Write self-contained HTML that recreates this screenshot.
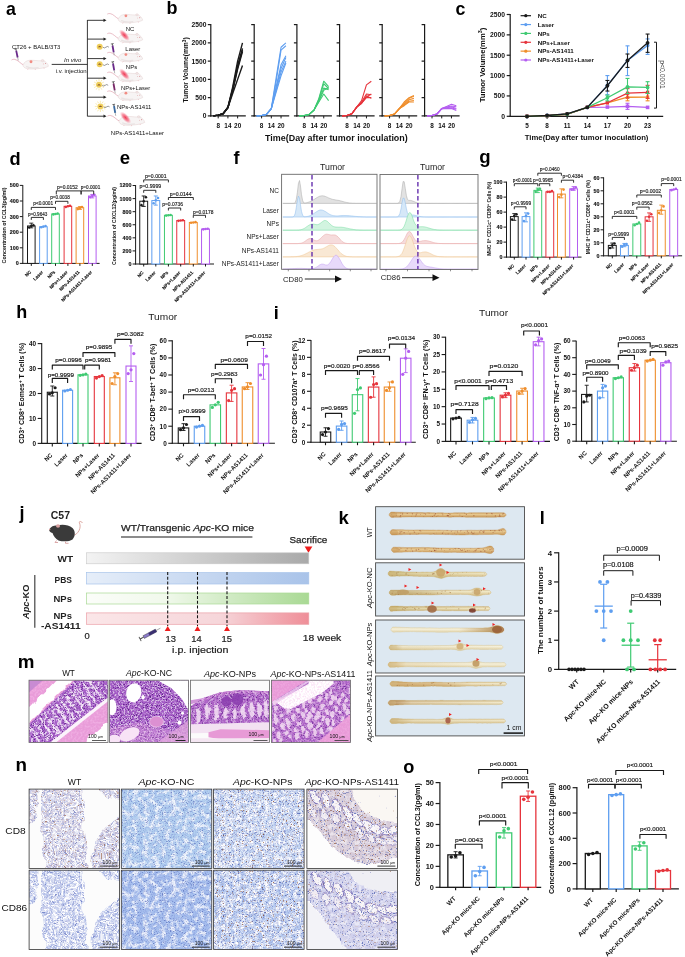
<!DOCTYPE html>
<html><head><meta charset="utf-8"><title>figure</title>
<style>html,body{margin:0;padding:0;background:#fff;}svg{display:block;filter:blur(0.3px);}
text{font-family:"Liberation Sans", sans-serif;}</style></head>
<body><svg width="685" height="957" viewBox="0 0 685 957">
<defs><filter id="mW" x="0" y="0" width="1" height="1" filterUnits="objectBoundingBox" color-interpolation-filters="sRGB"><feTurbulence type="fractalNoise" baseFrequency="0.42" numOctaves="2" seed="3"/><feColorMatrix type="matrix" values="0 0 0 0 1.000  0 0 0 0 1.000  0 0 0 0 1.000  4.2 0 0 0 -1.85"/></filter><filter id="mW2" x="0" y="0" width="1" height="1" filterUnits="objectBoundingBox" color-interpolation-filters="sRGB"><feTurbulence type="fractalNoise" baseFrequency="0.55" numOctaves="2" seed="7"/><feColorMatrix type="matrix" values="0 0 0 0 1.000  0 0 0 0 1.000  0 0 0 0 1.000  4.5 0 0 0 -2.0"/></filter><filter id="mD" x="0" y="0" width="1" height="1" filterUnits="objectBoundingBox" color-interpolation-filters="sRGB"><feTurbulence type="fractalNoise" baseFrequency="1.1" numOctaves="2" seed="5"/><feColorMatrix type="matrix" values="0 0 0 0 0.353  0 0 0 0 0.102  0 0 0 0 0.525  5.0 0 0 0 -2.75"/></filter><filter id="mP" x="0" y="0" width="1" height="1" filterUnits="objectBoundingBox" color-interpolation-filters="sRGB"><feTurbulence type="fractalNoise" baseFrequency="0.5" numOctaves="2" seed="9"/><feColorMatrix type="matrix" values="0 0 0 0 0.957  0 0 0 0 0.722  0 0 0 0 0.910  3.0 0 0 0 -1.2"/></filter><filter id="wob" x="-0.1" y="-0.1" width="1.2" height="1.2"><feTurbulence type="fractalNoise" baseFrequency="0.09" numOctaves="2" seed="4" result="t"/><feDisplacementMap in="SourceGraphic" in2="t" scale="9" xChannelSelector="R" yChannelSelector="G"/></filter><filter id="wob2" x="-0.1" y="-0.1" width="1.2" height="1.2"><feTurbulence type="fractalNoise" baseFrequency="0.15" numOctaves="2" seed="8" result="t"/><feDisplacementMap in="SourceGraphic" in2="t" scale="5" xChannelSelector="R" yChannelSelector="G"/></filter><filter id="nB" x="0" y="0" width="1" height="1" filterUnits="objectBoundingBox" color-interpolation-filters="sRGB"><feTurbulence type="fractalNoise" baseFrequency="0.9" numOctaves="2" seed="11"/><feColorMatrix type="matrix" values="0 0 0 0 0.165  0 0 0 0 0.251  0 0 0 0 0.627  5.5 0 0 0 -3.3"/></filter><filter id="nBr" x="0" y="0" width="1" height="1" filterUnits="objectBoundingBox" color-interpolation-filters="sRGB"><feTurbulence type="fractalNoise" baseFrequency="0.8" numOctaves="2" seed="13"/><feColorMatrix type="matrix" values="0 0 0 0 0.541  0 0 0 0 0.290  0 0 0 0 0.157  6.0 0 0 0 -3.9"/></filter><filter id="nW" x="0" y="0" width="1" height="1" filterUnits="objectBoundingBox" color-interpolation-filters="sRGB"><feTurbulence type="fractalNoise" baseFrequency="0.25" numOctaves="3" seed="17"/><feColorMatrix type="matrix" values="0 0 0 0 1.000  0 0 0 0 1.000  0 0 0 0 1.000  4.0 0 0 0 -1.7"/></filter><filter id="nW2" x="0" y="0" width="1" height="1" filterUnits="objectBoundingBox" color-interpolation-filters="sRGB"><feTurbulence type="fractalNoise" baseFrequency="0.18" numOctaves="3" seed="19"/><feColorMatrix type="matrix" values="0 0 0 0 1.000  0 0 0 0 1.000  0 0 0 0 1.000  4.5 0 0 0 -2.0"/></filter><filter id="nL" x="0" y="0" width="1" height="1" filterUnits="objectBoundingBox" color-interpolation-filters="sRGB"><feTurbulence type="fractalNoise" baseFrequency="0.7" numOctaves="2" seed="23"/><feColorMatrix type="matrix" values="0 0 0 0 0.478  0 0 0 0 0.525  0 0 0 0 0.816  4.0 0 0 0 -1.8"/></filter><filter id="nW3" x="0" y="0" width="1" height="1" filterUnits="objectBoundingBox" color-interpolation-filters="sRGB"><feTurbulence type="fractalNoise" baseFrequency="0.6" numOctaves="2" seed="29"/><feColorMatrix type="matrix" values="0 0 0 0 1.000  0 0 0 0 1.000  0 0 0 0 1.000  4.5 0 0 0 -1.9"/></filter><radialGradient id="glow"><stop offset="0" stop-color="#f0304a" stop-opacity="0.95"/><stop offset="0.55" stop-color="#f25570" stop-opacity="0.6"/><stop offset="1" stop-color="#f8a0b0" stop-opacity="0"/></radialGradient></defs>
<rect width="685" height="957" fill="#fff"/>
<line x1="22.80" y1="185.00" x2="22.80" y2="263.90" stroke="#1a1a1a" stroke-width="1.0" />
<line x1="22.30" y1="263.40" x2="99.60" y2="263.40" stroke="#1a1a1a" stroke-width="1.0" />
<line x1="19.80" y1="263.40" x2="22.80" y2="263.40" stroke="#1a1a1a" stroke-width="1.0" />
<text x="18.70" y="265.34" font-size="5.40" text-anchor="end" fill="#111" font-weight="bold" stroke="#111" stroke-width="0.12">0</text>
<line x1="19.80" y1="247.80" x2="22.80" y2="247.80" stroke="#1a1a1a" stroke-width="1.0" />
<text x="18.70" y="249.74" font-size="5.40" text-anchor="end" fill="#111" font-weight="bold" stroke="#111" stroke-width="0.12">100</text>
<line x1="19.80" y1="232.20" x2="22.80" y2="232.20" stroke="#1a1a1a" stroke-width="1.0" />
<text x="18.70" y="234.14" font-size="5.40" text-anchor="end" fill="#111" font-weight="bold" stroke="#111" stroke-width="0.12">200</text>
<line x1="19.80" y1="216.60" x2="22.80" y2="216.60" stroke="#1a1a1a" stroke-width="1.0" />
<text x="18.70" y="218.54" font-size="5.40" text-anchor="end" fill="#111" font-weight="bold" stroke="#111" stroke-width="0.12">300</text>
<line x1="19.80" y1="201.00" x2="22.80" y2="201.00" stroke="#1a1a1a" stroke-width="1.0" />
<text x="18.70" y="202.94" font-size="5.40" text-anchor="end" fill="#111" font-weight="bold" stroke="#111" stroke-width="0.12">400</text>
<line x1="19.80" y1="185.40" x2="22.80" y2="185.40" stroke="#1a1a1a" stroke-width="1.0" />
<text x="18.70" y="187.34" font-size="5.40" text-anchor="end" fill="#111" font-weight="bold" stroke="#111" stroke-width="0.12">500</text>
<rect x="27.50" y="225.96" width="7.60" height="37.44" fill="#fff" stroke="#1a1a1a" stroke-width="1.0" />
<line x1="31.30" y1="263.40" x2="31.30" y2="265.90" stroke="#1a1a1a" stroke-width="1.0" />
<line x1="31.30" y1="223.15" x2="31.30" y2="227.83" stroke="#1a1a1a" stroke-width="0.9" />
<line x1="29.30" y1="223.15" x2="33.30" y2="223.15" stroke="#1a1a1a" stroke-width="0.9" />
<line x1="29.30" y1="227.83" x2="33.30" y2="227.83" stroke="#1a1a1a" stroke-width="0.9" />
<circle cx="29.17" cy="227.52" r="1.30" fill="#1a1a1a" />
<circle cx="31.30" cy="225.96" r="1.30" fill="#1a1a1a" />
<circle cx="33.43" cy="225.18" r="1.30" fill="#1a1a1a" />
<rect x="39.60" y="226.74" width="7.60" height="36.66" fill="#fff" stroke="#5e9ef0" stroke-width="1.0" />
<line x1="43.40" y1="263.40" x2="43.40" y2="265.90" stroke="#1a1a1a" stroke-width="1.0" />
<circle cx="41.27" cy="227.21" r="1.30" fill="#5e9ef0" />
<circle cx="43.40" cy="226.58" r="1.30" fill="#5e9ef0" />
<circle cx="45.53" cy="225.96" r="1.30" fill="#5e9ef0" />
<rect x="51.70" y="213.95" width="7.60" height="49.45" fill="#fff" stroke="#3fca72" stroke-width="1.0" />
<line x1="55.50" y1="263.40" x2="55.50" y2="265.90" stroke="#1a1a1a" stroke-width="1.0" />
<circle cx="53.37" cy="214.42" r="1.30" fill="#3fca72" />
<circle cx="55.50" cy="213.95" r="1.30" fill="#3fca72" />
<circle cx="57.63" cy="213.48" r="1.30" fill="#3fca72" />
<rect x="64.10" y="206.30" width="7.60" height="57.10" fill="#fff" stroke="#e6343c" stroke-width="1.0" />
<line x1="67.90" y1="263.40" x2="67.90" y2="265.90" stroke="#1a1a1a" stroke-width="1.0" />
<circle cx="65.77" cy="206.93" r="1.30" fill="#e6343c" />
<circle cx="67.90" cy="206.30" r="1.30" fill="#e6343c" />
<circle cx="70.03" cy="205.68" r="1.30" fill="#e6343c" />
<rect x="76.10" y="207.71" width="7.60" height="55.69" fill="#fff" stroke="#ef8e2c" stroke-width="1.0" />
<line x1="79.90" y1="263.40" x2="79.90" y2="265.90" stroke="#1a1a1a" stroke-width="1.0" />
<line x1="79.90" y1="206.62" x2="79.90" y2="209.42" stroke="#ef8e2c" stroke-width="0.9" />
<line x1="77.90" y1="206.62" x2="81.90" y2="206.62" stroke="#ef8e2c" stroke-width="0.9" />
<line x1="77.90" y1="209.42" x2="81.90" y2="209.42" stroke="#ef8e2c" stroke-width="0.9" />
<circle cx="77.77" cy="209.11" r="1.30" fill="#ef8e2c" />
<circle cx="79.90" cy="207.86" r="1.30" fill="#ef8e2c" />
<circle cx="82.03" cy="206.93" r="1.30" fill="#ef8e2c" />
<rect x="88.50" y="196.01" width="7.60" height="67.39" fill="#fff" stroke="#b45ef0" stroke-width="1.0" />
<line x1="92.30" y1="263.40" x2="92.30" y2="265.90" stroke="#1a1a1a" stroke-width="1.0" />
<line x1="92.30" y1="194.45" x2="92.30" y2="197.88" stroke="#b45ef0" stroke-width="0.9" />
<line x1="90.30" y1="194.45" x2="94.30" y2="194.45" stroke="#b45ef0" stroke-width="0.9" />
<line x1="90.30" y1="197.88" x2="94.30" y2="197.88" stroke="#b45ef0" stroke-width="0.9" />
<circle cx="90.17" cy="197.26" r="1.30" fill="#b45ef0" />
<circle cx="92.30" cy="195.85" r="1.30" fill="#b45ef0" />
<circle cx="94.43" cy="194.76" r="1.30" fill="#b45ef0" />
<polyline points="31.30,219.90 31.30,217.40 43.40,217.40 43.40,219.90" stroke="#1a1a1a" stroke-width="0.9" fill="none" stroke-linejoin="round" />
<text x="37.70" y="215.80" font-size="5.00" text-anchor="middle" fill="#222" textLength="19.4" lengthAdjust="spacingAndGlyphs" stroke="#222" stroke-width="0.15">p=0.9643</text>
<polyline points="31.30,209.90 31.30,207.40 55.50,207.40 55.50,209.90" stroke="#1a1a1a" stroke-width="0.9" fill="none" stroke-linejoin="round" />
<text x="43.20" y="205.00" font-size="5.00" text-anchor="middle" fill="#222" textLength="19.9" lengthAdjust="spacingAndGlyphs" stroke="#222" stroke-width="0.15">p&lt;0.0001</text>
<polyline points="55.50,203.80 55.50,201.30 67.90,201.30 67.90,203.80" stroke="#1a1a1a" stroke-width="0.9" fill="none" stroke-linejoin="round" />
<text x="60.00" y="199.10" font-size="5.00" text-anchor="middle" fill="#222" textLength="19.5" lengthAdjust="spacingAndGlyphs" stroke="#222" stroke-width="0.15">p=0.0038</text>
<polyline points="56.30,194.40 56.30,190.90 81.10,190.90 81.10,194.40" stroke="#1a1a1a" stroke-width="0.9" fill="none" stroke-linejoin="round" />
<text x="67.40" y="188.80" font-size="5.00" text-anchor="middle" fill="#222" textLength="20.8" lengthAdjust="spacingAndGlyphs" stroke="#222" stroke-width="0.15">p=0.0152</text>
<polyline points="81.10,194.40 81.10,190.90 93.70,190.90 93.70,194.40" stroke="#1a1a1a" stroke-width="0.9" fill="none" stroke-linejoin="round" />
<text x="90.50" y="188.80" font-size="5.00" text-anchor="middle" fill="#222" textLength="19.5" lengthAdjust="spacingAndGlyphs" stroke="#222" stroke-width="0.15">p=0.0001</text>
<text transform="translate(4.60,225.40) rotate(-90)" x="0" y="1.73" font-size="4.80" text-anchor="middle" fill="#111" font-weight="bold" textLength="76.0" lengthAdjust="spacingAndGlyphs">Concentration of CCL3(pg/ml)</text>
<text transform="translate(30.30,271.20) rotate(-45)" x="0" y="1.66" font-size="4.60" text-anchor="end" fill="#111" font-weight="bold" stroke="#111" stroke-width="0.12">NC</text>
<text transform="translate(42.40,271.20) rotate(-45)" x="0" y="1.66" font-size="4.60" text-anchor="end" fill="#111" font-weight="bold" stroke="#111" stroke-width="0.12">Laser</text>
<text transform="translate(54.50,271.20) rotate(-45)" x="0" y="1.66" font-size="4.60" text-anchor="end" fill="#111" font-weight="bold" stroke="#111" stroke-width="0.12">NPs</text>
<text transform="translate(66.90,271.20) rotate(-45)" x="0" y="1.66" font-size="4.60" text-anchor="end" fill="#111" font-weight="bold" stroke="#111" stroke-width="0.12">NPs+Laser</text>
<text transform="translate(78.90,271.20) rotate(-45)" x="0" y="1.66" font-size="4.60" text-anchor="end" fill="#111" font-weight="bold" stroke="#111" stroke-width="0.12">NPs-AS1411</text>
<text transform="translate(91.30,271.20) rotate(-45)" x="0" y="1.66" font-size="4.60" text-anchor="end" fill="#111" font-weight="bold" stroke="#111" stroke-width="0.12">NPs-AS1411+Laser</text>
<line x1="135.60" y1="185.00" x2="135.60" y2="264.50" stroke="#1a1a1a" stroke-width="1.0" />
<line x1="135.10" y1="264.00" x2="214.00" y2="264.00" stroke="#1a1a1a" stroke-width="1.0" />
<line x1="132.60" y1="264.00" x2="135.60" y2="264.00" stroke="#1a1a1a" stroke-width="1.0" />
<text x="131.50" y="265.94" font-size="5.40" text-anchor="end" fill="#111" font-weight="bold" stroke="#111" stroke-width="0.12">0</text>
<line x1="132.60" y1="250.92" x2="135.60" y2="250.92" stroke="#1a1a1a" stroke-width="1.0" />
<text x="131.50" y="252.86" font-size="5.40" text-anchor="end" fill="#111" font-weight="bold" stroke="#111" stroke-width="0.12">200</text>
<line x1="132.60" y1="237.84" x2="135.60" y2="237.84" stroke="#1a1a1a" stroke-width="1.0" />
<text x="131.50" y="239.78" font-size="5.40" text-anchor="end" fill="#111" font-weight="bold" stroke="#111" stroke-width="0.12">400</text>
<line x1="132.60" y1="224.76" x2="135.60" y2="224.76" stroke="#1a1a1a" stroke-width="1.0" />
<text x="131.50" y="226.70" font-size="5.40" text-anchor="end" fill="#111" font-weight="bold" stroke="#111" stroke-width="0.12">600</text>
<line x1="132.60" y1="211.68" x2="135.60" y2="211.68" stroke="#1a1a1a" stroke-width="1.0" />
<text x="131.50" y="213.62" font-size="5.40" text-anchor="end" fill="#111" font-weight="bold" stroke="#111" stroke-width="0.12">800</text>
<line x1="132.60" y1="198.60" x2="135.60" y2="198.60" stroke="#1a1a1a" stroke-width="1.0" />
<text x="131.50" y="200.54" font-size="5.40" text-anchor="end" fill="#111" font-weight="bold" stroke="#111" stroke-width="0.12">1000</text>
<line x1="132.60" y1="185.52" x2="135.60" y2="185.52" stroke="#1a1a1a" stroke-width="1.0" />
<text x="131.50" y="187.46" font-size="5.40" text-anchor="end" fill="#111" font-weight="bold" stroke="#111" stroke-width="0.12">1200</text>
<rect x="139.75" y="201.22" width="7.90" height="62.78" fill="#fff" stroke="#1a1a1a" stroke-width="1.0" />
<line x1="143.70" y1="264.00" x2="143.70" y2="266.50" stroke="#1a1a1a" stroke-width="1.0" />
<line x1="143.70" y1="195.98" x2="143.70" y2="206.45" stroke="#1a1a1a" stroke-width="0.9" />
<line x1="141.70" y1="195.98" x2="145.70" y2="195.98" stroke="#1a1a1a" stroke-width="0.9" />
<line x1="141.70" y1="206.45" x2="145.70" y2="206.45" stroke="#1a1a1a" stroke-width="0.9" />
<circle cx="141.49" cy="205.14" r="1.30" fill="#1a1a1a" />
<circle cx="143.70" cy="201.22" r="1.30" fill="#1a1a1a" />
<circle cx="145.91" cy="197.29" r="1.30" fill="#1a1a1a" />
<rect x="151.85" y="200.56" width="7.90" height="63.44" fill="#fff" stroke="#5e9ef0" stroke-width="1.0" />
<line x1="155.80" y1="264.00" x2="155.80" y2="266.50" stroke="#1a1a1a" stroke-width="1.0" />
<line x1="155.80" y1="195.98" x2="155.80" y2="205.14" stroke="#5e9ef0" stroke-width="0.9" />
<line x1="153.80" y1="195.98" x2="157.80" y2="195.98" stroke="#5e9ef0" stroke-width="0.9" />
<line x1="153.80" y1="205.14" x2="157.80" y2="205.14" stroke="#5e9ef0" stroke-width="0.9" />
<circle cx="153.59" cy="203.18" r="1.30" fill="#5e9ef0" />
<circle cx="155.80" cy="200.24" r="1.30" fill="#5e9ef0" />
<circle cx="158.01" cy="197.95" r="1.30" fill="#5e9ef0" />
<rect x="164.45" y="215.28" width="7.90" height="48.72" fill="#fff" stroke="#3fca72" stroke-width="1.0" />
<line x1="168.40" y1="264.00" x2="168.40" y2="266.50" stroke="#1a1a1a" stroke-width="1.0" />
<circle cx="166.19" cy="215.60" r="1.30" fill="#3fca72" />
<circle cx="168.40" cy="215.28" r="1.30" fill="#3fca72" />
<circle cx="170.61" cy="214.95" r="1.30" fill="#3fca72" />
<rect x="176.75" y="220.51" width="7.90" height="43.49" fill="#fff" stroke="#e6343c" stroke-width="1.0" />
<line x1="180.70" y1="264.00" x2="180.70" y2="266.50" stroke="#1a1a1a" stroke-width="1.0" />
<circle cx="178.49" cy="220.84" r="1.30" fill="#e6343c" />
<circle cx="180.70" cy="220.51" r="1.30" fill="#e6343c" />
<circle cx="182.91" cy="220.18" r="1.30" fill="#e6343c" />
<rect x="189.35" y="222.47" width="7.90" height="41.53" fill="#fff" stroke="#ef8e2c" stroke-width="1.0" />
<line x1="193.30" y1="264.00" x2="193.30" y2="266.50" stroke="#1a1a1a" stroke-width="1.0" />
<circle cx="191.09" cy="222.80" r="1.30" fill="#ef8e2c" />
<circle cx="193.30" cy="222.47" r="1.30" fill="#ef8e2c" />
<circle cx="195.51" cy="222.14" r="1.30" fill="#ef8e2c" />
<rect x="201.55" y="229.01" width="7.90" height="34.99" fill="#fff" stroke="#b45ef0" stroke-width="1.0" />
<line x1="205.50" y1="264.00" x2="205.50" y2="266.50" stroke="#1a1a1a" stroke-width="1.0" />
<circle cx="203.29" cy="229.34" r="1.30" fill="#b45ef0" />
<circle cx="205.50" cy="229.01" r="1.30" fill="#b45ef0" />
<circle cx="207.71" cy="228.68" r="1.30" fill="#b45ef0" />
<polyline points="143.70,182.40 143.70,179.90 168.40,179.90 168.40,182.40" stroke="#1a1a1a" stroke-width="0.9" fill="none" stroke-linejoin="round" />
<text x="155.80" y="177.80" font-size="5.00" text-anchor="middle" fill="#222" textLength="21.6" lengthAdjust="spacingAndGlyphs" stroke="#222" stroke-width="0.15">p=0.0001</text>
<polyline points="143.70,192.80 143.70,190.30 155.80,190.30 155.80,192.80" stroke="#1a1a1a" stroke-width="0.9" fill="none" stroke-linejoin="round" />
<text x="150.30" y="188.30" font-size="5.00" text-anchor="middle" fill="#222" textLength="21.8" lengthAdjust="spacingAndGlyphs" stroke="#222" stroke-width="0.15">p=0.9999</text>
<polyline points="168.40,200.00 168.40,197.50 193.30,197.50 193.30,200.00" stroke="#1a1a1a" stroke-width="0.9" fill="none" stroke-linejoin="round" />
<text x="180.70" y="195.80" font-size="5.00" text-anchor="middle" fill="#222" textLength="21.8" lengthAdjust="spacingAndGlyphs" stroke="#222" stroke-width="0.15">p=0.0144</text>
<polyline points="168.40,210.50 168.40,208.00 180.70,208.00 180.70,210.50" stroke="#1a1a1a" stroke-width="0.9" fill="none" stroke-linejoin="round" />
<text x="172.60" y="206.30" font-size="5.00" text-anchor="middle" fill="#222" textLength="20.8" lengthAdjust="spacingAndGlyphs" stroke="#222" stroke-width="0.15">p=0.0736</text>
<polyline points="193.30,217.80 193.30,215.30 205.50,215.30 205.50,217.80" stroke="#1a1a1a" stroke-width="0.9" fill="none" stroke-linejoin="round" />
<text x="203.20" y="213.50" font-size="5.00" text-anchor="middle" fill="#222" textLength="20.4" lengthAdjust="spacingAndGlyphs" stroke="#222" stroke-width="0.15">p=0.0178</text>
<text transform="translate(114.00,226.00) rotate(-90)" x="0" y="1.73" font-size="4.80" text-anchor="middle" fill="#111" font-weight="bold" textLength="78.0" lengthAdjust="spacingAndGlyphs">Concentration of CXCL12(pg/ml)</text>
<text transform="translate(142.70,271.80) rotate(-45)" x="0" y="1.66" font-size="4.60" text-anchor="end" fill="#111" font-weight="bold" stroke="#111" stroke-width="0.12">NC</text>
<text transform="translate(154.80,271.80) rotate(-45)" x="0" y="1.66" font-size="4.60" text-anchor="end" fill="#111" font-weight="bold" stroke="#111" stroke-width="0.12">Laser</text>
<text transform="translate(167.40,271.80) rotate(-45)" x="0" y="1.66" font-size="4.60" text-anchor="end" fill="#111" font-weight="bold" stroke="#111" stroke-width="0.12">NPs</text>
<text transform="translate(179.70,271.80) rotate(-45)" x="0" y="1.66" font-size="4.60" text-anchor="end" fill="#111" font-weight="bold" stroke="#111" stroke-width="0.12">NPs+Laser</text>
<text transform="translate(192.30,271.80) rotate(-45)" x="0" y="1.66" font-size="4.60" text-anchor="end" fill="#111" font-weight="bold" stroke="#111" stroke-width="0.12">NPs-AS1411</text>
<text transform="translate(204.50,271.80) rotate(-45)" x="0" y="1.66" font-size="4.60" text-anchor="end" fill="#111" font-weight="bold" stroke="#111" stroke-width="0.12">NPs-AS1411+Laser</text>
<line x1="506.50" y1="181.60" x2="506.50" y2="257.60" stroke="#1a1a1a" stroke-width="1.0" />
<line x1="506.00" y1="257.10" x2="581.50" y2="257.10" stroke="#1a1a1a" stroke-width="1.0" />
<line x1="503.50" y1="257.10" x2="506.50" y2="257.10" stroke="#1a1a1a" stroke-width="1.0" />
<text x="502.40" y="259.04" font-size="5.40" text-anchor="end" fill="#111" font-weight="bold" stroke="#111" stroke-width="0.12">0</text>
<line x1="503.50" y1="242.10" x2="506.50" y2="242.10" stroke="#1a1a1a" stroke-width="1.0" />
<text x="502.40" y="244.04" font-size="5.40" text-anchor="end" fill="#111" font-weight="bold" stroke="#111" stroke-width="0.12">20</text>
<line x1="503.50" y1="227.10" x2="506.50" y2="227.10" stroke="#1a1a1a" stroke-width="1.0" />
<text x="502.40" y="229.04" font-size="5.40" text-anchor="end" fill="#111" font-weight="bold" stroke="#111" stroke-width="0.12">40</text>
<line x1="503.50" y1="212.10" x2="506.50" y2="212.10" stroke="#1a1a1a" stroke-width="1.0" />
<text x="502.40" y="214.04" font-size="5.40" text-anchor="end" fill="#111" font-weight="bold" stroke="#111" stroke-width="0.12">60</text>
<line x1="503.50" y1="197.10" x2="506.50" y2="197.10" stroke="#1a1a1a" stroke-width="1.0" />
<text x="502.40" y="199.04" font-size="5.40" text-anchor="end" fill="#111" font-weight="bold" stroke="#111" stroke-width="0.12">80</text>
<line x1="503.50" y1="182.10" x2="506.50" y2="182.10" stroke="#1a1a1a" stroke-width="1.0" />
<text x="502.40" y="184.04" font-size="5.40" text-anchor="end" fill="#111" font-weight="bold" stroke="#111" stroke-width="0.12">100</text>
<rect x="510.40" y="216.60" width="7.80" height="40.50" fill="#fff" stroke="#1a1a1a" stroke-width="1.0" />
<line x1="514.30" y1="257.10" x2="514.30" y2="259.60" stroke="#1a1a1a" stroke-width="1.0" />
<line x1="514.30" y1="213.60" x2="514.30" y2="220.35" stroke="#1a1a1a" stroke-width="0.9" />
<line x1="512.30" y1="213.60" x2="516.30" y2="213.60" stroke="#1a1a1a" stroke-width="0.9" />
<line x1="512.30" y1="220.35" x2="516.30" y2="220.35" stroke="#1a1a1a" stroke-width="0.9" />
<circle cx="512.12" cy="219.60" r="1.30" fill="#1a1a1a" />
<circle cx="514.30" cy="215.85" r="1.30" fill="#1a1a1a" />
<circle cx="516.48" cy="214.35" r="1.30" fill="#1a1a1a" />
<rect x="522.10" y="216.60" width="7.80" height="40.50" fill="#fff" stroke="#5e9ef0" stroke-width="1.0" />
<line x1="526.00" y1="257.10" x2="526.00" y2="259.60" stroke="#1a1a1a" stroke-width="1.0" />
<line x1="526.00" y1="212.85" x2="526.00" y2="221.85" stroke="#5e9ef0" stroke-width="0.9" />
<line x1="524.00" y1="212.85" x2="528.00" y2="212.85" stroke="#5e9ef0" stroke-width="0.9" />
<line x1="524.00" y1="221.85" x2="528.00" y2="221.85" stroke="#5e9ef0" stroke-width="0.9" />
<circle cx="523.82" cy="221.10" r="1.30" fill="#5e9ef0" />
<circle cx="526.00" cy="215.85" r="1.30" fill="#5e9ef0" />
<circle cx="528.18" cy="213.60" r="1.30" fill="#5e9ef0" />
<rect x="533.90" y="190.35" width="7.80" height="66.75" fill="#fff" stroke="#3fca72" stroke-width="1.0" />
<line x1="537.80" y1="257.10" x2="537.80" y2="259.60" stroke="#1a1a1a" stroke-width="1.0" />
<line x1="537.80" y1="188.10" x2="537.80" y2="192.60" stroke="#3fca72" stroke-width="0.9" />
<line x1="535.80" y1="188.10" x2="539.80" y2="188.10" stroke="#3fca72" stroke-width="0.9" />
<line x1="535.80" y1="192.60" x2="539.80" y2="192.60" stroke="#3fca72" stroke-width="0.9" />
<circle cx="535.62" cy="191.85" r="1.30" fill="#3fca72" />
<circle cx="537.80" cy="189.60" r="1.30" fill="#3fca72" />
<circle cx="539.98" cy="188.85" r="1.30" fill="#3fca72" />
<rect x="545.90" y="191.85" width="7.80" height="65.25" fill="#fff" stroke="#e6343c" stroke-width="1.0" />
<line x1="549.80" y1="257.10" x2="549.80" y2="259.60" stroke="#1a1a1a" stroke-width="1.0" />
<circle cx="547.62" cy="191.85" r="1.30" fill="#e6343c" />
<circle cx="549.80" cy="191.85" r="1.30" fill="#e6343c" />
<circle cx="551.98" cy="191.10" r="1.30" fill="#e6343c" />
<rect x="557.50" y="194.10" width="7.80" height="63.00" fill="#fff" stroke="#ef8e2c" stroke-width="1.0" />
<line x1="561.40" y1="257.10" x2="561.40" y2="259.60" stroke="#1a1a1a" stroke-width="1.0" />
<line x1="561.40" y1="188.85" x2="561.40" y2="197.85" stroke="#ef8e2c" stroke-width="0.9" />
<line x1="559.40" y1="188.85" x2="563.40" y2="188.85" stroke="#ef8e2c" stroke-width="0.9" />
<line x1="559.40" y1="197.85" x2="563.40" y2="197.85" stroke="#ef8e2c" stroke-width="0.9" />
<circle cx="559.22" cy="197.10" r="1.30" fill="#ef8e2c" />
<circle cx="561.40" cy="194.85" r="1.30" fill="#ef8e2c" />
<circle cx="563.58" cy="189.60" r="1.30" fill="#ef8e2c" />
<rect x="569.70" y="188.85" width="7.80" height="68.25" fill="#fff" stroke="#b45ef0" stroke-width="1.0" />
<line x1="573.60" y1="257.10" x2="573.60" y2="259.60" stroke="#1a1a1a" stroke-width="1.0" />
<line x1="573.60" y1="186.60" x2="573.60" y2="190.35" stroke="#b45ef0" stroke-width="0.9" />
<line x1="571.60" y1="186.60" x2="575.60" y2="186.60" stroke="#b45ef0" stroke-width="0.9" />
<line x1="571.60" y1="190.35" x2="575.60" y2="190.35" stroke="#b45ef0" stroke-width="0.9" />
<circle cx="571.42" cy="189.60" r="1.30" fill="#b45ef0" />
<circle cx="573.60" cy="188.85" r="1.30" fill="#b45ef0" />
<circle cx="575.78" cy="187.35" r="1.30" fill="#b45ef0" />
<polyline points="514.30,209.30 514.30,206.80 526.00,206.80 526.00,209.30" stroke="#1a1a1a" stroke-width="0.9" fill="none" stroke-linejoin="round" />
<text x="521.00" y="205.00" font-size="5.00" text-anchor="middle" fill="#222" textLength="20.3" lengthAdjust="spacingAndGlyphs" stroke="#222" stroke-width="0.15">p=0.9999</text>
<polyline points="514.30,186.20 514.30,183.70 537.80,183.70 537.80,186.20" stroke="#1a1a1a" stroke-width="0.9" fill="none" stroke-linejoin="round" />
<text x="522.50" y="182.00" font-size="5.00" text-anchor="middle" fill="#222" textLength="19.3" lengthAdjust="spacingAndGlyphs" stroke="#222" stroke-width="0.15">p&lt;0.0001</text>
<polyline points="539.30,186.20 539.30,183.70 549.80,183.70 549.80,186.20" stroke="#1a1a1a" stroke-width="0.9" fill="none" stroke-linejoin="round" />
<text x="543.00" y="182.00" font-size="5.00" text-anchor="middle" fill="#222" textLength="20.0" lengthAdjust="spacingAndGlyphs" stroke="#222" stroke-width="0.15">p=0.9965</text>
<polyline points="537.80,175.70 537.80,173.20 561.40,173.20 561.40,175.70" stroke="#1a1a1a" stroke-width="0.9" fill="none" stroke-linejoin="round" />
<text x="549.60" y="171.20" font-size="5.00" text-anchor="middle" fill="#222" textLength="19.9" lengthAdjust="spacingAndGlyphs" stroke="#222" stroke-width="0.15">p=0.0460</text>
<polyline points="561.40,182.70 561.40,180.20 573.60,180.20 573.60,182.70" stroke="#1a1a1a" stroke-width="0.9" fill="none" stroke-linejoin="round" />
<text x="572.70" y="177.80" font-size="5.00" text-anchor="middle" fill="#222" textLength="20.5" lengthAdjust="spacingAndGlyphs" stroke="#222" stroke-width="0.15">p=0.4384</text>
<text transform="translate(489.60,218.80) rotate(-90)" x="0" y="1.66" font-size="4.60" text-anchor="middle" fill="#111" font-weight="bold" textLength="74.0" lengthAdjust="spacingAndGlyphs">MHC II<tspan baseline-shift="super" font-size="70%">+</tspan> CD11c<tspan baseline-shift="super" font-size="70%">+</tspan> CD80<tspan baseline-shift="super" font-size="70%">+</tspan> Cells (%)</text>
<text transform="translate(513.30,264.90) rotate(-45)" x="0" y="1.66" font-size="4.60" text-anchor="end" fill="#111" font-weight="bold" stroke="#111" stroke-width="0.12">NC</text>
<text transform="translate(525.00,264.90) rotate(-45)" x="0" y="1.66" font-size="4.60" text-anchor="end" fill="#111" font-weight="bold" stroke="#111" stroke-width="0.12">Laser</text>
<text transform="translate(536.80,264.90) rotate(-45)" x="0" y="1.66" font-size="4.60" text-anchor="end" fill="#111" font-weight="bold" stroke="#111" stroke-width="0.12">NPs</text>
<text transform="translate(548.80,264.90) rotate(-45)" x="0" y="1.66" font-size="4.60" text-anchor="end" fill="#111" font-weight="bold" stroke="#111" stroke-width="0.12">NPs+Laser</text>
<text transform="translate(560.40,264.90) rotate(-45)" x="0" y="1.66" font-size="4.60" text-anchor="end" fill="#111" font-weight="bold" stroke="#111" stroke-width="0.12">NPs-AS1411</text>
<text transform="translate(572.60,264.90) rotate(-45)" x="0" y="1.66" font-size="4.60" text-anchor="end" fill="#111" font-weight="bold" stroke="#111" stroke-width="0.12">NPs-AS1411+Laser</text>
<line x1="603.60" y1="177.30" x2="603.60" y2="256.30" stroke="#1a1a1a" stroke-width="1.0" />
<line x1="603.10" y1="255.80" x2="682.10" y2="255.80" stroke="#1a1a1a" stroke-width="1.0" />
<line x1="600.60" y1="255.80" x2="603.60" y2="255.80" stroke="#1a1a1a" stroke-width="1.0" />
<text x="599.50" y="257.74" font-size="5.40" text-anchor="end" fill="#111" font-weight="bold" stroke="#111" stroke-width="0.12">0</text>
<line x1="600.60" y1="242.80" x2="603.60" y2="242.80" stroke="#1a1a1a" stroke-width="1.0" />
<text x="599.50" y="244.74" font-size="5.40" text-anchor="end" fill="#111" font-weight="bold" stroke="#111" stroke-width="0.12">10</text>
<line x1="600.60" y1="229.80" x2="603.60" y2="229.80" stroke="#1a1a1a" stroke-width="1.0" />
<text x="599.50" y="231.74" font-size="5.40" text-anchor="end" fill="#111" font-weight="bold" stroke="#111" stroke-width="0.12">20</text>
<line x1="600.60" y1="216.80" x2="603.60" y2="216.80" stroke="#1a1a1a" stroke-width="1.0" />
<text x="599.50" y="218.74" font-size="5.40" text-anchor="end" fill="#111" font-weight="bold" stroke="#111" stroke-width="0.12">30</text>
<line x1="600.60" y1="203.80" x2="603.60" y2="203.80" stroke="#1a1a1a" stroke-width="1.0" />
<text x="599.50" y="205.74" font-size="5.40" text-anchor="end" fill="#111" font-weight="bold" stroke="#111" stroke-width="0.12">40</text>
<line x1="600.60" y1="190.80" x2="603.60" y2="190.80" stroke="#1a1a1a" stroke-width="1.0" />
<text x="599.50" y="192.74" font-size="5.40" text-anchor="end" fill="#111" font-weight="bold" stroke="#111" stroke-width="0.12">50</text>
<line x1="600.60" y1="177.80" x2="603.60" y2="177.80" stroke="#1a1a1a" stroke-width="1.0" />
<text x="599.50" y="179.74" font-size="5.40" text-anchor="end" fill="#111" font-weight="bold" stroke="#111" stroke-width="0.12">60</text>
<rect x="608.35" y="245.40" width="7.90" height="10.40" fill="#fff" stroke="#1a1a1a" stroke-width="1.0" />
<line x1="612.30" y1="255.80" x2="612.30" y2="258.30" stroke="#1a1a1a" stroke-width="1.0" />
<line x1="612.30" y1="243.06" x2="612.30" y2="248.00" stroke="#1a1a1a" stroke-width="0.9" />
<line x1="610.30" y1="243.06" x2="614.30" y2="243.06" stroke="#1a1a1a" stroke-width="0.9" />
<line x1="610.30" y1="248.00" x2="614.30" y2="248.00" stroke="#1a1a1a" stroke-width="0.9" />
<circle cx="610.09" cy="248.00" r="1.30" fill="#1a1a1a" />
<circle cx="612.30" cy="245.40" r="1.30" fill="#1a1a1a" />
<circle cx="614.51" cy="243.45" r="1.30" fill="#1a1a1a" />
<rect x="620.45" y="245.40" width="7.90" height="10.40" fill="#fff" stroke="#5e9ef0" stroke-width="1.0" />
<line x1="624.40" y1="255.80" x2="624.40" y2="258.30" stroke="#1a1a1a" stroke-width="1.0" />
<line x1="624.40" y1="243.45" x2="624.40" y2="246.70" stroke="#5e9ef0" stroke-width="0.9" />
<line x1="622.40" y1="243.45" x2="626.40" y2="243.45" stroke="#5e9ef0" stroke-width="0.9" />
<line x1="622.40" y1="246.70" x2="626.40" y2="246.70" stroke="#5e9ef0" stroke-width="0.9" />
<circle cx="622.19" cy="246.70" r="1.30" fill="#5e9ef0" />
<circle cx="624.40" cy="244.75" r="1.30" fill="#5e9ef0" />
<circle cx="626.61" cy="244.10" r="1.30" fill="#5e9ef0" />
<rect x="632.85" y="223.95" width="7.90" height="31.85" fill="#fff" stroke="#3fca72" stroke-width="1.0" />
<line x1="636.80" y1="255.80" x2="636.80" y2="258.30" stroke="#1a1a1a" stroke-width="1.0" />
<circle cx="634.59" cy="225.25" r="1.30" fill="#3fca72" />
<circle cx="636.80" cy="223.95" r="1.30" fill="#3fca72" />
<circle cx="639.01" cy="222.65" r="1.30" fill="#3fca72" />
<rect x="645.15" y="216.80" width="7.90" height="39.00" fill="#fff" stroke="#e6343c" stroke-width="1.0" />
<line x1="649.10" y1="255.80" x2="649.10" y2="258.30" stroke="#1a1a1a" stroke-width="1.0" />
<line x1="649.10" y1="212.90" x2="649.10" y2="221.35" stroke="#e6343c" stroke-width="0.9" />
<line x1="647.10" y1="212.90" x2="651.10" y2="212.90" stroke="#e6343c" stroke-width="0.9" />
<line x1="647.10" y1="221.35" x2="651.10" y2="221.35" stroke="#e6343c" stroke-width="0.9" />
<circle cx="646.89" cy="220.70" r="1.30" fill="#e6343c" />
<circle cx="649.10" cy="216.80" r="1.30" fill="#e6343c" />
<circle cx="651.31" cy="214.20" r="1.30" fill="#e6343c" />
<rect x="657.35" y="210.30" width="7.90" height="45.50" fill="#fff" stroke="#ef8e2c" stroke-width="1.0" />
<line x1="661.30" y1="255.80" x2="661.30" y2="258.30" stroke="#1a1a1a" stroke-width="1.0" />
<line x1="661.30" y1="205.10" x2="661.30" y2="214.20" stroke="#ef8e2c" stroke-width="0.9" />
<line x1="659.30" y1="205.10" x2="663.30" y2="205.10" stroke="#ef8e2c" stroke-width="0.9" />
<line x1="659.30" y1="214.20" x2="663.30" y2="214.20" stroke="#ef8e2c" stroke-width="0.9" />
<circle cx="659.09" cy="212.90" r="1.30" fill="#ef8e2c" />
<circle cx="661.30" cy="210.30" r="1.30" fill="#ef8e2c" />
<circle cx="663.51" cy="206.40" r="1.30" fill="#ef8e2c" />
<rect x="669.75" y="189.50" width="7.90" height="66.30" fill="#fff" stroke="#b45ef0" stroke-width="1.0" />
<line x1="673.70" y1="255.80" x2="673.70" y2="258.30" stroke="#1a1a1a" stroke-width="1.0" />
<circle cx="671.49" cy="190.15" r="1.30" fill="#b45ef0" />
<circle cx="673.70" cy="189.50" r="1.30" fill="#b45ef0" />
<circle cx="675.91" cy="188.85" r="1.30" fill="#b45ef0" />
<polyline points="612.30,239.90 612.30,237.40 624.40,237.40 624.40,239.90" stroke="#1a1a1a" stroke-width="0.9" fill="none" stroke-linejoin="round" />
<text x="618.70" y="235.80" font-size="5.00" text-anchor="middle" fill="#222" textLength="20.8" lengthAdjust="spacingAndGlyphs" stroke="#222" stroke-width="0.15">p=0.9999</text>
<polyline points="612.30,218.90 612.30,216.40 636.80,216.40 636.80,218.90" stroke="#1a1a1a" stroke-width="0.9" fill="none" stroke-linejoin="round" />
<text x="624.30" y="214.00" font-size="5.00" text-anchor="middle" fill="#222" textLength="20.6" lengthAdjust="spacingAndGlyphs" stroke="#222" stroke-width="0.15">p&lt;0.0001</text>
<polyline points="636.80,209.60 636.80,207.10 649.10,207.10 649.10,209.60" stroke="#1a1a1a" stroke-width="0.9" fill="none" stroke-linejoin="round" />
<text x="642.20" y="205.30" font-size="5.00" text-anchor="middle" fill="#222" textLength="20.8" lengthAdjust="spacingAndGlyphs" stroke="#222" stroke-width="0.15">p=0.0562</text>
<polyline points="636.80,197.50 636.80,195.00 661.30,195.00 661.30,197.50" stroke="#1a1a1a" stroke-width="0.9" fill="none" stroke-linejoin="round" />
<text x="650.40" y="193.00" font-size="5.00" text-anchor="middle" fill="#222" textLength="21.5" lengthAdjust="spacingAndGlyphs" stroke="#222" stroke-width="0.15">p=0.0002</text>
<polyline points="661.30,186.10 661.30,183.60 673.70,183.60 673.70,186.10" stroke="#1a1a1a" stroke-width="0.9" fill="none" stroke-linejoin="round" />
<text x="671.40" y="181.20" font-size="5.00" text-anchor="middle" fill="#222" textLength="20.4" lengthAdjust="spacingAndGlyphs" stroke="#222" stroke-width="0.15">p=0.0001</text>
<text transform="translate(588.60,217.20) rotate(-90)" x="0" y="1.66" font-size="4.60" text-anchor="middle" fill="#111" font-weight="bold" textLength="74.0" lengthAdjust="spacingAndGlyphs">MHC II<tspan baseline-shift="super" font-size="70%">+</tspan> CD11c<tspan baseline-shift="super" font-size="70%">+</tspan> CD86<tspan baseline-shift="super" font-size="70%">+</tspan> Cells (%)</text>
<text transform="translate(611.30,263.60) rotate(-45)" x="0" y="1.66" font-size="4.60" text-anchor="end" fill="#111" font-weight="bold" stroke="#111" stroke-width="0.12">NC</text>
<text transform="translate(623.40,263.60) rotate(-45)" x="0" y="1.66" font-size="4.60" text-anchor="end" fill="#111" font-weight="bold" stroke="#111" stroke-width="0.12">Laser</text>
<text transform="translate(635.80,263.60) rotate(-45)" x="0" y="1.66" font-size="4.60" text-anchor="end" fill="#111" font-weight="bold" stroke="#111" stroke-width="0.12">NPs</text>
<text transform="translate(648.10,263.60) rotate(-45)" x="0" y="1.66" font-size="4.60" text-anchor="end" fill="#111" font-weight="bold" stroke="#111" stroke-width="0.12">NPs+Laser</text>
<text transform="translate(660.30,263.60) rotate(-45)" x="0" y="1.66" font-size="4.60" text-anchor="end" fill="#111" font-weight="bold" stroke="#111" stroke-width="0.12">NPs-AS1411</text>
<text transform="translate(672.70,263.60) rotate(-45)" x="0" y="1.66" font-size="4.60" text-anchor="end" fill="#111" font-weight="bold" stroke="#111" stroke-width="0.12">NPs-AS1411+Laser</text>
<line x1="41.70" y1="343.10" x2="41.70" y2="443.95" stroke="#1a1a1a" stroke-width="1.1" />
<line x1="41.15" y1="443.40" x2="141.60" y2="443.40" stroke="#1a1a1a" stroke-width="1.1" />
<line x1="37.70" y1="443.40" x2="41.70" y2="443.40" stroke="#1a1a1a" stroke-width="1.1" />
<text x="36.10" y="445.70" font-size="6.40" text-anchor="end" fill="#111" font-weight="bold">0</text>
<line x1="37.70" y1="418.45" x2="41.70" y2="418.45" stroke="#1a1a1a" stroke-width="1.1" />
<text x="36.10" y="420.75" font-size="6.40" text-anchor="end" fill="#111" font-weight="bold">10</text>
<line x1="37.70" y1="393.50" x2="41.70" y2="393.50" stroke="#1a1a1a" stroke-width="1.1" />
<text x="36.10" y="395.80" font-size="6.40" text-anchor="end" fill="#111" font-weight="bold">20</text>
<line x1="37.70" y1="368.55" x2="41.70" y2="368.55" stroke="#1a1a1a" stroke-width="1.1" />
<text x="36.10" y="370.85" font-size="6.40" text-anchor="end" fill="#111" font-weight="bold">30</text>
<line x1="37.70" y1="343.60" x2="41.70" y2="343.60" stroke="#1a1a1a" stroke-width="1.1" />
<text x="36.10" y="345.90" font-size="6.40" text-anchor="end" fill="#111" font-weight="bold">40</text>
<rect x="47.30" y="392.25" width="10.00" height="51.15" fill="#fff" stroke="#1a1a1a" stroke-width="1.1" />
<line x1="52.30" y1="443.40" x2="52.30" y2="446.40" stroke="#1a1a1a" stroke-width="1.1" />
<line x1="52.30" y1="386.01" x2="52.30" y2="396.00" stroke="#1a1a1a" stroke-width="0.9" />
<line x1="50.30" y1="386.01" x2="54.30" y2="386.01" stroke="#1a1a1a" stroke-width="0.9" />
<line x1="50.30" y1="396.00" x2="54.30" y2="396.00" stroke="#1a1a1a" stroke-width="0.9" />
<circle cx="49.50" cy="394.00" r="1.60" fill="#1a1a1a" />
<circle cx="52.30" cy="392.75" r="1.60" fill="#1a1a1a" />
<circle cx="55.10" cy="387.76" r="1.60" fill="#1a1a1a" />
<rect x="62.60" y="390.26" width="10.00" height="53.14" fill="#fff" stroke="#5e9ef0" stroke-width="1.1" />
<line x1="67.60" y1="443.40" x2="67.60" y2="446.40" stroke="#1a1a1a" stroke-width="1.1" />
<circle cx="64.80" cy="391.00" r="1.60" fill="#5e9ef0" />
<circle cx="67.60" cy="390.26" r="1.60" fill="#5e9ef0" />
<circle cx="70.40" cy="389.51" r="1.60" fill="#5e9ef0" />
<rect x="78.00" y="374.79" width="10.00" height="68.61" fill="#fff" stroke="#3fca72" stroke-width="1.1" />
<line x1="83.00" y1="443.40" x2="83.00" y2="446.40" stroke="#1a1a1a" stroke-width="1.1" />
<circle cx="80.20" cy="375.29" r="1.60" fill="#3fca72" />
<circle cx="83.00" cy="374.79" r="1.60" fill="#3fca72" />
<circle cx="85.80" cy="374.04" r="1.60" fill="#3fca72" />
<rect x="94.30" y="376.53" width="10.00" height="66.87" fill="#fff" stroke="#e6343c" stroke-width="1.1" />
<line x1="99.30" y1="443.40" x2="99.30" y2="446.40" stroke="#1a1a1a" stroke-width="1.1" />
<circle cx="96.50" cy="378.03" r="1.60" fill="#e6343c" />
<circle cx="99.30" cy="376.53" r="1.60" fill="#e6343c" />
<circle cx="102.10" cy="375.54" r="1.60" fill="#e6343c" />
<rect x="109.90" y="377.78" width="10.00" height="65.62" fill="#fff" stroke="#ef8e2c" stroke-width="1.1" />
<line x1="114.90" y1="443.40" x2="114.90" y2="446.40" stroke="#1a1a1a" stroke-width="1.1" />
<line x1="114.90" y1="372.79" x2="114.90" y2="384.77" stroke="#ef8e2c" stroke-width="0.9" />
<line x1="112.90" y1="372.79" x2="116.90" y2="372.79" stroke="#ef8e2c" stroke-width="0.9" />
<line x1="112.90" y1="384.77" x2="116.90" y2="384.77" stroke="#ef8e2c" stroke-width="0.9" />
<circle cx="112.10" cy="383.52" r="1.60" fill="#ef8e2c" />
<circle cx="114.90" cy="376.53" r="1.60" fill="#ef8e2c" />
<circle cx="117.70" cy="373.54" r="1.60" fill="#ef8e2c" />
<rect x="126.00" y="366.05" width="10.00" height="77.35" fill="#fff" stroke="#b45ef0" stroke-width="1.1" />
<line x1="131.00" y1="443.40" x2="131.00" y2="446.40" stroke="#1a1a1a" stroke-width="1.1" />
<line x1="131.00" y1="345.85" x2="131.00" y2="381.52" stroke="#b45ef0" stroke-width="0.9" />
<line x1="129.00" y1="345.85" x2="133.00" y2="345.85" stroke="#b45ef0" stroke-width="0.9" />
<line x1="129.00" y1="381.52" x2="133.00" y2="381.52" stroke="#b45ef0" stroke-width="0.9" />
<circle cx="128.20" cy="373.54" r="1.60" fill="#b45ef0" />
<circle cx="131.00" cy="369.80" r="1.60" fill="#b45ef0" />
<circle cx="133.80" cy="353.58" r="1.60" fill="#b45ef0" />
<polyline points="52.30,382.90 52.30,378.40 67.60,378.40 67.60,382.90" stroke="#1a1a1a" stroke-width="1.15" fill="none" stroke-linejoin="round" />
<text x="60.80" y="377.03" font-size="6.20" text-anchor="middle" fill="#222" textLength="26.2" lengthAdjust="spacingAndGlyphs" stroke="#222" stroke-width="0.186">p=0.9999</text>
<polyline points="52.30,369.60 52.30,365.10 83.00,365.10 83.00,369.60" stroke="#1a1a1a" stroke-width="1.15" fill="none" stroke-linejoin="round" />
<text x="68.50" y="362.33" font-size="6.20" text-anchor="middle" fill="#222" textLength="26.7" lengthAdjust="spacingAndGlyphs" stroke="#222" stroke-width="0.186">p=0.0996</text>
<polyline points="84.70,369.60 84.70,365.10 99.30,365.10 99.30,369.60" stroke="#1a1a1a" stroke-width="1.15" fill="none" stroke-linejoin="round" />
<text x="98.20" y="362.33" font-size="6.20" text-anchor="middle" fill="#222" textLength="26.3" lengthAdjust="spacingAndGlyphs" stroke="#222" stroke-width="0.186">p=0.9981</text>
<polyline points="83.00,357.10 83.00,352.60 114.90,352.60 114.90,357.10" stroke="#1a1a1a" stroke-width="1.15" fill="none" stroke-linejoin="round" />
<text x="99.00" y="349.43" font-size="6.20" text-anchor="middle" fill="#222" textLength="26.5" lengthAdjust="spacingAndGlyphs" stroke="#222" stroke-width="0.186">p=0.9895</text>
<polyline points="114.90,343.80 114.90,339.30 131.00,339.30 131.00,343.80" stroke="#1a1a1a" stroke-width="1.15" fill="none" stroke-linejoin="round" />
<text x="130.40" y="335.63" font-size="6.20" text-anchor="middle" fill="#222" textLength="26.8" lengthAdjust="spacingAndGlyphs" stroke="#222" stroke-width="0.186">p=0.3082</text>
<text transform="translate(22.00,393.30) rotate(-90)" x="0" y="2.38" font-size="6.60" text-anchor="middle" fill="#111" font-weight="bold" textLength="101.0" lengthAdjust="spacingAndGlyphs">CD3<tspan baseline-shift="super" font-size="70%">+</tspan> CD8<tspan baseline-shift="super" font-size="70%">+</tspan> Eomes<tspan baseline-shift="super" font-size="70%">+</tspan> T Cells (%)</text>
<text transform="translate(51.30,454.20) rotate(-45)" x="0" y="2.16" font-size="6.00" text-anchor="end" fill="#111" font-weight="bold">NC</text>
<text transform="translate(66.60,454.20) rotate(-45)" x="0" y="2.16" font-size="6.00" text-anchor="end" fill="#111" font-weight="bold">Laser</text>
<text transform="translate(82.00,454.20) rotate(-45)" x="0" y="2.16" font-size="6.00" text-anchor="end" fill="#111" font-weight="bold">NPs</text>
<text transform="translate(98.30,454.20) rotate(-45)" x="0" y="2.16" font-size="6.00" text-anchor="end" fill="#111" font-weight="bold">NPs+Laser</text>
<text transform="translate(113.90,454.20) rotate(-45)" x="0" y="2.16" font-size="6.00" text-anchor="end" fill="#111" font-weight="bold">NPs-AS1411</text>
<text transform="translate(130.00,454.20) rotate(-45)" x="0" y="2.16" font-size="6.00" text-anchor="end" fill="#111" font-weight="bold">NPs-AS1411+Laser</text>
<line x1="172.30" y1="340.30" x2="172.30" y2="443.85" stroke="#1a1a1a" stroke-width="1.1" />
<line x1="171.75" y1="443.30" x2="274.90" y2="443.30" stroke="#1a1a1a" stroke-width="1.1" />
<line x1="168.30" y1="443.30" x2="172.30" y2="443.30" stroke="#1a1a1a" stroke-width="1.1" />
<text x="166.70" y="445.60" font-size="6.40" text-anchor="end" fill="#111" font-weight="bold">0</text>
<line x1="168.30" y1="426.22" x2="172.30" y2="426.22" stroke="#1a1a1a" stroke-width="1.1" />
<text x="166.70" y="428.52" font-size="6.40" text-anchor="end" fill="#111" font-weight="bold">10</text>
<line x1="168.30" y1="409.14" x2="172.30" y2="409.14" stroke="#1a1a1a" stroke-width="1.1" />
<text x="166.70" y="411.44" font-size="6.40" text-anchor="end" fill="#111" font-weight="bold">20</text>
<line x1="168.30" y1="392.06" x2="172.30" y2="392.06" stroke="#1a1a1a" stroke-width="1.1" />
<text x="166.70" y="394.36" font-size="6.40" text-anchor="end" fill="#111" font-weight="bold">30</text>
<line x1="168.30" y1="374.98" x2="172.30" y2="374.98" stroke="#1a1a1a" stroke-width="1.1" />
<text x="166.70" y="377.28" font-size="6.40" text-anchor="end" fill="#111" font-weight="bold">40</text>
<line x1="168.30" y1="357.90" x2="172.30" y2="357.90" stroke="#1a1a1a" stroke-width="1.1" />
<text x="166.70" y="360.20" font-size="6.40" text-anchor="end" fill="#111" font-weight="bold">50</text>
<line x1="168.30" y1="340.82" x2="172.30" y2="340.82" stroke="#1a1a1a" stroke-width="1.1" />
<text x="166.70" y="343.12" font-size="6.40" text-anchor="end" fill="#111" font-weight="bold">60</text>
<rect x="178.25" y="427.93" width="10.50" height="15.37" fill="#fff" stroke="#1a1a1a" stroke-width="1.1" />
<line x1="183.50" y1="443.30" x2="183.50" y2="446.30" stroke="#1a1a1a" stroke-width="1.1" />
<line x1="183.50" y1="423.66" x2="183.50" y2="430.49" stroke="#1a1a1a" stroke-width="0.9" />
<line x1="181.50" y1="423.66" x2="185.50" y2="423.66" stroke="#1a1a1a" stroke-width="0.9" />
<line x1="181.50" y1="430.49" x2="185.50" y2="430.49" stroke="#1a1a1a" stroke-width="0.9" />
<circle cx="180.56" cy="429.64" r="1.60" fill="#1a1a1a" />
<circle cx="183.50" cy="427.93" r="1.60" fill="#1a1a1a" />
<circle cx="186.44" cy="424.51" r="1.60" fill="#1a1a1a" />
<rect x="194.25" y="426.22" width="10.50" height="17.08" fill="#fff" stroke="#5e9ef0" stroke-width="1.1" />
<line x1="199.50" y1="443.30" x2="199.50" y2="446.30" stroke="#1a1a1a" stroke-width="1.1" />
<circle cx="196.56" cy="427.07" r="1.60" fill="#5e9ef0" />
<circle cx="199.50" cy="426.22" r="1.60" fill="#5e9ef0" />
<circle cx="202.44" cy="425.37" r="1.60" fill="#5e9ef0" />
<rect x="210.05" y="404.87" width="10.50" height="38.43" fill="#fff" stroke="#3fca72" stroke-width="1.1" />
<line x1="215.30" y1="443.30" x2="215.30" y2="446.30" stroke="#1a1a1a" stroke-width="1.1" />
<circle cx="212.36" cy="407.43" r="1.60" fill="#3fca72" />
<circle cx="215.30" cy="404.87" r="1.60" fill="#3fca72" />
<circle cx="218.24" cy="402.31" r="1.60" fill="#3fca72" />
<rect x="226.35" y="392.91" width="10.50" height="50.39" fill="#fff" stroke="#e6343c" stroke-width="1.1" />
<line x1="231.60" y1="443.30" x2="231.60" y2="446.30" stroke="#1a1a1a" stroke-width="1.1" />
<line x1="231.60" y1="385.23" x2="231.60" y2="401.45" stroke="#e6343c" stroke-width="0.9" />
<line x1="229.60" y1="385.23" x2="233.60" y2="385.23" stroke="#e6343c" stroke-width="0.9" />
<line x1="229.60" y1="401.45" x2="233.60" y2="401.45" stroke="#e6343c" stroke-width="0.9" />
<circle cx="228.66" cy="400.60" r="1.60" fill="#e6343c" />
<circle cx="231.60" cy="390.35" r="1.60" fill="#e6343c" />
<circle cx="234.54" cy="388.64" r="1.60" fill="#e6343c" />
<rect x="242.25" y="386.94" width="10.50" height="56.36" fill="#fff" stroke="#ef8e2c" stroke-width="1.1" />
<line x1="247.50" y1="443.30" x2="247.50" y2="446.30" stroke="#1a1a1a" stroke-width="1.1" />
<line x1="247.50" y1="382.67" x2="247.50" y2="389.50" stroke="#ef8e2c" stroke-width="0.9" />
<line x1="245.50" y1="382.67" x2="249.50" y2="382.67" stroke="#ef8e2c" stroke-width="0.9" />
<line x1="245.50" y1="389.50" x2="249.50" y2="389.50" stroke="#ef8e2c" stroke-width="0.9" />
<circle cx="244.56" cy="388.64" r="1.60" fill="#ef8e2c" />
<circle cx="247.50" cy="386.94" r="1.60" fill="#ef8e2c" />
<circle cx="250.44" cy="383.52" r="1.60" fill="#ef8e2c" />
<rect x="258.25" y="363.88" width="10.50" height="79.42" fill="#fff" stroke="#b45ef0" stroke-width="1.1" />
<line x1="263.50" y1="443.30" x2="263.50" y2="446.30" stroke="#1a1a1a" stroke-width="1.1" />
<line x1="263.50" y1="348.51" x2="263.50" y2="379.25" stroke="#b45ef0" stroke-width="0.9" />
<line x1="261.50" y1="348.51" x2="265.50" y2="348.51" stroke="#b45ef0" stroke-width="0.9" />
<line x1="261.50" y1="379.25" x2="265.50" y2="379.25" stroke="#b45ef0" stroke-width="0.9" />
<circle cx="260.56" cy="374.98" r="1.60" fill="#b45ef0" />
<circle cx="263.50" cy="364.73" r="1.60" fill="#b45ef0" />
<circle cx="266.44" cy="356.19" r="1.60" fill="#b45ef0" />
<polyline points="183.50,421.10 183.50,416.60 199.50,416.60 199.50,421.10" stroke="#1a1a1a" stroke-width="1.15" fill="none" stroke-linejoin="round" />
<text x="192.00" y="413.33" font-size="6.20" text-anchor="middle" fill="#222" textLength="27.1" lengthAdjust="spacingAndGlyphs" stroke="#222" stroke-width="0.186">p&gt;0.9999</text>
<polyline points="183.50,399.20 183.50,394.70 215.30,394.70 215.30,399.20" stroke="#1a1a1a" stroke-width="1.15" fill="none" stroke-linejoin="round" />
<text x="201.00" y="391.83" font-size="6.20" text-anchor="middle" fill="#222" textLength="26.7" lengthAdjust="spacingAndGlyphs" stroke="#222" stroke-width="0.186">p=0.0213</text>
<polyline points="215.30,383.20 215.30,378.70 231.60,378.70 231.60,383.20" stroke="#1a1a1a" stroke-width="1.15" fill="none" stroke-linejoin="round" />
<text x="224.30" y="376.13" font-size="6.20" text-anchor="middle" fill="#222" textLength="26.5" lengthAdjust="spacingAndGlyphs" stroke="#222" stroke-width="0.186">p=0.2983</text>
<polyline points="215.30,368.90 215.30,364.40 247.50,364.40 247.50,368.90" stroke="#1a1a1a" stroke-width="1.15" fill="none" stroke-linejoin="round" />
<text x="234.10" y="361.83" font-size="6.20" text-anchor="middle" fill="#222" textLength="27.4" lengthAdjust="spacingAndGlyphs" stroke="#222" stroke-width="0.186">p=0.0609</text>
<polyline points="247.50,346.00 247.50,341.50 263.50,341.50 263.50,346.00" stroke="#1a1a1a" stroke-width="1.15" fill="none" stroke-linejoin="round" />
<text x="258.70" y="337.73" font-size="6.20" text-anchor="middle" fill="#222" textLength="26.7" lengthAdjust="spacingAndGlyphs" stroke="#222" stroke-width="0.186">p=0.0152</text>
<text transform="translate(152.20,392.40) rotate(-90)" x="0" y="2.38" font-size="6.60" text-anchor="middle" fill="#111" font-weight="bold" textLength="97.5" lengthAdjust="spacingAndGlyphs">CD3<tspan baseline-shift="super" font-size="70%">+</tspan> CD8<tspan baseline-shift="super" font-size="70%">+</tspan> T-bet<tspan baseline-shift="super" font-size="70%">+</tspan> T Cells (%)</text>
<text transform="translate(182.50,454.10) rotate(-45)" x="0" y="2.16" font-size="6.00" text-anchor="end" fill="#111" font-weight="bold">NC</text>
<text transform="translate(198.50,454.10) rotate(-45)" x="0" y="2.16" font-size="6.00" text-anchor="end" fill="#111" font-weight="bold">Laser</text>
<text transform="translate(214.30,454.10) rotate(-45)" x="0" y="2.16" font-size="6.00" text-anchor="end" fill="#111" font-weight="bold">NPs</text>
<text transform="translate(230.60,454.10) rotate(-45)" x="0" y="2.16" font-size="6.00" text-anchor="end" fill="#111" font-weight="bold">NPs+Laser</text>
<text transform="translate(246.50,454.10) rotate(-45)" x="0" y="2.16" font-size="6.00" text-anchor="end" fill="#111" font-weight="bold">NPs-AS1411</text>
<text transform="translate(262.50,454.10) rotate(-45)" x="0" y="2.16" font-size="6.00" text-anchor="end" fill="#111" font-weight="bold">NPs-AS1411+Laser</text>
<line x1="311.00" y1="339.90" x2="311.00" y2="442.75" stroke="#1a1a1a" stroke-width="1.1" />
<line x1="310.45" y1="442.20" x2="415.80" y2="442.20" stroke="#1a1a1a" stroke-width="1.1" />
<line x1="307.00" y1="442.20" x2="311.00" y2="442.20" stroke="#1a1a1a" stroke-width="1.1" />
<text x="305.40" y="444.50" font-size="6.40" text-anchor="end" fill="#111" font-weight="bold">0</text>
<line x1="307.00" y1="425.23" x2="311.00" y2="425.23" stroke="#1a1a1a" stroke-width="1.1" />
<text x="305.40" y="427.53" font-size="6.40" text-anchor="end" fill="#111" font-weight="bold">2</text>
<line x1="307.00" y1="408.26" x2="311.00" y2="408.26" stroke="#1a1a1a" stroke-width="1.1" />
<text x="305.40" y="410.56" font-size="6.40" text-anchor="end" fill="#111" font-weight="bold">4</text>
<line x1="307.00" y1="391.29" x2="311.00" y2="391.29" stroke="#1a1a1a" stroke-width="1.1" />
<text x="305.40" y="393.59" font-size="6.40" text-anchor="end" fill="#111" font-weight="bold">6</text>
<line x1="307.00" y1="374.32" x2="311.00" y2="374.32" stroke="#1a1a1a" stroke-width="1.1" />
<text x="305.40" y="376.62" font-size="6.40" text-anchor="end" fill="#111" font-weight="bold">8</text>
<line x1="307.00" y1="357.35" x2="311.00" y2="357.35" stroke="#1a1a1a" stroke-width="1.1" />
<text x="305.40" y="359.65" font-size="6.40" text-anchor="end" fill="#111" font-weight="bold">10</text>
<line x1="307.00" y1="340.38" x2="311.00" y2="340.38" stroke="#1a1a1a" stroke-width="1.1" />
<text x="305.40" y="342.68" font-size="6.40" text-anchor="end" fill="#111" font-weight="bold">12</text>
<rect x="320.25" y="432.02" width="10.50" height="10.18" fill="#fff" stroke="#1a1a1a" stroke-width="1.1" />
<line x1="325.50" y1="442.20" x2="325.50" y2="445.20" stroke="#1a1a1a" stroke-width="1.1" />
<line x1="325.50" y1="427.78" x2="325.50" y2="436.26" stroke="#1a1a1a" stroke-width="0.9" />
<line x1="323.50" y1="427.78" x2="327.50" y2="427.78" stroke="#1a1a1a" stroke-width="0.9" />
<line x1="323.50" y1="436.26" x2="327.50" y2="436.26" stroke="#1a1a1a" stroke-width="0.9" />
<circle cx="322.56" cy="434.56" r="1.60" fill="#1a1a1a" />
<circle cx="325.50" cy="432.02" r="1.60" fill="#1a1a1a" />
<circle cx="328.44" cy="428.62" r="1.60" fill="#1a1a1a" />
<rect x="336.35" y="426.08" width="10.50" height="16.12" fill="#fff" stroke="#5e9ef0" stroke-width="1.1" />
<line x1="341.60" y1="442.20" x2="341.60" y2="445.20" stroke="#1a1a1a" stroke-width="1.1" />
<line x1="341.60" y1="420.99" x2="341.60" y2="430.32" stroke="#5e9ef0" stroke-width="0.9" />
<line x1="339.60" y1="420.99" x2="343.60" y2="420.99" stroke="#5e9ef0" stroke-width="0.9" />
<line x1="339.60" y1="430.32" x2="343.60" y2="430.32" stroke="#5e9ef0" stroke-width="0.9" />
<circle cx="338.66" cy="429.47" r="1.60" fill="#5e9ef0" />
<circle cx="341.60" cy="424.38" r="1.60" fill="#5e9ef0" />
<circle cx="344.54" cy="423.53" r="1.60" fill="#5e9ef0" />
<rect x="352.25" y="394.68" width="10.50" height="47.52" fill="#fff" stroke="#3fca72" stroke-width="1.1" />
<line x1="357.50" y1="442.20" x2="357.50" y2="445.20" stroke="#1a1a1a" stroke-width="1.1" />
<line x1="357.50" y1="378.56" x2="357.50" y2="410.81" stroke="#3fca72" stroke-width="0.9" />
<line x1="355.50" y1="378.56" x2="359.50" y2="378.56" stroke="#3fca72" stroke-width="0.9" />
<line x1="355.50" y1="410.81" x2="359.50" y2="410.81" stroke="#3fca72" stroke-width="0.9" />
<circle cx="354.56" cy="413.35" r="1.60" fill="#3fca72" />
<circle cx="357.50" cy="389.59" r="1.60" fill="#3fca72" />
<circle cx="360.44" cy="387.90" r="1.60" fill="#3fca72" />
<rect x="368.35" y="387.05" width="10.50" height="55.15" fill="#fff" stroke="#e6343c" stroke-width="1.1" />
<line x1="373.60" y1="442.20" x2="373.60" y2="445.20" stroke="#1a1a1a" stroke-width="1.1" />
<line x1="373.60" y1="376.87" x2="373.60" y2="397.23" stroke="#e6343c" stroke-width="0.9" />
<line x1="371.60" y1="376.87" x2="375.60" y2="376.87" stroke="#e6343c" stroke-width="0.9" />
<line x1="371.60" y1="397.23" x2="375.60" y2="397.23" stroke="#e6343c" stroke-width="0.9" />
<circle cx="370.66" cy="397.23" r="1.60" fill="#e6343c" />
<circle cx="373.60" cy="384.50" r="1.60" fill="#e6343c" />
<circle cx="376.54" cy="383.65" r="1.60" fill="#e6343c" />
<rect x="384.25" y="387.05" width="10.50" height="55.15" fill="#fff" stroke="#ef8e2c" stroke-width="1.1" />
<line x1="389.50" y1="442.20" x2="389.50" y2="445.20" stroke="#1a1a1a" stroke-width="1.1" />
<line x1="389.50" y1="381.96" x2="389.50" y2="391.29" stroke="#ef8e2c" stroke-width="0.9" />
<line x1="387.50" y1="381.96" x2="391.50" y2="381.96" stroke="#ef8e2c" stroke-width="0.9" />
<line x1="387.50" y1="391.29" x2="391.50" y2="391.29" stroke="#ef8e2c" stroke-width="0.9" />
<circle cx="386.56" cy="390.44" r="1.60" fill="#ef8e2c" />
<circle cx="389.50" cy="387.90" r="1.60" fill="#ef8e2c" />
<circle cx="392.44" cy="381.96" r="1.60" fill="#ef8e2c" />
<rect x="400.45" y="358.20" width="10.50" height="84.00" fill="#fff" stroke="#b45ef0" stroke-width="1.1" />
<line x1="405.70" y1="442.20" x2="405.70" y2="445.20" stroke="#1a1a1a" stroke-width="1.1" />
<line x1="405.70" y1="348.87" x2="405.70" y2="372.62" stroke="#b45ef0" stroke-width="0.9" />
<line x1="403.70" y1="348.87" x2="407.70" y2="348.87" stroke="#b45ef0" stroke-width="0.9" />
<line x1="403.70" y1="372.62" x2="407.70" y2="372.62" stroke="#b45ef0" stroke-width="0.9" />
<circle cx="402.76" cy="374.32" r="1.60" fill="#b45ef0" />
<circle cx="405.70" cy="358.20" r="1.60" fill="#b45ef0" />
<circle cx="408.64" cy="351.41" r="1.60" fill="#b45ef0" />
<polyline points="325.50,417.80 325.50,413.30 341.60,413.30 341.60,417.80" stroke="#1a1a1a" stroke-width="1.15" fill="none" stroke-linejoin="round" />
<text x="334.40" y="410.43" font-size="6.20" text-anchor="middle" fill="#222" textLength="26.9" lengthAdjust="spacingAndGlyphs" stroke="#222" stroke-width="0.186">p=0.9695</text>
<polyline points="325.50,375.10 325.50,370.60 357.50,370.60 357.50,375.10" stroke="#1a1a1a" stroke-width="1.15" fill="none" stroke-linejoin="round" />
<text x="337.00" y="367.73" font-size="6.20" text-anchor="middle" fill="#222" textLength="26.7" lengthAdjust="spacingAndGlyphs" stroke="#222" stroke-width="0.186">p=0.0020</text>
<polyline points="359.30,375.10 359.30,370.60 373.60,370.60 373.60,375.10" stroke="#1a1a1a" stroke-width="1.15" fill="none" stroke-linejoin="round" />
<text x="366.00" y="367.73" font-size="6.20" text-anchor="middle" fill="#222" textLength="26.9" lengthAdjust="spacingAndGlyphs" stroke="#222" stroke-width="0.186">p=0.8566</text>
<polyline points="357.50,360.80 357.50,356.30 389.50,356.30 389.50,360.80" stroke="#1a1a1a" stroke-width="1.15" fill="none" stroke-linejoin="round" />
<text x="372.50" y="352.53" font-size="6.20" text-anchor="middle" fill="#222" textLength="27.0" lengthAdjust="spacingAndGlyphs" stroke="#222" stroke-width="0.186">p=0.8617</text>
<polyline points="389.50,348.60 389.50,344.10 405.70,344.10 405.70,348.60" stroke="#1a1a1a" stroke-width="1.15" fill="none" stroke-linejoin="round" />
<text x="401.50" y="340.13" font-size="6.20" text-anchor="middle" fill="#222" textLength="27.3" lengthAdjust="spacingAndGlyphs" stroke="#222" stroke-width="0.186">p=0.0134</text>
<text transform="translate(294.70,391.90) rotate(-90)" x="0" y="2.38" font-size="6.60" text-anchor="middle" fill="#111" font-weight="bold" textLength="103.0" lengthAdjust="spacingAndGlyphs">CD3<tspan baseline-shift="super" font-size="70%">+</tspan> CD8<tspan baseline-shift="super" font-size="70%">+</tspan> CD107a<tspan baseline-shift="super" font-size="70%">+</tspan> T Cells (%)</text>
<text transform="translate(324.50,453.00) rotate(-45)" x="0" y="2.16" font-size="6.00" text-anchor="end" fill="#111" font-weight="bold">NC</text>
<text transform="translate(340.60,453.00) rotate(-45)" x="0" y="2.16" font-size="6.00" text-anchor="end" fill="#111" font-weight="bold">Laser</text>
<text transform="translate(356.50,453.00) rotate(-45)" x="0" y="2.16" font-size="6.00" text-anchor="end" fill="#111" font-weight="bold">NPs</text>
<text transform="translate(372.60,453.00) rotate(-45)" x="0" y="2.16" font-size="6.00" text-anchor="end" fill="#111" font-weight="bold">NPs+Laser</text>
<text transform="translate(388.50,453.00) rotate(-45)" x="0" y="2.16" font-size="6.00" text-anchor="end" fill="#111" font-weight="bold">NPs-AS1411</text>
<text transform="translate(404.70,453.00) rotate(-45)" x="0" y="2.16" font-size="6.00" text-anchor="end" fill="#111" font-weight="bold">NPs-AS1411+Laser</text>
<line x1="445.60" y1="336.70" x2="445.60" y2="441.95" stroke="#1a1a1a" stroke-width="1.1" />
<line x1="445.05" y1="441.40" x2="550.00" y2="441.40" stroke="#1a1a1a" stroke-width="1.1" />
<line x1="441.60" y1="441.40" x2="445.60" y2="441.40" stroke="#1a1a1a" stroke-width="1.1" />
<text x="440.00" y="443.70" font-size="6.40" text-anchor="end" fill="#111" font-weight="bold">0</text>
<line x1="441.60" y1="424.03" x2="445.60" y2="424.03" stroke="#1a1a1a" stroke-width="1.1" />
<text x="440.00" y="426.33" font-size="6.40" text-anchor="end" fill="#111" font-weight="bold">5</text>
<line x1="441.60" y1="406.66" x2="445.60" y2="406.66" stroke="#1a1a1a" stroke-width="1.1" />
<text x="440.00" y="408.96" font-size="6.40" text-anchor="end" fill="#111" font-weight="bold">10</text>
<line x1="441.60" y1="389.29" x2="445.60" y2="389.29" stroke="#1a1a1a" stroke-width="1.1" />
<text x="440.00" y="391.59" font-size="6.40" text-anchor="end" fill="#111" font-weight="bold">15</text>
<line x1="441.60" y1="371.92" x2="445.60" y2="371.92" stroke="#1a1a1a" stroke-width="1.1" />
<text x="440.00" y="374.22" font-size="6.40" text-anchor="end" fill="#111" font-weight="bold">20</text>
<line x1="441.60" y1="354.55" x2="445.60" y2="354.55" stroke="#1a1a1a" stroke-width="1.1" />
<text x="440.00" y="356.85" font-size="6.40" text-anchor="end" fill="#111" font-weight="bold">25</text>
<line x1="441.60" y1="337.18" x2="445.60" y2="337.18" stroke="#1a1a1a" stroke-width="1.1" />
<text x="440.00" y="339.48" font-size="6.40" text-anchor="end" fill="#111" font-weight="bold">30</text>
<rect x="450.65" y="418.12" width="10.70" height="23.28" fill="#fff" stroke="#1a1a1a" stroke-width="1.1" />
<line x1="456.00" y1="441.40" x2="456.00" y2="444.40" stroke="#1a1a1a" stroke-width="1.1" />
<circle cx="453.00" cy="418.82" r="1.60" fill="#1a1a1a" />
<circle cx="456.00" cy="418.12" r="1.60" fill="#1a1a1a" />
<circle cx="459.00" cy="417.43" r="1.60" fill="#1a1a1a" />
<rect x="467.15" y="420.21" width="10.70" height="21.19" fill="#fff" stroke="#5e9ef0" stroke-width="1.1" />
<line x1="472.50" y1="441.40" x2="472.50" y2="444.40" stroke="#1a1a1a" stroke-width="1.1" />
<line x1="472.50" y1="417.43" x2="472.50" y2="422.99" stroke="#5e9ef0" stroke-width="0.9" />
<line x1="470.50" y1="417.43" x2="474.50" y2="417.43" stroke="#5e9ef0" stroke-width="0.9" />
<line x1="470.50" y1="422.99" x2="474.50" y2="422.99" stroke="#5e9ef0" stroke-width="0.9" />
<circle cx="469.50" cy="422.29" r="1.60" fill="#5e9ef0" />
<circle cx="472.50" cy="419.86" r="1.60" fill="#5e9ef0" />
<circle cx="475.50" cy="418.47" r="1.60" fill="#5e9ef0" />
<rect x="483.65" y="397.97" width="10.70" height="43.43" fill="#fff" stroke="#3fca72" stroke-width="1.1" />
<line x1="489.00" y1="441.40" x2="489.00" y2="444.40" stroke="#1a1a1a" stroke-width="1.1" />
<circle cx="486.00" cy="398.67" r="1.60" fill="#3fca72" />
<circle cx="489.00" cy="397.97" r="1.60" fill="#3fca72" />
<circle cx="492.00" cy="397.63" r="1.60" fill="#3fca72" />
<rect x="500.15" y="395.20" width="10.70" height="46.20" fill="#fff" stroke="#e6343c" stroke-width="1.1" />
<line x1="505.50" y1="441.40" x2="505.50" y2="444.40" stroke="#1a1a1a" stroke-width="1.1" />
<line x1="505.50" y1="392.76" x2="505.50" y2="397.63" stroke="#e6343c" stroke-width="0.9" />
<line x1="503.50" y1="392.76" x2="507.50" y2="392.76" stroke="#e6343c" stroke-width="0.9" />
<line x1="503.50" y1="397.63" x2="507.50" y2="397.63" stroke="#e6343c" stroke-width="0.9" />
<circle cx="502.50" cy="396.93" r="1.60" fill="#e6343c" />
<circle cx="505.50" cy="395.20" r="1.60" fill="#e6343c" />
<circle cx="508.50" cy="393.46" r="1.60" fill="#e6343c" />
<rect x="516.75" y="391.03" width="10.70" height="50.37" fill="#fff" stroke="#ef8e2c" stroke-width="1.1" />
<line x1="522.10" y1="441.40" x2="522.10" y2="444.40" stroke="#1a1a1a" stroke-width="1.1" />
<line x1="522.10" y1="388.25" x2="522.10" y2="394.15" stroke="#ef8e2c" stroke-width="0.9" />
<line x1="520.10" y1="388.25" x2="524.10" y2="388.25" stroke="#ef8e2c" stroke-width="0.9" />
<line x1="520.10" y1="394.15" x2="524.10" y2="394.15" stroke="#ef8e2c" stroke-width="0.9" />
<circle cx="519.10" cy="393.46" r="1.60" fill="#ef8e2c" />
<circle cx="522.10" cy="391.03" r="1.60" fill="#ef8e2c" />
<circle cx="525.10" cy="388.60" r="1.60" fill="#ef8e2c" />
<rect x="533.25" y="341.70" width="10.70" height="99.70" fill="#fff" stroke="#b45ef0" stroke-width="1.1" />
<line x1="538.60" y1="441.40" x2="538.60" y2="444.40" stroke="#1a1a1a" stroke-width="1.1" />
<line x1="538.60" y1="337.18" x2="538.60" y2="345.86" stroke="#b45ef0" stroke-width="0.9" />
<line x1="536.60" y1="337.18" x2="540.60" y2="337.18" stroke="#b45ef0" stroke-width="0.9" />
<line x1="536.60" y1="345.86" x2="540.60" y2="345.86" stroke="#b45ef0" stroke-width="0.9" />
<circle cx="535.60" cy="344.82" r="1.60" fill="#b45ef0" />
<circle cx="538.60" cy="340.65" r="1.60" fill="#b45ef0" />
<circle cx="541.60" cy="338.92" r="1.60" fill="#b45ef0" />
<polyline points="456.00,414.10 456.00,409.60 472.50,409.60 472.50,414.10" stroke="#1a1a1a" stroke-width="1.15" fill="none" stroke-linejoin="round" />
<text x="464.60" y="406.43" font-size="6.20" text-anchor="middle" fill="#222" textLength="28.0" lengthAdjust="spacingAndGlyphs" stroke="#222" stroke-width="0.186">p=0.7128</text>
<polyline points="456.00,390.10 456.00,385.60 489.00,385.60 489.00,390.10" stroke="#1a1a1a" stroke-width="1.15" fill="none" stroke-linejoin="round" />
<text x="468.00" y="382.83" font-size="6.20" text-anchor="middle" fill="#222" textLength="27.3" lengthAdjust="spacingAndGlyphs" stroke="#222" stroke-width="0.186">p&lt;0.0001</text>
<polyline points="491.30,390.10 491.30,385.60 506.50,385.60 506.50,390.10" stroke="#1a1a1a" stroke-width="1.15" fill="none" stroke-linejoin="round" />
<text x="499.20" y="382.83" font-size="6.20" text-anchor="middle" fill="#222" textLength="27.8" lengthAdjust="spacingAndGlyphs" stroke="#222" stroke-width="0.186">p=0.4713</text>
<polyline points="489.00,375.90 489.00,371.40 522.10,371.40 522.10,375.90" stroke="#1a1a1a" stroke-width="1.15" fill="none" stroke-linejoin="round" />
<text x="504.00" y="368.43" font-size="6.20" text-anchor="middle" fill="#222" textLength="28.8" lengthAdjust="spacingAndGlyphs" stroke="#222" stroke-width="0.186">p=0.0120</text>
<polyline points="523.70,335.50 523.70,331.00 539.40,331.00 539.40,335.50" stroke="#1a1a1a" stroke-width="1.15" fill="none" stroke-linejoin="round" />
<text x="534.50" y="327.33" font-size="6.20" text-anchor="middle" fill="#222" textLength="27.1" lengthAdjust="spacingAndGlyphs" stroke="#222" stroke-width="0.186">p&lt;0.0001</text>
<text transform="translate(425.20,389.30) rotate(-90)" x="0" y="2.38" font-size="6.60" text-anchor="middle" fill="#111" font-weight="bold" textLength="99.3" lengthAdjust="spacingAndGlyphs">CD3<tspan baseline-shift="super" font-size="70%">+</tspan> CD8<tspan baseline-shift="super" font-size="70%">+</tspan> IFN-γ<tspan baseline-shift="super" font-size="70%">+</tspan> T Cells (%)</text>
<text transform="translate(455.00,452.20) rotate(-45)" x="0" y="2.16" font-size="6.00" text-anchor="end" fill="#111" font-weight="bold">NC</text>
<text transform="translate(471.50,452.20) rotate(-45)" x="0" y="2.16" font-size="6.00" text-anchor="end" fill="#111" font-weight="bold">Laser</text>
<text transform="translate(488.00,452.20) rotate(-45)" x="0" y="2.16" font-size="6.00" text-anchor="end" fill="#111" font-weight="bold">NPs</text>
<text transform="translate(504.50,452.20) rotate(-45)" x="0" y="2.16" font-size="6.00" text-anchor="end" fill="#111" font-weight="bold">NPs+Laser</text>
<text transform="translate(521.10,452.20) rotate(-45)" x="0" y="2.16" font-size="6.00" text-anchor="end" fill="#111" font-weight="bold">NPs-AS1411</text>
<text transform="translate(537.60,452.20) rotate(-45)" x="0" y="2.16" font-size="6.00" text-anchor="end" fill="#111" font-weight="bold">NPs-AS1411+Laser</text>
<line x1="576.20" y1="340.80" x2="576.20" y2="441.75" stroke="#1a1a1a" stroke-width="1.1" />
<line x1="575.65" y1="441.20" x2="676.90" y2="441.20" stroke="#1a1a1a" stroke-width="1.1" />
<line x1="572.20" y1="441.20" x2="576.20" y2="441.20" stroke="#1a1a1a" stroke-width="1.1" />
<text x="570.60" y="443.50" font-size="6.40" text-anchor="end" fill="#111" font-weight="bold">0</text>
<line x1="572.20" y1="424.50" x2="576.20" y2="424.50" stroke="#1a1a1a" stroke-width="1.1" />
<text x="570.60" y="426.80" font-size="6.40" text-anchor="end" fill="#111" font-weight="bold">10</text>
<line x1="572.20" y1="407.80" x2="576.20" y2="407.80" stroke="#1a1a1a" stroke-width="1.1" />
<text x="570.60" y="410.10" font-size="6.40" text-anchor="end" fill="#111" font-weight="bold">20</text>
<line x1="572.20" y1="391.10" x2="576.20" y2="391.10" stroke="#1a1a1a" stroke-width="1.1" />
<text x="570.60" y="393.40" font-size="6.40" text-anchor="end" fill="#111" font-weight="bold">30</text>
<line x1="572.20" y1="374.40" x2="576.20" y2="374.40" stroke="#1a1a1a" stroke-width="1.1" />
<text x="570.60" y="376.70" font-size="6.40" text-anchor="end" fill="#111" font-weight="bold">40</text>
<line x1="572.20" y1="357.70" x2="576.20" y2="357.70" stroke="#1a1a1a" stroke-width="1.1" />
<text x="570.60" y="360.00" font-size="6.40" text-anchor="end" fill="#111" font-weight="bold">50</text>
<line x1="572.20" y1="341.00" x2="576.20" y2="341.00" stroke="#1a1a1a" stroke-width="1.1" />
<text x="570.60" y="343.30" font-size="6.40" text-anchor="end" fill="#111" font-weight="bold">60</text>
<rect x="581.55" y="394.44" width="10.30" height="46.76" fill="#fff" stroke="#1a1a1a" stroke-width="1.1" />
<line x1="586.70" y1="441.20" x2="586.70" y2="444.20" stroke="#1a1a1a" stroke-width="1.1" />
<line x1="586.70" y1="385.25" x2="586.70" y2="401.95" stroke="#1a1a1a" stroke-width="0.9" />
<line x1="584.70" y1="385.25" x2="588.70" y2="385.25" stroke="#1a1a1a" stroke-width="0.9" />
<line x1="584.70" y1="401.95" x2="588.70" y2="401.95" stroke="#1a1a1a" stroke-width="0.9" />
<circle cx="583.82" cy="401.95" r="1.60" fill="#1a1a1a" />
<circle cx="586.70" cy="396.11" r="1.60" fill="#1a1a1a" />
<circle cx="589.58" cy="395.27" r="1.60" fill="#1a1a1a" />
<rect x="597.45" y="391.10" width="10.30" height="50.10" fill="#fff" stroke="#5e9ef0" stroke-width="1.1" />
<line x1="602.60" y1="441.20" x2="602.60" y2="444.20" stroke="#1a1a1a" stroke-width="1.1" />
<line x1="602.60" y1="384.42" x2="602.60" y2="397.78" stroke="#5e9ef0" stroke-width="0.9" />
<line x1="600.60" y1="384.42" x2="604.60" y2="384.42" stroke="#5e9ef0" stroke-width="0.9" />
<line x1="600.60" y1="397.78" x2="604.60" y2="397.78" stroke="#5e9ef0" stroke-width="0.9" />
<circle cx="599.72" cy="397.78" r="1.60" fill="#5e9ef0" />
<circle cx="602.60" cy="387.76" r="1.60" fill="#5e9ef0" />
<circle cx="605.48" cy="386.09" r="1.60" fill="#5e9ef0" />
<rect x="613.15" y="377.74" width="10.30" height="63.46" fill="#fff" stroke="#3fca72" stroke-width="1.1" />
<line x1="618.30" y1="441.20" x2="618.30" y2="444.20" stroke="#1a1a1a" stroke-width="1.1" />
<circle cx="615.42" cy="378.57" r="1.60" fill="#3fca72" />
<circle cx="618.30" cy="377.74" r="1.60" fill="#3fca72" />
<circle cx="621.18" cy="376.90" r="1.60" fill="#3fca72" />
<rect x="629.25" y="367.72" width="10.30" height="73.48" fill="#fff" stroke="#e6343c" stroke-width="1.1" />
<line x1="634.40" y1="441.20" x2="634.40" y2="444.20" stroke="#1a1a1a" stroke-width="1.1" />
<line x1="634.40" y1="363.54" x2="634.40" y2="371.06" stroke="#e6343c" stroke-width="0.9" />
<line x1="632.40" y1="363.54" x2="636.40" y2="363.54" stroke="#e6343c" stroke-width="0.9" />
<line x1="632.40" y1="371.06" x2="636.40" y2="371.06" stroke="#e6343c" stroke-width="0.9" />
<circle cx="631.52" cy="370.23" r="1.60" fill="#e6343c" />
<circle cx="634.40" cy="367.72" r="1.60" fill="#e6343c" />
<circle cx="637.28" cy="365.21" r="1.60" fill="#e6343c" />
<rect x="645.05" y="360.20" width="10.30" height="81.00" fill="#fff" stroke="#ef8e2c" stroke-width="1.1" />
<line x1="650.20" y1="441.20" x2="650.20" y2="444.20" stroke="#1a1a1a" stroke-width="1.1" />
<circle cx="647.32" cy="361.04" r="1.60" fill="#ef8e2c" />
<circle cx="650.20" cy="360.20" r="1.60" fill="#ef8e2c" />
<circle cx="653.08" cy="359.37" r="1.60" fill="#ef8e2c" />
<rect x="660.65" y="362.71" width="10.30" height="78.49" fill="#fff" stroke="#b45ef0" stroke-width="1.1" />
<line x1="665.80" y1="441.20" x2="665.80" y2="444.20" stroke="#1a1a1a" stroke-width="1.1" />
<circle cx="662.92" cy="365.21" r="1.60" fill="#b45ef0" />
<circle cx="665.80" cy="361.88" r="1.60" fill="#b45ef0" />
<circle cx="668.68" cy="361.04" r="1.60" fill="#b45ef0" />
<polyline points="586.70,381.70 586.70,377.20 602.60,377.20 602.60,381.70" stroke="#1a1a1a" stroke-width="1.15" fill="none" stroke-linejoin="round" />
<text x="595.50" y="374.63" font-size="6.20" text-anchor="middle" fill="#222" textLength="26.2" lengthAdjust="spacingAndGlyphs" stroke="#222" stroke-width="0.186">p=0.8900</text>
<polyline points="586.70,369.30 586.70,364.80 618.30,364.80 618.30,369.30" stroke="#1a1a1a" stroke-width="1.15" fill="none" stroke-linejoin="round" />
<text x="597.80" y="363.03" font-size="6.20" text-anchor="middle" fill="#222" textLength="25.7" lengthAdjust="spacingAndGlyphs" stroke="#222" stroke-width="0.186">p=0.0049</text>
<polyline points="618.30,359.90 618.30,355.40 634.40,355.40 634.40,359.90" stroke="#1a1a1a" stroke-width="1.15" fill="none" stroke-linejoin="round" />
<text x="633.10" y="353.03" font-size="6.20" text-anchor="middle" fill="#222" textLength="27.0" lengthAdjust="spacingAndGlyphs" stroke="#222" stroke-width="0.186">p=0.1039</text>
<polyline points="618.30,347.20 618.30,342.70 650.20,342.70 650.20,347.20" stroke="#1a1a1a" stroke-width="1.15" fill="none" stroke-linejoin="round" />
<text x="631.90" y="340.03" font-size="6.20" text-anchor="middle" fill="#222" textLength="26.2" lengthAdjust="spacingAndGlyphs" stroke="#222" stroke-width="0.186">p=0.0063</text>
<polyline points="650.20,356.10 650.20,351.60 665.80,351.60 665.80,356.10" stroke="#1a1a1a" stroke-width="1.15" fill="none" stroke-linejoin="round" />
<text x="664.70" y="348.43" font-size="6.20" text-anchor="middle" fill="#222" textLength="27.0" lengthAdjust="spacingAndGlyphs" stroke="#222" stroke-width="0.186">p=0.9825</text>
<text transform="translate(556.30,392.00) rotate(-90)" x="0" y="2.38" font-size="6.60" text-anchor="middle" fill="#111" font-weight="bold" textLength="98.5" lengthAdjust="spacingAndGlyphs">CD3<tspan baseline-shift="super" font-size="70%">+</tspan> CD8<tspan baseline-shift="super" font-size="70%">+</tspan> TNF-α<tspan baseline-shift="super" font-size="70%">+</tspan> T Cells (%)</text>
<text transform="translate(585.70,452.00) rotate(-45)" x="0" y="2.16" font-size="6.00" text-anchor="end" fill="#111" font-weight="bold">NC</text>
<text transform="translate(601.60,452.00) rotate(-45)" x="0" y="2.16" font-size="6.00" text-anchor="end" fill="#111" font-weight="bold">Laser</text>
<text transform="translate(617.30,452.00) rotate(-45)" x="0" y="2.16" font-size="6.00" text-anchor="end" fill="#111" font-weight="bold">NPs</text>
<text transform="translate(633.40,452.00) rotate(-45)" x="0" y="2.16" font-size="6.00" text-anchor="end" fill="#111" font-weight="bold">NPs+Laser</text>
<text transform="translate(649.20,452.00) rotate(-45)" x="0" y="2.16" font-size="6.00" text-anchor="end" fill="#111" font-weight="bold">NPs-AS1411</text>
<text transform="translate(664.80,452.00) rotate(-45)" x="0" y="2.16" font-size="6.00" text-anchor="end" fill="#111" font-weight="bold">NPs-AS1411+Laser</text>
<line x1="439.90" y1="782.10" x2="439.90" y2="887.90" stroke="#1a1a1a" stroke-width="1.2" />
<line x1="439.30" y1="887.30" x2="541.20" y2="887.30" stroke="#1a1a1a" stroke-width="1.2" />
<line x1="435.60" y1="887.30" x2="439.90" y2="887.30" stroke="#1a1a1a" stroke-width="1.2" />
<text x="433.90" y="889.96" font-size="7.40" text-anchor="end" fill="#111" font-weight="bold">0</text>
<line x1="435.60" y1="866.36" x2="439.90" y2="866.36" stroke="#1a1a1a" stroke-width="1.2" />
<text x="433.90" y="869.02" font-size="7.40" text-anchor="end" fill="#111" font-weight="bold">10</text>
<line x1="435.60" y1="845.42" x2="439.90" y2="845.42" stroke="#1a1a1a" stroke-width="1.2" />
<text x="433.90" y="848.08" font-size="7.40" text-anchor="end" fill="#111" font-weight="bold">20</text>
<line x1="435.60" y1="824.48" x2="439.90" y2="824.48" stroke="#1a1a1a" stroke-width="1.2" />
<text x="433.90" y="827.14" font-size="7.40" text-anchor="end" fill="#111" font-weight="bold">30</text>
<line x1="435.60" y1="803.54" x2="439.90" y2="803.54" stroke="#1a1a1a" stroke-width="1.2" />
<text x="433.90" y="806.20" font-size="7.40" text-anchor="end" fill="#111" font-weight="bold">40</text>
<line x1="435.60" y1="782.60" x2="439.90" y2="782.60" stroke="#1a1a1a" stroke-width="1.2" />
<text x="433.90" y="785.26" font-size="7.40" text-anchor="end" fill="#111" font-weight="bold">50</text>
<rect x="447.85" y="854.84" width="15.50" height="32.46" fill="#fff" stroke="#1a1a1a" stroke-width="1.3" />
<line x1="455.60" y1="887.30" x2="455.60" y2="890.30" stroke="#1a1a1a" stroke-width="1.2" />
<line x1="455.60" y1="851.70" x2="455.60" y2="857.98" stroke="#1a1a1a" stroke-width="0.9" />
<line x1="453.60" y1="851.70" x2="457.60" y2="851.70" stroke="#1a1a1a" stroke-width="0.9" />
<line x1="453.60" y1="857.98" x2="457.60" y2="857.98" stroke="#1a1a1a" stroke-width="0.9" />
<circle cx="451.26" cy="856.94" r="1.80" fill="#1a1a1a" />
<circle cx="455.60" cy="855.89" r="1.80" fill="#1a1a1a" />
<circle cx="459.94" cy="852.75" r="1.80" fill="#1a1a1a" />
<rect x="471.95" y="870.97" width="15.50" height="16.33" fill="#fff" stroke="#5e9ef0" stroke-width="1.3" />
<line x1="479.70" y1="887.30" x2="479.70" y2="890.30" stroke="#1a1a1a" stroke-width="1.2" />
<line x1="479.70" y1="866.36" x2="479.70" y2="875.78" stroke="#5e9ef0" stroke-width="0.9" />
<line x1="477.70" y1="866.36" x2="481.70" y2="866.36" stroke="#5e9ef0" stroke-width="0.9" />
<line x1="477.70" y1="875.78" x2="481.70" y2="875.78" stroke="#5e9ef0" stroke-width="0.9" />
<circle cx="475.36" cy="875.78" r="1.80" fill="#5e9ef0" />
<circle cx="479.70" cy="871.59" r="1.80" fill="#5e9ef0" />
<circle cx="484.04" cy="867.41" r="1.80" fill="#5e9ef0" />
<rect x="496.25" y="832.86" width="15.50" height="54.44" fill="#fff" stroke="#3fca72" stroke-width="1.3" />
<line x1="504.00" y1="887.30" x2="504.00" y2="890.30" stroke="#1a1a1a" stroke-width="1.2" />
<line x1="504.00" y1="827.62" x2="504.00" y2="838.09" stroke="#3fca72" stroke-width="0.9" />
<line x1="502.00" y1="827.62" x2="506.00" y2="827.62" stroke="#3fca72" stroke-width="0.9" />
<line x1="502.00" y1="838.09" x2="506.00" y2="838.09" stroke="#3fca72" stroke-width="0.9" />
<circle cx="499.66" cy="837.04" r="1.80" fill="#3fca72" />
<circle cx="504.00" cy="830.76" r="1.80" fill="#3fca72" />
<circle cx="508.34" cy="828.67" r="1.80" fill="#3fca72" />
<rect x="520.35" y="796.21" width="15.50" height="91.09" fill="#fff" stroke="#e6343c" stroke-width="1.3" />
<line x1="528.10" y1="887.30" x2="528.10" y2="890.30" stroke="#1a1a1a" stroke-width="1.2" />
<line x1="528.10" y1="790.98" x2="528.10" y2="801.45" stroke="#e6343c" stroke-width="0.9" />
<line x1="526.10" y1="790.98" x2="530.10" y2="790.98" stroke="#e6343c" stroke-width="0.9" />
<line x1="526.10" y1="801.45" x2="530.10" y2="801.45" stroke="#e6343c" stroke-width="0.9" />
<circle cx="523.76" cy="799.35" r="1.80" fill="#e6343c" />
<circle cx="528.10" cy="797.26" r="1.80" fill="#e6343c" />
<circle cx="532.44" cy="792.02" r="1.80" fill="#e6343c" />
<polyline points="455.30,848.70 455.30,844.20 482.00,844.20 482.00,848.70" stroke="#1a1a1a" stroke-width="1.15" fill="none" stroke-linejoin="round" />
<text x="469.00" y="841.53" font-size="6.20" text-anchor="middle" fill="#222" textLength="27.9" lengthAdjust="spacingAndGlyphs" stroke="#222" stroke-width="0.186">p=0.0043</text>
<polyline points="479.40,825.40 479.40,820.90 505.70,820.90 505.70,825.40" stroke="#1a1a1a" stroke-width="1.15" fill="none" stroke-linejoin="round" />
<text x="492.70" y="817.73" font-size="6.20" text-anchor="middle" fill="#222" textLength="27.7" lengthAdjust="spacingAndGlyphs" stroke="#222" stroke-width="0.186">p&lt;0.0001</text>
<polyline points="502.00,788.40 502.00,782.60 528.30,782.60 528.30,788.40" stroke="#1a1a1a" stroke-width="1.15" fill="none" stroke-linejoin="round" />
<text x="515.10" y="780.33" font-size="6.20" text-anchor="middle" fill="#222" textLength="27.2" lengthAdjust="spacingAndGlyphs" stroke="#222" stroke-width="0.186">p&lt;0.0001</text>
<polyline points="478.70,774.00 478.70,769.50 527.60,769.50 527.60,774.00" stroke="#1a1a1a" stroke-width="1.15" fill="none" stroke-linejoin="round" />
<text x="503.60" y="766.03" font-size="6.20" text-anchor="middle" fill="#222" textLength="27.7" lengthAdjust="spacingAndGlyphs" stroke="#222" stroke-width="0.186">p&lt;0.0001</text>
<text transform="translate(417.80,834.60) rotate(-90)" x="0" y="2.38" font-size="6.60" text-anchor="middle" fill="#111" font-weight="bold" textLength="103.2" lengthAdjust="spacingAndGlyphs">Concentration of CCL3(pg/ml)</text>
<text transform="translate(454.60,897.30) rotate(-45)" x="0" y="2.30" font-size="6.40" text-anchor="end" fill="#111" font-weight="bold">WT</text>
<text transform="translate(478.70,897.30) rotate(-45)" x="0" y="2.30" font-size="6.40" text-anchor="end" fill="#111" font-weight="bold">Apc-KO mice-NC</text>
<text transform="translate(503.00,897.30) rotate(-45)" x="0" y="2.30" font-size="6.40" text-anchor="end" fill="#111" font-weight="bold">Apc-KO mice-NPs</text>
<text transform="translate(527.10,897.30) rotate(-45)" x="0" y="2.30" font-size="6.40" text-anchor="end" fill="#111" font-weight="bold">Apc-KO mice-NPs-AS1411</text>
<line x1="576.90" y1="787.10" x2="576.90" y2="889.50" stroke="#1a1a1a" stroke-width="1.2" />
<line x1="576.30" y1="888.90" x2="678.90" y2="888.90" stroke="#1a1a1a" stroke-width="1.2" />
<line x1="572.60" y1="888.90" x2="576.90" y2="888.90" stroke="#1a1a1a" stroke-width="1.2" />
<text x="570.90" y="891.56" font-size="7.40" text-anchor="end" fill="#111" font-weight="bold">0</text>
<line x1="572.60" y1="863.60" x2="576.90" y2="863.60" stroke="#1a1a1a" stroke-width="1.2" />
<text x="570.90" y="866.26" font-size="7.40" text-anchor="end" fill="#111" font-weight="bold">200</text>
<line x1="572.60" y1="838.30" x2="576.90" y2="838.30" stroke="#1a1a1a" stroke-width="1.2" />
<text x="570.90" y="840.96" font-size="7.40" text-anchor="end" fill="#111" font-weight="bold">400</text>
<line x1="572.60" y1="813.00" x2="576.90" y2="813.00" stroke="#1a1a1a" stroke-width="1.2" />
<text x="570.90" y="815.66" font-size="7.40" text-anchor="end" fill="#111" font-weight="bold">600</text>
<line x1="572.60" y1="787.70" x2="576.90" y2="787.70" stroke="#1a1a1a" stroke-width="1.2" />
<text x="570.90" y="790.36" font-size="7.40" text-anchor="end" fill="#111" font-weight="bold">800</text>
<rect x="585.30" y="853.48" width="15.00" height="35.42" fill="#fff" stroke="#1a1a1a" stroke-width="1.3" />
<line x1="592.80" y1="888.90" x2="592.80" y2="891.90" stroke="#1a1a1a" stroke-width="1.2" />
<circle cx="588.60" cy="854.49" r="1.80" fill="#1a1a1a" />
<circle cx="592.80" cy="853.48" r="1.80" fill="#1a1a1a" />
<circle cx="597.00" cy="852.47" r="1.80" fill="#1a1a1a" />
<rect x="608.70" y="794.66" width="15.00" height="94.24" fill="#fff" stroke="#5e9ef0" stroke-width="1.3" />
<line x1="616.20" y1="888.90" x2="616.20" y2="891.90" stroke="#1a1a1a" stroke-width="1.2" />
<circle cx="612.00" cy="795.54" r="1.80" fill="#5e9ef0" />
<circle cx="616.20" cy="794.66" r="1.80" fill="#5e9ef0" />
<circle cx="620.40" cy="793.77" r="1.80" fill="#5e9ef0" />
<rect x="632.10" y="845.89" width="15.00" height="43.01" fill="#fff" stroke="#3fca72" stroke-width="1.3" />
<line x1="639.60" y1="888.90" x2="639.60" y2="891.90" stroke="#1a1a1a" stroke-width="1.2" />
<line x1="639.60" y1="841.84" x2="639.60" y2="850.32" stroke="#3fca72" stroke-width="0.9" />
<line x1="637.60" y1="841.84" x2="641.60" y2="841.84" stroke="#3fca72" stroke-width="0.9" />
<line x1="637.60" y1="850.32" x2="641.60" y2="850.32" stroke="#3fca72" stroke-width="0.9" />
<circle cx="635.40" cy="849.05" r="1.80" fill="#3fca72" />
<circle cx="639.60" cy="845.89" r="1.80" fill="#3fca72" />
<circle cx="643.80" cy="842.73" r="1.80" fill="#3fca72" />
<rect x="655.50" y="870.56" width="15.00" height="18.34" fill="#fff" stroke="#e6343c" stroke-width="1.3" />
<line x1="663.00" y1="888.90" x2="663.00" y2="891.90" stroke="#1a1a1a" stroke-width="1.2" />
<circle cx="658.80" cy="871.19" r="1.80" fill="#e6343c" />
<circle cx="663.00" cy="870.56" r="1.80" fill="#e6343c" />
<circle cx="667.20" cy="869.92" r="1.80" fill="#e6343c" />
<polyline points="588.50,788.40 588.50,784.40 615.00,784.40 615.00,788.40" stroke="#1a1a1a" stroke-width="1.15" fill="none" stroke-linejoin="round" />
<text x="600.20" y="781.93" font-size="6.20" text-anchor="middle" fill="#222" textLength="26.3" lengthAdjust="spacingAndGlyphs" stroke="#222" stroke-width="0.186">p&lt;0.0001</text>
<polyline points="615.00,788.40 615.00,784.40 641.30,784.40 641.30,788.40" stroke="#1a1a1a" stroke-width="1.15" fill="none" stroke-linejoin="round" />
<text x="628.90" y="781.93" font-size="6.20" text-anchor="middle" fill="#222" textLength="26.2" lengthAdjust="spacingAndGlyphs" stroke="#222" stroke-width="0.186">p&lt;0.0001</text>
<polyline points="615.80,775.00 615.80,770.50 663.50,770.50 663.50,775.00" stroke="#1a1a1a" stroke-width="1.15" fill="none" stroke-linejoin="round" />
<text x="639.90" y="767.13" font-size="6.20" text-anchor="middle" fill="#222" textLength="26.3" lengthAdjust="spacingAndGlyphs" stroke="#222" stroke-width="0.186">p&lt;0.0001</text>
<polyline points="639.90,838.80 639.90,834.50 666.10,834.50 666.10,838.80" stroke="#1a1a1a" stroke-width="1.15" fill="none" stroke-linejoin="round" />
<text x="653.00" y="831.33" font-size="6.20" text-anchor="middle" fill="#222" textLength="26.2" lengthAdjust="spacingAndGlyphs" stroke="#222" stroke-width="0.186">p&lt;0.0001</text>
<text transform="translate(551.40,838.50) rotate(-90)" x="0" y="2.38" font-size="6.60" text-anchor="middle" fill="#111" font-weight="bold" textLength="111.0" lengthAdjust="spacingAndGlyphs">Concentration of CXCL12 (pg/ml)</text>
<text transform="translate(591.80,898.90) rotate(-45)" x="0" y="2.30" font-size="6.40" text-anchor="end" fill="#111" font-weight="bold">WT</text>
<text transform="translate(615.20,898.90) rotate(-45)" x="0" y="2.30" font-size="6.40" text-anchor="end" fill="#111" font-weight="bold">Apc-KO mice-NC</text>
<text transform="translate(638.60,898.90) rotate(-45)" x="0" y="2.30" font-size="6.40" text-anchor="end" fill="#111" font-weight="bold">Apc-KO mice-NPs</text>
<text transform="translate(662.00,898.90) rotate(-45)" x="0" y="2.30" font-size="6.40" text-anchor="end" fill="#111" font-weight="bold">Apc-KO mice-NPs-AS1411</text>
<line x1="558.70" y1="552.20" x2="558.70" y2="670.00" stroke="#1a1a1a" stroke-width="1.2" />
<line x1="558.10" y1="669.40" x2="676.20" y2="669.40" stroke="#1a1a1a" stroke-width="1.2" />
<line x1="554.10" y1="669.40" x2="558.70" y2="669.40" stroke="#1a1a1a" stroke-width="1.2" />
<text x="552.10" y="672.21" font-size="7.80" text-anchor="end" fill="#111" font-weight="bold">0</text>
<line x1="554.10" y1="640.25" x2="558.70" y2="640.25" stroke="#1a1a1a" stroke-width="1.2" />
<text x="552.10" y="643.06" font-size="7.80" text-anchor="end" fill="#111" font-weight="bold">1</text>
<line x1="554.10" y1="611.10" x2="558.70" y2="611.10" stroke="#1a1a1a" stroke-width="1.2" />
<text x="552.10" y="613.91" font-size="7.80" text-anchor="end" fill="#111" font-weight="bold">2</text>
<line x1="554.10" y1="581.95" x2="558.70" y2="581.95" stroke="#1a1a1a" stroke-width="1.2" />
<text x="552.10" y="584.76" font-size="7.80" text-anchor="end" fill="#111" font-weight="bold">3</text>
<line x1="554.10" y1="552.80" x2="558.70" y2="552.80" stroke="#1a1a1a" stroke-width="1.2" />
<text x="552.10" y="555.61" font-size="7.80" text-anchor="end" fill="#111" font-weight="bold">4</text>
<line x1="576.70" y1="669.40" x2="576.70" y2="672.40" stroke="#1a1a1a" stroke-width="1.2" />
<line x1="603.70" y1="669.40" x2="603.70" y2="672.40" stroke="#1a1a1a" stroke-width="1.2" />
<line x1="630.70" y1="669.40" x2="630.70" y2="672.40" stroke="#1a1a1a" stroke-width="1.2" />
<line x1="657.70" y1="669.40" x2="657.70" y2="672.40" stroke="#1a1a1a" stroke-width="1.2" />
<circle cx="569.00" cy="669.40" r="1.80" fill="#1a1a1a" />
<circle cx="572.00" cy="669.40" r="1.80" fill="#1a1a1a" />
<circle cx="575.00" cy="669.40" r="1.80" fill="#1a1a1a" />
<circle cx="578.00" cy="669.40" r="1.80" fill="#1a1a1a" />
<circle cx="581.00" cy="669.40" r="1.80" fill="#1a1a1a" />
<circle cx="584.00" cy="669.40" r="1.80" fill="#1a1a1a" />
<line x1="603.70" y1="584.28" x2="603.70" y2="628.01" stroke="#5e9ef0" stroke-width="1.2" />
<line x1="600.20" y1="584.28" x2="607.20" y2="584.28" stroke="#5e9ef0" stroke-width="1.2" />
<line x1="600.20" y1="628.01" x2="607.20" y2="628.01" stroke="#5e9ef0" stroke-width="1.2" />
<line x1="594.60" y1="606.14" x2="612.80" y2="606.14" stroke="#5e9ef0" stroke-width="1.3" />
<circle cx="600.00" cy="581.95" r="1.90" fill="#5e9ef0" />
<circle cx="607.40" cy="581.95" r="1.90" fill="#5e9ef0" />
<circle cx="596.40" cy="611.10" r="1.90" fill="#5e9ef0" />
<circle cx="603.70" cy="611.10" r="1.90" fill="#5e9ef0" />
<circle cx="611.00" cy="611.10" r="1.90" fill="#5e9ef0" />
<circle cx="603.70" cy="640.25" r="1.90" fill="#5e9ef0" />
<line x1="630.70" y1="623.20" x2="630.70" y2="667.07" stroke="#3fca72" stroke-width="1.2" />
<line x1="627.20" y1="623.20" x2="634.20" y2="623.20" stroke="#3fca72" stroke-width="1.2" />
<line x1="627.20" y1="667.07" x2="634.20" y2="667.07" stroke="#3fca72" stroke-width="1.2" />
<line x1="621.60" y1="645.21" x2="639.80" y2="645.21" stroke="#3fca72" stroke-width="1.3" />
<circle cx="630.70" cy="611.10" r="1.90" fill="#3fca72" />
<circle cx="623.40" cy="640.25" r="1.90" fill="#3fca72" />
<circle cx="630.70" cy="640.25" r="1.90" fill="#3fca72" />
<circle cx="638.00" cy="640.25" r="1.90" fill="#3fca72" />
<circle cx="627.00" cy="669.40" r="1.90" fill="#3fca72" />
<circle cx="634.00" cy="669.40" r="1.90" fill="#3fca72" />
<line x1="657.70" y1="644.62" x2="657.70" y2="669.40" stroke="#e6343c" stroke-width="1.2" />
<line x1="654.20" y1="644.62" x2="661.20" y2="644.62" stroke="#e6343c" stroke-width="1.2" />
<line x1="654.20" y1="669.40" x2="661.20" y2="669.40" stroke="#e6343c" stroke-width="1.2" />
<line x1="648.60" y1="659.78" x2="666.80" y2="659.78" stroke="#e6343c" stroke-width="1.3" />
<circle cx="654.80" cy="640.25" r="1.90" fill="#e6343c" />
<circle cx="660.20" cy="640.25" r="1.90" fill="#e6343c" />
<circle cx="650.40" cy="669.40" r="1.90" fill="#e6343c" />
<circle cx="655.30" cy="669.40" r="1.90" fill="#e6343c" />
<circle cx="660.20" cy="669.40" r="1.90" fill="#e6343c" />
<circle cx="665.10" cy="669.40" r="1.90" fill="#e6343c" />
<polyline points="603.70,575.70 603.70,570.70 632.90,570.70 632.90,575.70" stroke="#1a1a1a" stroke-width="1.0" fill="none" stroke-linejoin="round" />
<text x="618.30" y="567.38" font-size="6.60" text-anchor="middle" fill="#222" textLength="30.7" lengthAdjust="spacingAndGlyphs" stroke="#222" stroke-width="0.2">p=0.0108</text>
<polyline points="603.70,560.80 603.70,555.20 659.40,555.20 659.40,560.80" stroke="#1a1a1a" stroke-width="1.0" fill="none" stroke-linejoin="round" />
<text x="632.20" y="551.38" font-size="6.60" text-anchor="middle" fill="#222" textLength="31.4" lengthAdjust="spacingAndGlyphs" stroke="#222" stroke-width="0.2">p=0.0009</text>
<polyline points="631.10,605.60 631.10,600.60 660.50,600.60 660.50,605.60" stroke="#1a1a1a" stroke-width="1.0" fill="none" stroke-linejoin="round" />
<text x="646.00" y="597.58" font-size="6.60" text-anchor="middle" fill="#222" textLength="30.7" lengthAdjust="spacingAndGlyphs" stroke="#222" stroke-width="0.2">p=0.4339</text>
<text transform="translate(540.20,610.30) rotate(-90)" x="0" y="2.59" font-size="7.20" text-anchor="middle" fill="#111" font-weight="bold" textLength="87.6" lengthAdjust="spacingAndGlyphs">The number of  tumors</text>
<text transform="translate(577.70,680.40) rotate(-45)" x="0" y="2.52" font-size="7.00" text-anchor="end" fill="#111" font-weight="bold">WT</text>
<text transform="translate(604.70,680.40) rotate(-45)" x="0" y="2.52" font-size="7.00" text-anchor="end" fill="#111" font-weight="bold">Apc-KO mice-NC</text>
<text transform="translate(631.70,680.40) rotate(-45)" x="0" y="2.52" font-size="7.00" text-anchor="end" fill="#111" font-weight="bold">Apc-KO mice-NPs</text>
<text transform="translate(658.70,680.40) rotate(-45)" x="0" y="2.52" font-size="7.00" text-anchor="end" fill="#111" font-weight="bold">Apc-KO mice-NPs-AS1411</text>
<line x1="210.80" y1="24.10" x2="210.80" y2="116.50" stroke="#1a1a1a" stroke-width="1.2" />
<line x1="210.20" y1="115.90" x2="245.80" y2="115.90" stroke="#1a1a1a" stroke-width="1.2" />
<line x1="207.80" y1="115.90" x2="210.80" y2="115.90" stroke="#1a1a1a" stroke-width="1.2" />
<text x="206.50" y="118.28" font-size="6.60" text-anchor="end" fill="#111" font-weight="bold" textLength="3.7" lengthAdjust="spacingAndGlyphs">0</text>
<line x1="207.80" y1="97.64" x2="210.80" y2="97.64" stroke="#1a1a1a" stroke-width="1.2" />
<text x="206.50" y="100.02" font-size="6.60" text-anchor="end" fill="#111" font-weight="bold" textLength="11.2" lengthAdjust="spacingAndGlyphs">500</text>
<line x1="207.80" y1="79.38" x2="210.80" y2="79.38" stroke="#1a1a1a" stroke-width="1.2" />
<text x="206.50" y="81.76" font-size="6.60" text-anchor="end" fill="#111" font-weight="bold" textLength="14.9" lengthAdjust="spacingAndGlyphs">1000</text>
<line x1="207.80" y1="61.12" x2="210.80" y2="61.12" stroke="#1a1a1a" stroke-width="1.2" />
<text x="206.50" y="63.50" font-size="6.60" text-anchor="end" fill="#111" font-weight="bold" textLength="14.9" lengthAdjust="spacingAndGlyphs">1500</text>
<line x1="207.80" y1="42.86" x2="210.80" y2="42.86" stroke="#1a1a1a" stroke-width="1.2" />
<text x="206.50" y="45.24" font-size="6.60" text-anchor="end" fill="#111" font-weight="bold" textLength="14.9" lengthAdjust="spacingAndGlyphs">2000</text>
<line x1="207.80" y1="24.60" x2="210.80" y2="24.60" stroke="#1a1a1a" stroke-width="1.2" />
<text x="206.50" y="26.98" font-size="6.60" text-anchor="end" fill="#111" font-weight="bold" textLength="14.9" lengthAdjust="spacingAndGlyphs">2500</text>
<line x1="218.20" y1="115.90" x2="218.20" y2="118.40" stroke="#1a1a1a" stroke-width="1.0" />
<text x="218.20" y="127.80" font-size="6.40" text-anchor="middle" fill="#111" font-weight="bold">8</text>
<line x1="227.92" y1="115.90" x2="227.92" y2="118.40" stroke="#1a1a1a" stroke-width="1.0" />
<text x="227.92" y="127.80" font-size="6.40" text-anchor="middle" fill="#111" font-weight="bold">14</text>
<line x1="237.64" y1="115.90" x2="237.64" y2="118.40" stroke="#1a1a1a" stroke-width="1.0" />
<text x="237.64" y="127.80" font-size="6.40" text-anchor="middle" fill="#111" font-weight="bold">20</text>
<polyline points="213.34,115.90 218.20,115.17 223.06,113.71 227.92,107.50 232.78,86.68 237.64,61.12 242.50,42.86" stroke="#1a1a1a" stroke-width="1.4" fill="none" stroke-linejoin="round" />
<polyline points="213.34,115.90 218.20,115.17 223.06,113.71 227.92,107.50 232.78,88.51 237.64,65.50 242.50,48.34" stroke="#1a1a1a" stroke-width="1.4" fill="none" stroke-linejoin="round" />
<polyline points="213.34,115.90 218.20,115.17 223.06,113.71 227.92,107.50 232.78,89.61 237.64,67.33 242.50,50.16" stroke="#1a1a1a" stroke-width="1.4" fill="none" stroke-linejoin="round" />
<polyline points="213.34,115.90 218.20,115.17 223.06,113.71 227.92,107.50 232.78,90.34 237.64,69.15 242.50,51.62" stroke="#1a1a1a" stroke-width="1.4" fill="none" stroke-linejoin="round" />
<polyline points="213.34,115.90 218.20,115.17 223.06,113.71 227.92,107.50 232.78,93.26 237.64,79.38 242.50,65.50" stroke="#1a1a1a" stroke-width="1.4" fill="none" stroke-linejoin="round" />
<line x1="254.20" y1="24.10" x2="254.20" y2="116.50" stroke="#1a1a1a" stroke-width="1.2" />
<line x1="253.60" y1="115.90" x2="289.20" y2="115.90" stroke="#1a1a1a" stroke-width="1.2" />
<line x1="251.20" y1="115.90" x2="254.20" y2="115.90" stroke="#1a1a1a" stroke-width="1.2" />
<line x1="251.20" y1="97.64" x2="254.20" y2="97.64" stroke="#1a1a1a" stroke-width="1.2" />
<line x1="251.20" y1="79.38" x2="254.20" y2="79.38" stroke="#1a1a1a" stroke-width="1.2" />
<line x1="251.20" y1="61.12" x2="254.20" y2="61.12" stroke="#1a1a1a" stroke-width="1.2" />
<line x1="251.20" y1="42.86" x2="254.20" y2="42.86" stroke="#1a1a1a" stroke-width="1.2" />
<line x1="251.20" y1="24.60" x2="254.20" y2="24.60" stroke="#1a1a1a" stroke-width="1.2" />
<line x1="261.60" y1="115.90" x2="261.60" y2="118.40" stroke="#1a1a1a" stroke-width="1.0" />
<text x="261.60" y="127.80" font-size="6.40" text-anchor="middle" fill="#111" font-weight="bold">8</text>
<line x1="271.32" y1="115.90" x2="271.32" y2="118.40" stroke="#1a1a1a" stroke-width="1.0" />
<text x="271.32" y="127.80" font-size="6.40" text-anchor="middle" fill="#111" font-weight="bold">14</text>
<line x1="281.04" y1="115.90" x2="281.04" y2="118.40" stroke="#1a1a1a" stroke-width="1.0" />
<text x="281.04" y="127.80" font-size="6.40" text-anchor="middle" fill="#111" font-weight="bold">20</text>
<polyline points="256.74,115.90 261.60,115.53 266.46,114.44 271.32,108.60 276.18,77.55 281.04,47.24 285.90,42.86" stroke="#5e9ef0" stroke-width="1.1" fill="none" stroke-linejoin="round" />
<polyline points="256.74,115.90 261.60,115.53 266.46,114.44 271.32,108.60 276.18,81.21 281.04,50.16 285.90,45.78" stroke="#5e9ef0" stroke-width="1.1" fill="none" stroke-linejoin="round" />
<polyline points="256.74,115.90 261.60,115.53 266.46,114.44 271.32,108.60 276.18,86.68 281.04,64.77 285.90,55.64" stroke="#5e9ef0" stroke-width="1.1" fill="none" stroke-linejoin="round" />
<polyline points="256.74,115.90 261.60,115.53 266.46,114.44 271.32,108.60 276.18,88.14 281.04,68.42 285.90,57.47" stroke="#5e9ef0" stroke-width="1.1" fill="none" stroke-linejoin="round" />
<polyline points="256.74,115.90 261.60,115.53 266.46,114.44 271.32,108.60 276.18,90.34 281.04,72.08 285.90,61.12" stroke="#5e9ef0" stroke-width="1.1" fill="none" stroke-linejoin="round" />
<polyline points="256.74,115.90 261.60,115.53 266.46,114.44 271.32,108.60 276.18,92.16 281.04,75.73 285.90,62.95" stroke="#5e9ef0" stroke-width="1.1" fill="none" stroke-linejoin="round" />
<line x1="296.90" y1="24.10" x2="296.90" y2="116.50" stroke="#1a1a1a" stroke-width="1.2" />
<line x1="296.30" y1="115.90" x2="331.90" y2="115.90" stroke="#1a1a1a" stroke-width="1.2" />
<line x1="293.90" y1="115.90" x2="296.90" y2="115.90" stroke="#1a1a1a" stroke-width="1.2" />
<line x1="293.90" y1="97.64" x2="296.90" y2="97.64" stroke="#1a1a1a" stroke-width="1.2" />
<line x1="293.90" y1="79.38" x2="296.90" y2="79.38" stroke="#1a1a1a" stroke-width="1.2" />
<line x1="293.90" y1="61.12" x2="296.90" y2="61.12" stroke="#1a1a1a" stroke-width="1.2" />
<line x1="293.90" y1="42.86" x2="296.90" y2="42.86" stroke="#1a1a1a" stroke-width="1.2" />
<line x1="293.90" y1="24.60" x2="296.90" y2="24.60" stroke="#1a1a1a" stroke-width="1.2" />
<line x1="304.30" y1="115.90" x2="304.30" y2="118.40" stroke="#1a1a1a" stroke-width="1.0" />
<text x="304.30" y="127.80" font-size="6.40" text-anchor="middle" fill="#111" font-weight="bold">8</text>
<line x1="314.02" y1="115.90" x2="314.02" y2="118.40" stroke="#1a1a1a" stroke-width="1.0" />
<text x="314.02" y="127.80" font-size="6.40" text-anchor="middle" fill="#111" font-weight="bold">14</text>
<line x1="323.74" y1="115.90" x2="323.74" y2="118.40" stroke="#1a1a1a" stroke-width="1.0" />
<text x="323.74" y="127.80" font-size="6.40" text-anchor="middle" fill="#111" font-weight="bold">20</text>
<polyline points="299.44,115.90 304.30,115.53 309.16,114.44 314.02,110.06 318.88,98.37 323.74,81.21 328.60,86.68" stroke="#3fca72" stroke-width="1.1" fill="none" stroke-linejoin="round" />
<polyline points="299.44,115.90 304.30,115.53 309.16,114.44 314.02,110.06 318.88,99.47 323.74,83.76 328.60,88.51" stroke="#3fca72" stroke-width="1.1" fill="none" stroke-linejoin="round" />
<polyline points="299.44,115.90 304.30,115.53 309.16,114.44 314.02,110.06 318.88,100.56 323.74,88.14 328.60,89.61" stroke="#3fca72" stroke-width="1.1" fill="none" stroke-linejoin="round" />
<polyline points="299.44,115.90 304.30,115.53 309.16,114.44 314.02,110.06 318.88,101.29 323.74,90.34 328.60,87.41" stroke="#3fca72" stroke-width="1.1" fill="none" stroke-linejoin="round" />
<polyline points="299.44,115.90 304.30,115.53 309.16,114.44 314.02,110.06 318.88,102.02 323.74,93.99 328.60,100.56" stroke="#3fca72" stroke-width="1.1" fill="none" stroke-linejoin="round" />
<line x1="339.60" y1="24.10" x2="339.60" y2="116.50" stroke="#1a1a1a" stroke-width="1.2" />
<line x1="339.00" y1="115.90" x2="374.60" y2="115.90" stroke="#1a1a1a" stroke-width="1.2" />
<line x1="336.60" y1="115.90" x2="339.60" y2="115.90" stroke="#1a1a1a" stroke-width="1.2" />
<line x1="336.60" y1="97.64" x2="339.60" y2="97.64" stroke="#1a1a1a" stroke-width="1.2" />
<line x1="336.60" y1="79.38" x2="339.60" y2="79.38" stroke="#1a1a1a" stroke-width="1.2" />
<line x1="336.60" y1="61.12" x2="339.60" y2="61.12" stroke="#1a1a1a" stroke-width="1.2" />
<line x1="336.60" y1="42.86" x2="339.60" y2="42.86" stroke="#1a1a1a" stroke-width="1.2" />
<line x1="336.60" y1="24.60" x2="339.60" y2="24.60" stroke="#1a1a1a" stroke-width="1.2" />
<line x1="347.00" y1="115.90" x2="347.00" y2="118.40" stroke="#1a1a1a" stroke-width="1.0" />
<text x="347.00" y="127.80" font-size="6.40" text-anchor="middle" fill="#111" font-weight="bold">8</text>
<line x1="356.72" y1="115.90" x2="356.72" y2="118.40" stroke="#1a1a1a" stroke-width="1.0" />
<text x="356.72" y="127.80" font-size="6.40" text-anchor="middle" fill="#111" font-weight="bold">14</text>
<line x1="366.44" y1="115.90" x2="366.44" y2="118.40" stroke="#1a1a1a" stroke-width="1.0" />
<text x="366.44" y="127.80" font-size="6.40" text-anchor="middle" fill="#111" font-weight="bold">20</text>
<polyline points="342.14,115.90 347.00,115.53 351.86,113.71 356.72,107.14 361.58,100.56 366.44,84.86 371.30,81.21" stroke="#e6343c" stroke-width="1.1" fill="none" stroke-linejoin="round" />
<polyline points="342.14,115.90 347.00,115.53 351.86,113.71 356.72,107.14 361.58,102.02 366.44,93.99 371.30,94.72" stroke="#e6343c" stroke-width="1.1" fill="none" stroke-linejoin="round" />
<polyline points="342.14,115.90 347.00,115.53 351.86,113.71 356.72,107.14 361.58,102.75 366.44,96.91 371.30,93.99" stroke="#e6343c" stroke-width="1.1" fill="none" stroke-linejoin="round" />
<polyline points="342.14,115.90 347.00,115.53 351.86,113.71 356.72,107.14 361.58,103.12 366.44,97.64 371.30,97.64" stroke="#e6343c" stroke-width="1.1" fill="none" stroke-linejoin="round" />
<polyline points="342.14,115.90 347.00,115.53 351.86,113.71 356.72,107.14 361.58,103.48 366.44,95.81 371.30,98.37" stroke="#e6343c" stroke-width="1.1" fill="none" stroke-linejoin="round" />
<line x1="382.20" y1="24.10" x2="382.20" y2="116.50" stroke="#1a1a1a" stroke-width="1.2" />
<line x1="381.60" y1="115.90" x2="417.20" y2="115.90" stroke="#1a1a1a" stroke-width="1.2" />
<line x1="379.20" y1="115.90" x2="382.20" y2="115.90" stroke="#1a1a1a" stroke-width="1.2" />
<line x1="379.20" y1="97.64" x2="382.20" y2="97.64" stroke="#1a1a1a" stroke-width="1.2" />
<line x1="379.20" y1="79.38" x2="382.20" y2="79.38" stroke="#1a1a1a" stroke-width="1.2" />
<line x1="379.20" y1="61.12" x2="382.20" y2="61.12" stroke="#1a1a1a" stroke-width="1.2" />
<line x1="379.20" y1="42.86" x2="382.20" y2="42.86" stroke="#1a1a1a" stroke-width="1.2" />
<line x1="379.20" y1="24.60" x2="382.20" y2="24.60" stroke="#1a1a1a" stroke-width="1.2" />
<line x1="389.60" y1="115.90" x2="389.60" y2="118.40" stroke="#1a1a1a" stroke-width="1.0" />
<text x="389.60" y="127.80" font-size="6.40" text-anchor="middle" fill="#111" font-weight="bold">8</text>
<line x1="399.32" y1="115.90" x2="399.32" y2="118.40" stroke="#1a1a1a" stroke-width="1.0" />
<text x="399.32" y="127.80" font-size="6.40" text-anchor="middle" fill="#111" font-weight="bold">14</text>
<line x1="409.04" y1="115.90" x2="409.04" y2="118.40" stroke="#1a1a1a" stroke-width="1.0" />
<text x="409.04" y="127.80" font-size="6.40" text-anchor="middle" fill="#111" font-weight="bold">20</text>
<polyline points="384.74,115.90 389.60,115.53 394.46,114.07 399.32,108.60 404.18,102.02 409.04,97.64 413.90,95.45" stroke="#ef8e2c" stroke-width="1.1" fill="none" stroke-linejoin="round" />
<polyline points="384.74,115.90 389.60,115.53 394.46,114.07 399.32,108.60 404.18,103.48 409.04,98.37 413.90,96.18" stroke="#ef8e2c" stroke-width="1.1" fill="none" stroke-linejoin="round" />
<polyline points="384.74,115.90 389.60,115.53 394.46,114.07 399.32,108.60 404.18,104.21 409.04,99.83 413.90,98.37" stroke="#ef8e2c" stroke-width="1.1" fill="none" stroke-linejoin="round" />
<polyline points="384.74,115.90 389.60,115.53 394.46,114.07 399.32,108.60 404.18,104.94 409.04,101.29 413.90,100.56" stroke="#ef8e2c" stroke-width="1.1" fill="none" stroke-linejoin="round" />
<polyline points="384.74,115.90 389.60,115.53 394.46,114.07 399.32,108.60 404.18,105.67 409.04,102.02 413.90,102.02" stroke="#ef8e2c" stroke-width="1.1" fill="none" stroke-linejoin="round" />
<line x1="424.60" y1="24.10" x2="424.60" y2="116.50" stroke="#1a1a1a" stroke-width="1.2" />
<line x1="424.00" y1="115.90" x2="459.60" y2="115.90" stroke="#1a1a1a" stroke-width="1.2" />
<line x1="421.60" y1="115.90" x2="424.60" y2="115.90" stroke="#1a1a1a" stroke-width="1.2" />
<line x1="421.60" y1="97.64" x2="424.60" y2="97.64" stroke="#1a1a1a" stroke-width="1.2" />
<line x1="421.60" y1="79.38" x2="424.60" y2="79.38" stroke="#1a1a1a" stroke-width="1.2" />
<line x1="421.60" y1="61.12" x2="424.60" y2="61.12" stroke="#1a1a1a" stroke-width="1.2" />
<line x1="421.60" y1="42.86" x2="424.60" y2="42.86" stroke="#1a1a1a" stroke-width="1.2" />
<line x1="421.60" y1="24.60" x2="424.60" y2="24.60" stroke="#1a1a1a" stroke-width="1.2" />
<line x1="432.00" y1="115.90" x2="432.00" y2="118.40" stroke="#1a1a1a" stroke-width="1.0" />
<text x="432.00" y="127.80" font-size="6.40" text-anchor="middle" fill="#111" font-weight="bold">8</text>
<line x1="441.72" y1="115.90" x2="441.72" y2="118.40" stroke="#1a1a1a" stroke-width="1.0" />
<text x="441.72" y="127.80" font-size="6.40" text-anchor="middle" fill="#111" font-weight="bold">14</text>
<line x1="451.44" y1="115.90" x2="451.44" y2="118.40" stroke="#1a1a1a" stroke-width="1.0" />
<text x="451.44" y="127.80" font-size="6.40" text-anchor="middle" fill="#111" font-weight="bold">20</text>
<polyline points="427.14,115.90 432.00,115.53 436.86,114.07 441.72,108.60 446.58,106.40 451.44,104.21 456.30,105.67" stroke="#b45ef0" stroke-width="1.1" fill="none" stroke-linejoin="round" />
<polyline points="427.14,115.90 432.00,115.53 436.86,114.07 441.72,108.60 446.58,107.14 451.44,106.04 456.30,106.77" stroke="#b45ef0" stroke-width="1.1" fill="none" stroke-linejoin="round" />
<polyline points="427.14,115.90 432.00,115.53 436.86,114.07 441.72,108.60 446.58,107.87 451.44,106.77 456.30,108.60" stroke="#b45ef0" stroke-width="1.1" fill="none" stroke-linejoin="round" />
<polyline points="427.14,115.90 432.00,115.53 436.86,114.07 441.72,108.60 446.58,108.23 451.44,107.87 456.30,109.33" stroke="#b45ef0" stroke-width="1.1" fill="none" stroke-linejoin="round" />
<polyline points="427.14,115.90 432.00,115.53 436.86,114.07 441.72,108.60 446.58,108.60 451.44,108.60 456.30,110.42" stroke="#b45ef0" stroke-width="1.1" fill="none" stroke-linejoin="round" />
<text transform="translate(185.20,69.90) rotate(-90)" x="0" y="2.52" font-size="7.00" text-anchor="middle" fill="#111" font-weight="bold" textLength="65.3" lengthAdjust="spacingAndGlyphs">Tumor Volume(mm<tspan baseline-shift="super" font-size="70%">3</tspan>)</text>
<text x="336.40" y="140.75" font-size="8.20" text-anchor="middle" fill="#111" font-weight="bold" textLength="142.7" lengthAdjust="spacingAndGlyphs">Time(Day after tumor inoculation)</text>
<line x1="510.20" y1="14.00" x2="510.20" y2="116.90" stroke="#1a1a1a" stroke-width="1.2" />
<line x1="509.60" y1="116.30" x2="663.20" y2="116.30" stroke="#1a1a1a" stroke-width="1.2" />
<line x1="506.70" y1="116.30" x2="510.20" y2="116.30" stroke="#1a1a1a" stroke-width="1.2" />
<text x="505.00" y="118.68" font-size="6.60" text-anchor="end" fill="#111" font-weight="bold" textLength="3.8" lengthAdjust="spacingAndGlyphs">0</text>
<line x1="506.70" y1="95.94" x2="510.20" y2="95.94" stroke="#1a1a1a" stroke-width="1.2" />
<text x="505.00" y="98.32" font-size="6.60" text-anchor="end" fill="#111" font-weight="bold" textLength="11.2" lengthAdjust="spacingAndGlyphs">500</text>
<line x1="506.70" y1="75.58" x2="510.20" y2="75.58" stroke="#1a1a1a" stroke-width="1.2" />
<text x="505.00" y="77.96" font-size="6.60" text-anchor="end" fill="#111" font-weight="bold" textLength="15.0" lengthAdjust="spacingAndGlyphs">1000</text>
<line x1="506.70" y1="55.22" x2="510.20" y2="55.22" stroke="#1a1a1a" stroke-width="1.2" />
<text x="505.00" y="57.60" font-size="6.60" text-anchor="end" fill="#111" font-weight="bold" textLength="15.0" lengthAdjust="spacingAndGlyphs">1500</text>
<line x1="506.70" y1="34.86" x2="510.20" y2="34.86" stroke="#1a1a1a" stroke-width="1.2" />
<text x="505.00" y="37.24" font-size="6.60" text-anchor="end" fill="#111" font-weight="bold" textLength="15.0" lengthAdjust="spacingAndGlyphs">2000</text>
<line x1="506.70" y1="14.50" x2="510.20" y2="14.50" stroke="#1a1a1a" stroke-width="1.2" />
<text x="505.00" y="16.88" font-size="6.60" text-anchor="end" fill="#111" font-weight="bold" textLength="15.0" lengthAdjust="spacingAndGlyphs">2500</text>
<line x1="527.00" y1="116.30" x2="527.00" y2="118.80" stroke="#1a1a1a" stroke-width="1.2" />
<text x="527.00" y="128.20" font-size="6.40" text-anchor="middle" fill="#111" font-weight="bold">5</text>
<line x1="547.10" y1="116.30" x2="547.10" y2="118.80" stroke="#1a1a1a" stroke-width="1.2" />
<text x="547.10" y="128.20" font-size="6.40" text-anchor="middle" fill="#111" font-weight="bold">8</text>
<line x1="567.20" y1="116.30" x2="567.20" y2="118.80" stroke="#1a1a1a" stroke-width="1.2" />
<text x="567.20" y="128.20" font-size="6.40" text-anchor="middle" fill="#111" font-weight="bold">11</text>
<line x1="587.30" y1="116.30" x2="587.30" y2="118.80" stroke="#1a1a1a" stroke-width="1.2" />
<text x="587.30" y="128.20" font-size="6.40" text-anchor="middle" fill="#111" font-weight="bold">14</text>
<line x1="607.40" y1="116.30" x2="607.40" y2="118.80" stroke="#1a1a1a" stroke-width="1.2" />
<text x="607.40" y="128.20" font-size="6.40" text-anchor="middle" fill="#111" font-weight="bold">17</text>
<line x1="627.50" y1="116.30" x2="627.50" y2="118.80" stroke="#1a1a1a" stroke-width="1.2" />
<text x="627.50" y="128.20" font-size="6.40" text-anchor="middle" fill="#111" font-weight="bold">20</text>
<line x1="647.60" y1="116.30" x2="647.60" y2="118.80" stroke="#1a1a1a" stroke-width="1.2" />
<text x="647.60" y="128.20" font-size="6.40" text-anchor="middle" fill="#111" font-weight="bold">23</text>
<line x1="607.40" y1="75.58" x2="607.40" y2="94.72" stroke="#5e9ef0" stroke-width="1.1" />
<line x1="605.40" y1="75.58" x2="609.40" y2="75.58" stroke="#5e9ef0" stroke-width="1.1" />
<line x1="605.40" y1="94.72" x2="609.40" y2="94.72" stroke="#5e9ef0" stroke-width="1.1" />
<line x1="627.50" y1="45.85" x2="627.50" y2="75.58" stroke="#5e9ef0" stroke-width="1.1" />
<line x1="625.50" y1="45.85" x2="629.50" y2="45.85" stroke="#5e9ef0" stroke-width="1.1" />
<line x1="625.50" y1="75.58" x2="629.50" y2="75.58" stroke="#5e9ef0" stroke-width="1.1" />
<line x1="647.60" y1="38.93" x2="647.60" y2="54.41" stroke="#5e9ef0" stroke-width="1.1" />
<line x1="645.60" y1="38.93" x2="649.60" y2="38.93" stroke="#5e9ef0" stroke-width="1.1" />
<line x1="645.60" y1="54.41" x2="649.60" y2="54.41" stroke="#5e9ef0" stroke-width="1.1" />
<polyline points="527.00,116.30 547.10,115.49 567.20,113.86 587.30,107.34 607.40,85.35 627.50,60.51 647.60,45.45" stroke="#5e9ef0" stroke-width="1.3" fill="none" stroke-linejoin="round" />
<circle cx="527.00" cy="116.30" r="1.90" fill="#5e9ef0" />
<circle cx="547.10" cy="115.49" r="1.90" fill="#5e9ef0" />
<circle cx="567.20" cy="113.86" r="1.90" fill="#5e9ef0" />
<circle cx="587.30" cy="107.34" r="1.90" fill="#5e9ef0" />
<circle cx="607.40" cy="85.35" r="1.90" fill="#5e9ef0" />
<circle cx="627.50" cy="60.51" r="1.90" fill="#5e9ef0" />
<circle cx="647.60" cy="45.45" r="1.90" fill="#5e9ef0" />
<line x1="627.50" y1="103.27" x2="627.50" y2="109.38" stroke="#b45ef0" stroke-width="1.1" />
<line x1="625.50" y1="103.27" x2="629.50" y2="103.27" stroke="#b45ef0" stroke-width="1.1" />
<line x1="625.50" y1="109.38" x2="629.50" y2="109.38" stroke="#b45ef0" stroke-width="1.1" />
<polyline points="527.00,116.30 547.10,115.69 567.20,114.26 587.30,107.34 607.40,107.06 627.50,106.28 647.60,107.38" stroke="#b45ef0" stroke-width="1.3" fill="none" stroke-linejoin="round" />
<rect x="525.20" y="114.50" width="3.60" height="3.60" fill="#b45ef0" />
<rect x="545.30" y="113.89" width="3.60" height="3.60" fill="#b45ef0" />
<rect x="565.40" y="112.46" width="3.60" height="3.60" fill="#b45ef0" />
<rect x="585.50" y="105.54" width="3.60" height="3.60" fill="#b45ef0" />
<rect x="605.60" y="105.26" width="3.60" height="3.60" fill="#b45ef0" />
<rect x="625.70" y="104.48" width="3.60" height="3.60" fill="#b45ef0" />
<rect x="645.80" y="105.58" width="3.60" height="3.60" fill="#b45ef0" />
<line x1="627.50" y1="93.90" x2="627.50" y2="100.83" stroke="#ef8e2c" stroke-width="1.1" />
<line x1="625.50" y1="93.90" x2="629.50" y2="93.90" stroke="#ef8e2c" stroke-width="1.1" />
<line x1="625.50" y1="100.83" x2="629.50" y2="100.83" stroke="#ef8e2c" stroke-width="1.1" />
<line x1="647.60" y1="93.50" x2="647.60" y2="100.83" stroke="#ef8e2c" stroke-width="1.1" />
<line x1="645.60" y1="93.50" x2="649.60" y2="93.50" stroke="#ef8e2c" stroke-width="1.1" />
<line x1="645.60" y1="100.83" x2="649.60" y2="100.83" stroke="#ef8e2c" stroke-width="1.1" />
<polyline points="527.00,116.30 547.10,115.69 567.20,114.26 587.30,107.34 607.40,102.86 627.50,97.24 647.60,97.04" stroke="#ef8e2c" stroke-width="1.3" fill="none" stroke-linejoin="round" />
<rect x="525.40" y="114.70" width="3.20" height="3.20" fill="#ef8e2c" />
<rect x="545.50" y="114.09" width="3.20" height="3.20" fill="#ef8e2c" />
<rect x="565.60" y="112.66" width="3.20" height="3.20" fill="#ef8e2c" />
<rect x="585.70" y="105.74" width="3.20" height="3.20" fill="#ef8e2c" />
<rect x="605.80" y="101.26" width="3.20" height="3.20" fill="#ef8e2c" />
<rect x="625.90" y="95.64" width="3.20" height="3.20" fill="#ef8e2c" />
<rect x="646.00" y="95.44" width="3.20" height="3.20" fill="#ef8e2c" />
<line x1="627.50" y1="88.61" x2="627.50" y2="97.98" stroke="#e6343c" stroke-width="1.1" />
<line x1="625.50" y1="88.61" x2="629.50" y2="88.61" stroke="#e6343c" stroke-width="1.1" />
<line x1="625.50" y1="97.98" x2="629.50" y2="97.98" stroke="#e6343c" stroke-width="1.1" />
<line x1="647.60" y1="85.35" x2="647.60" y2="98.38" stroke="#e6343c" stroke-width="1.1" />
<line x1="645.60" y1="85.35" x2="649.60" y2="85.35" stroke="#e6343c" stroke-width="1.1" />
<line x1="645.60" y1="98.38" x2="649.60" y2="98.38" stroke="#e6343c" stroke-width="1.1" />
<polyline points="527.00,116.30 547.10,115.69 567.20,114.26 587.30,107.34 607.40,102.78 627.50,93.17 647.60,92.28" stroke="#e6343c" stroke-width="1.3" fill="none" stroke-linejoin="round" />
<rect x="525.40" y="114.70" width="3.20" height="3.20" fill="#e6343c" />
<rect x="545.50" y="114.09" width="3.20" height="3.20" fill="#e6343c" />
<rect x="565.60" y="112.66" width="3.20" height="3.20" fill="#e6343c" />
<rect x="585.70" y="105.74" width="3.20" height="3.20" fill="#e6343c" />
<rect x="605.80" y="101.18" width="3.20" height="3.20" fill="#e6343c" />
<rect x="625.90" y="91.57" width="3.20" height="3.20" fill="#e6343c" />
<rect x="646.00" y="90.68" width="3.20" height="3.20" fill="#e6343c" />
<line x1="607.40" y1="95.13" x2="607.40" y2="100.83" stroke="#3fca72" stroke-width="1.1" />
<line x1="605.40" y1="95.13" x2="609.40" y2="95.13" stroke="#3fca72" stroke-width="1.1" />
<line x1="605.40" y1="100.83" x2="609.40" y2="100.83" stroke="#3fca72" stroke-width="1.1" />
<line x1="627.50" y1="78.43" x2="627.50" y2="93.50" stroke="#3fca72" stroke-width="1.1" />
<line x1="625.50" y1="78.43" x2="629.50" y2="78.43" stroke="#3fca72" stroke-width="1.1" />
<line x1="625.50" y1="93.50" x2="629.50" y2="93.50" stroke="#3fca72" stroke-width="1.1" />
<line x1="647.60" y1="81.69" x2="647.60" y2="93.50" stroke="#3fca72" stroke-width="1.1" />
<line x1="645.60" y1="81.69" x2="649.60" y2="81.69" stroke="#3fca72" stroke-width="1.1" />
<line x1="645.60" y1="93.50" x2="649.60" y2="93.50" stroke="#3fca72" stroke-width="1.1" />
<polyline points="527.00,116.30 547.10,115.69 567.20,114.26 587.30,107.34 607.40,97.77 627.50,86.82 647.60,87.39" stroke="#3fca72" stroke-width="1.3" fill="none" stroke-linejoin="round" />
<circle cx="527.00" cy="116.30" r="1.90" fill="#3fca72" />
<circle cx="547.10" cy="115.69" r="1.90" fill="#3fca72" />
<circle cx="567.20" cy="114.26" r="1.90" fill="#3fca72" />
<circle cx="587.30" cy="107.34" r="1.90" fill="#3fca72" />
<circle cx="607.40" cy="97.77" r="1.90" fill="#3fca72" />
<circle cx="627.50" cy="86.82" r="1.90" fill="#3fca72" />
<circle cx="647.60" cy="87.39" r="1.90" fill="#3fca72" />
<line x1="607.40" y1="80.47" x2="607.40" y2="91.05" stroke="#1a1a1a" stroke-width="1.1" />
<line x1="605.40" y1="80.47" x2="609.40" y2="80.47" stroke="#1a1a1a" stroke-width="1.1" />
<line x1="605.40" y1="91.05" x2="609.40" y2="91.05" stroke="#1a1a1a" stroke-width="1.1" />
<line x1="627.50" y1="54.00" x2="627.50" y2="67.44" stroke="#1a1a1a" stroke-width="1.1" />
<line x1="625.50" y1="54.00" x2="629.50" y2="54.00" stroke="#1a1a1a" stroke-width="1.1" />
<line x1="625.50" y1="67.44" x2="629.50" y2="67.44" stroke="#1a1a1a" stroke-width="1.1" />
<line x1="647.60" y1="34.05" x2="647.60" y2="52.37" stroke="#1a1a1a" stroke-width="1.1" />
<line x1="645.60" y1="34.05" x2="649.60" y2="34.05" stroke="#1a1a1a" stroke-width="1.1" />
<line x1="645.60" y1="52.37" x2="649.60" y2="52.37" stroke="#1a1a1a" stroke-width="1.1" />
<polyline points="527.00,116.30 547.10,115.49 567.20,113.86 587.30,107.34 607.40,85.76 627.50,60.43 647.60,42.80" stroke="#1a1a1a" stroke-width="1.3" fill="none" stroke-linejoin="round" />
<circle cx="527.00" cy="116.30" r="1.90" fill="#1a1a1a" />
<circle cx="547.10" cy="115.49" r="1.90" fill="#1a1a1a" />
<circle cx="567.20" cy="113.86" r="1.90" fill="#1a1a1a" />
<circle cx="587.30" cy="107.34" r="1.90" fill="#1a1a1a" />
<circle cx="607.40" cy="85.76" r="1.90" fill="#1a1a1a" />
<circle cx="627.50" cy="60.43" r="1.90" fill="#1a1a1a" />
<circle cx="647.60" cy="42.80" r="1.90" fill="#1a1a1a" />
<line x1="520.60" y1="15.70" x2="531.00" y2="15.70" stroke="#1a1a1a" stroke-width="1.2" />
<circle cx="525.80" cy="15.70" r="1.60" fill="#1a1a1a" />
<text x="537.70" y="17.93" font-size="6.20" text-anchor="start" fill="#111" font-weight="bold">NC</text>
<line x1="520.60" y1="24.56" x2="531.00" y2="24.56" stroke="#5e9ef0" stroke-width="1.2" />
<circle cx="525.80" cy="24.56" r="1.60" fill="#5e9ef0" />
<text x="537.70" y="26.79" font-size="6.20" text-anchor="start" fill="#111" font-weight="bold">Laser</text>
<line x1="520.60" y1="33.42" x2="531.00" y2="33.42" stroke="#3fca72" stroke-width="1.2" />
<circle cx="525.80" cy="33.42" r="1.60" fill="#3fca72" />
<text x="537.70" y="35.65" font-size="6.20" text-anchor="start" fill="#111" font-weight="bold">NPs</text>
<line x1="520.60" y1="42.28" x2="531.00" y2="42.28" stroke="#e6343c" stroke-width="1.2" />
<circle cx="525.80" cy="42.28" r="1.60" fill="#e6343c" />
<text x="537.70" y="44.51" font-size="6.20" text-anchor="start" fill="#111" font-weight="bold">NPs+Laser</text>
<line x1="520.60" y1="51.14" x2="531.00" y2="51.14" stroke="#ef8e2c" stroke-width="1.2" />
<circle cx="525.80" cy="51.14" r="1.60" fill="#ef8e2c" />
<text x="537.70" y="53.37" font-size="6.20" text-anchor="start" fill="#111" font-weight="bold">NPs-AS1411</text>
<line x1="520.60" y1="60.00" x2="531.00" y2="60.00" stroke="#b45ef0" stroke-width="1.2" />
<circle cx="525.80" cy="60.00" r="1.60" fill="#b45ef0" />
<text x="537.70" y="62.23" font-size="6.20" text-anchor="start" fill="#111" font-weight="bold">NPs-AS1411+Laser</text>
<polyline points="654.00,42.20 656.50,42.20 656.50,108.10 654.00,108.10" stroke="#1a1a1a" stroke-width="1.0" fill="none" stroke-linejoin="round" />
<text transform="translate(662.60,74.50) rotate(90)" x="0" y="2.30" font-size="6.40" text-anchor="middle" fill="#333" textLength="28.5" lengthAdjust="spacingAndGlyphs">p&lt;0.0001</text>
<text transform="translate(482.60,65.00) rotate(-90)" x="0" y="2.66" font-size="7.40" text-anchor="middle" fill="#111" font-weight="bold" textLength="74.7" lengthAdjust="spacingAndGlyphs">Tumor Volume(mm<tspan baseline-shift="super" font-size="70%">3</tspan>)</text>
<text x="586.60" y="139.94" font-size="7.60" text-anchor="middle" fill="#111" font-weight="bold" textLength="123.7" lengthAdjust="spacingAndGlyphs">Time(Day after tumor inoculation)</text>
<text x="11.90" y="49.13" font-size="6.20" text-anchor="start" fill="#111" textLength="48.5" lengthAdjust="spacingAndGlyphs">CT26 + BALB/3T3</text>
<g transform="translate(16.20,50.60) rotate(78)"><rect x="0" y="-0.9" width="7" height="1.8" fill="#6a2a8a"/><line x1="7" y1="0" x2="10" y2="0" stroke="#555" stroke-width="0.4"/><line x1="-1.5" y1="0" x2="0" y2="0" stroke="#333" stroke-width="0.8"/><rect x="-2" y="-1.4" width="0.6" height="2.8" fill="#333"/></g>
<g transform="translate(23.00,65.00) scale(1.04)"><path d="M0.5,0 C-2.5,-1.5 -5,-5 -8,-5.4 C-9.5,-5.6 -10.5,-5.2 -11,-4.8" stroke="#d98a9a" stroke-width="0.55" fill="none"/><path d="M0,0 C1,-3 4,-4.6 7,-4.6 C11,-4.6 14,-4 17,-4 C18,-4.6 19.5,-4.8 20.2,-4 C22,-3 24,-1.2 24.5,1.2 C22,2.6 18,3.2 14,3.6 C10,4 5,4.2 2,2.9 C0.6,2 0,1 0,0 Z" fill="#f7f4f4" stroke="#e3cdcd" stroke-width="0.45"/><path d="M3,1.5 C6,3 11,3.2 15,2.6" stroke="#e6dede" stroke-width="1.2" fill="none" opacity="0.8"/><ellipse cx="18.8" cy="-4.2" rx="1.3" ry="1.1" fill="#f3e6e6" stroke="#dcc4c4" stroke-width="0.3"/><circle cx="21.6" cy="-1.3" r="0.45" fill="#c04048"/><circle cx="19.5" cy="-1.0" r="0.35" fill="#d07070"/><path d="M5,3.6 l-0.6,1 M12,3.8 l-0.3,1 M20,2.6 l0.4,1" stroke="#e0a0a8" stroke-width="0.45"/><circle cx="7.7" cy="-3.2" r="1.4" fill="#f07a70" opacity="0.85"/></g>
<line x1="51.70" y1="64.40" x2="87.40" y2="64.40" stroke="#222" stroke-width="0.9" />
<text x="72.70" y="62.16" font-size="6.00" text-anchor="middle" fill="#111" font-style="italic">In vivo</text>
<text x="71.20" y="72.56" font-size="6.00" text-anchor="middle" fill="#111" textLength="31.0" lengthAdjust="spacingAndGlyphs">i.v. injection</text>
<line x1="87.40" y1="20.00" x2="87.40" y2="116.30" stroke="#222" stroke-width="0.9" />
<line x1="87.40" y1="20.30" x2="104.50" y2="20.30" stroke="#222" stroke-width="0.9" />
<path d="M103.5,18.70 L106.5,20.30 L103.5,21.90 Z" fill="#222"/>
<line x1="87.40" y1="39.10" x2="104.50" y2="39.10" stroke="#222" stroke-width="0.9" />
<path d="M103.5,37.50 L106.5,39.10 L103.5,40.70 Z" fill="#222"/>
<line x1="87.40" y1="58.60" x2="104.50" y2="58.60" stroke="#222" stroke-width="0.9" />
<path d="M103.5,57.00 L106.5,58.60 L103.5,60.20 Z" fill="#222"/>
<line x1="87.40" y1="78.20" x2="104.50" y2="78.20" stroke="#222" stroke-width="0.9" />
<path d="M103.5,76.60 L106.5,78.20 L103.5,79.80 Z" fill="#222"/>
<line x1="87.40" y1="97.20" x2="104.50" y2="97.20" stroke="#222" stroke-width="0.9" />
<path d="M103.5,95.60 L106.5,97.20 L103.5,98.80 Z" fill="#222"/>
<line x1="87.40" y1="116.20" x2="104.50" y2="116.20" stroke="#222" stroke-width="0.9" />
<path d="M103.5,114.60 L106.5,116.20 L103.5,117.80 Z" fill="#222"/>
<g transform="translate(118.20,19.00) scale(1.0)"><path d="M0.5,0 C-2.5,-1.5 -5,-5 -8,-5.4 C-9.5,-5.6 -10.5,-5.2 -11,-4.8" stroke="#d98a9a" stroke-width="0.55" fill="none"/><path d="M0,0 C1,-3 4,-4.6 7,-4.6 C11,-4.6 14,-4 17,-4 C18,-4.6 19.5,-4.8 20.2,-4 C22,-3 24,-1.2 24.5,1.2 C22,2.6 18,3.2 14,3.6 C10,4 5,4.2 2,2.9 C0.6,2 0,1 0,0 Z" fill="#f7f4f4" stroke="#e3cdcd" stroke-width="0.45"/><path d="M3,1.5 C6,3 11,3.2 15,2.6" stroke="#e6dede" stroke-width="1.2" fill="none" opacity="0.8"/><ellipse cx="18.8" cy="-4.2" rx="1.3" ry="1.1" fill="#f3e6e6" stroke="#dcc4c4" stroke-width="0.3"/><circle cx="21.6" cy="-1.3" r="0.45" fill="#c04048"/><circle cx="19.5" cy="-1.0" r="0.35" fill="#d07070"/><path d="M5,3.6 l-0.6,1 M12,3.8 l-0.3,1 M20,2.6 l0.4,1" stroke="#e0a0a8" stroke-width="0.45"/><circle cx="7.7" cy="-3.2" r="1.4" fill="#f07a70" opacity="0.85"/></g>
<g transform="translate(118.20,38.60) scale(1.0)"><path d="M0.5,0 C-2.5,-1.5 -5,-5 -8,-5.4 C-9.5,-5.6 -10.5,-5.2 -11,-4.8" stroke="#d98a9a" stroke-width="0.55" fill="none"/><path d="M0,0 C1,-3 4,-4.6 7,-4.6 C11,-4.6 14,-4 17,-4 C18,-4.6 19.5,-4.8 20.2,-4 C22,-3 24,-1.2 24.5,1.2 C22,2.6 18,3.2 14,3.6 C10,4 5,4.2 2,2.9 C0.6,2 0,1 0,0 Z" fill="#f7f4f4" stroke="#e3cdcd" stroke-width="0.45"/><path d="M3,1.5 C6,3 11,3.2 15,2.6" stroke="#e6dede" stroke-width="1.2" fill="none" opacity="0.8"/><ellipse cx="18.8" cy="-4.2" rx="1.3" ry="1.1" fill="#f3e6e6" stroke="#dcc4c4" stroke-width="0.3"/><circle cx="21.6" cy="-1.3" r="0.45" fill="#c04048"/><circle cx="19.5" cy="-1.0" r="0.35" fill="#d07070"/><path d="M5,3.6 l-0.6,1 M12,3.8 l-0.3,1 M20,2.6 l0.4,1" stroke="#e0a0a8" stroke-width="0.45"/><ellipse cx="6.2" cy="-3.4" rx="3.2" ry="7.4" transform="rotate(-42 6.2 -3.4)" fill="url(#glow)"/></g>
<g transform="translate(118.20,57.80) scale(1.0)"><path d="M0.5,0 C-2.5,-1.5 -5,-5 -8,-5.4 C-9.5,-5.6 -10.5,-5.2 -11,-4.8" stroke="#d98a9a" stroke-width="0.55" fill="none"/><path d="M0,0 C1,-3 4,-4.6 7,-4.6 C11,-4.6 14,-4 17,-4 C18,-4.6 19.5,-4.8 20.2,-4 C22,-3 24,-1.2 24.5,1.2 C22,2.6 18,3.2 14,3.6 C10,4 5,4.2 2,2.9 C0.6,2 0,1 0,0 Z" fill="#f7f4f4" stroke="#e3cdcd" stroke-width="0.45"/><path d="M3,1.5 C6,3 11,3.2 15,2.6" stroke="#e6dede" stroke-width="1.2" fill="none" opacity="0.8"/><ellipse cx="18.8" cy="-4.2" rx="1.3" ry="1.1" fill="#f3e6e6" stroke="#dcc4c4" stroke-width="0.3"/><circle cx="21.6" cy="-1.3" r="0.45" fill="#c04048"/><circle cx="19.5" cy="-1.0" r="0.35" fill="#d07070"/><path d="M5,3.6 l-0.6,1 M12,3.8 l-0.3,1 M20,2.6 l0.4,1" stroke="#e0a0a8" stroke-width="0.45"/><circle cx="7.7" cy="-3.2" r="1.4" fill="#f07a70" opacity="0.85"/></g>
<g transform="translate(118.20,77.60) scale(1.0)"><path d="M0.5,0 C-2.5,-1.5 -5,-5 -8,-5.4 C-9.5,-5.6 -10.5,-5.2 -11,-4.8" stroke="#d98a9a" stroke-width="0.55" fill="none"/><path d="M0,0 C1,-3 4,-4.6 7,-4.6 C11,-4.6 14,-4 17,-4 C18,-4.6 19.5,-4.8 20.2,-4 C22,-3 24,-1.2 24.5,1.2 C22,2.6 18,3.2 14,3.6 C10,4 5,4.2 2,2.9 C0.6,2 0,1 0,0 Z" fill="#f7f4f4" stroke="#e3cdcd" stroke-width="0.45"/><path d="M3,1.5 C6,3 11,3.2 15,2.6" stroke="#e6dede" stroke-width="1.2" fill="none" opacity="0.8"/><ellipse cx="18.8" cy="-4.2" rx="1.3" ry="1.1" fill="#f3e6e6" stroke="#dcc4c4" stroke-width="0.3"/><circle cx="21.6" cy="-1.3" r="0.45" fill="#c04048"/><circle cx="19.5" cy="-1.0" r="0.35" fill="#d07070"/><path d="M5,3.6 l-0.6,1 M12,3.8 l-0.3,1 M20,2.6 l0.4,1" stroke="#e0a0a8" stroke-width="0.45"/><ellipse cx="6.2" cy="-3.4" rx="3.2" ry="7.4" transform="rotate(-42 6.2 -3.4)" fill="url(#glow)"/></g>
<g transform="translate(118.20,96.40) scale(1.0)"><path d="M0.5,0 C-2.5,-1.5 -5,-5 -8,-5.4 C-9.5,-5.6 -10.5,-5.2 -11,-4.8" stroke="#d98a9a" stroke-width="0.55" fill="none"/><path d="M0,0 C1,-3 4,-4.6 7,-4.6 C11,-4.6 14,-4 17,-4 C18,-4.6 19.5,-4.8 20.2,-4 C22,-3 24,-1.2 24.5,1.2 C22,2.6 18,3.2 14,3.6 C10,4 5,4.2 2,2.9 C0.6,2 0,1 0,0 Z" fill="#f7f4f4" stroke="#e3cdcd" stroke-width="0.45"/><path d="M3,1.5 C6,3 11,3.2 15,2.6" stroke="#e6dede" stroke-width="1.2" fill="none" opacity="0.8"/><ellipse cx="18.8" cy="-4.2" rx="1.3" ry="1.1" fill="#f3e6e6" stroke="#dcc4c4" stroke-width="0.3"/><circle cx="21.6" cy="-1.3" r="0.45" fill="#c04048"/><circle cx="19.5" cy="-1.0" r="0.35" fill="#d07070"/><path d="M5,3.6 l-0.6,1 M12,3.8 l-0.3,1 M20,2.6 l0.4,1" stroke="#e0a0a8" stroke-width="0.45"/><circle cx="7.7" cy="-3.2" r="1.4" fill="#f07a70" opacity="0.85"/></g>
<g transform="translate(119.00,121.20) scale(1.05)"><path d="M0.5,0 C-2.5,-1.5 -5,-5 -8,-5.4 C-9.5,-5.6 -10.5,-5.2 -11,-4.8" stroke="#d98a9a" stroke-width="0.55" fill="none"/><path d="M0,0 C1,-3 4,-4.6 7,-4.6 C11,-4.6 14,-4 17,-4 C18,-4.6 19.5,-4.8 20.2,-4 C22,-3 24,-1.2 24.5,1.2 C22,2.6 18,3.2 14,3.6 C10,4 5,4.2 2,2.9 C0.6,2 0,1 0,0 Z" fill="#f7f4f4" stroke="#e3cdcd" stroke-width="0.45"/><path d="M3,1.5 C6,3 11,3.2 15,2.6" stroke="#e6dede" stroke-width="1.2" fill="none" opacity="0.8"/><ellipse cx="18.8" cy="-4.2" rx="1.3" ry="1.1" fill="#f3e6e6" stroke="#dcc4c4" stroke-width="0.3"/><circle cx="21.6" cy="-1.3" r="0.45" fill="#c04048"/><circle cx="19.5" cy="-1.0" r="0.35" fill="#d07070"/><path d="M5,3.6 l-0.6,1 M12,3.8 l-0.3,1 M20,2.6 l0.4,1" stroke="#e0a0a8" stroke-width="0.45"/><ellipse cx="6.2" cy="-3.4" rx="3.2" ry="7.4" transform="rotate(-42 6.2 -3.4)" fill="url(#glow)"/></g>
<text x="130.00" y="31.46" font-size="6.00" text-anchor="middle" fill="#111">NC</text>
<text x="132.80" y="50.66" font-size="6.00" text-anchor="middle" fill="#111" textLength="15.0" lengthAdjust="spacingAndGlyphs">Laser</text>
<text x="131.50" y="69.36" font-size="6.00" text-anchor="middle" fill="#111">NPs</text>
<text x="135.60" y="89.86" font-size="6.00" text-anchor="middle" fill="#111" textLength="29.0" lengthAdjust="spacingAndGlyphs">NPs+Laser</text>
<text x="134.20" y="108.86" font-size="6.00" text-anchor="middle" fill="#111" textLength="34.5" lengthAdjust="spacingAndGlyphs">NPs-AS1411</text>
<text x="137.40" y="135.16" font-size="6.00" text-anchor="middle" fill="#111" textLength="53.3" lengthAdjust="spacingAndGlyphs">NPs-AS1411+Laser</text>
<circle cx="99.70" cy="46.70" r="3.00" fill="#f0cf5c" />
<path d="M97.90,47.30 Q99.70,44.30 101.50,47.30 Z" fill="#8a5a2a"/>
<path d="M102.90,47.20 q1.5,1.5 3,0 q1.5,-1.5 3,0" stroke="#333" stroke-width="0.5" fill="none"/>
<g transform="translate(112.50,45.50) rotate(80)"><rect x="0" y="-0.9" width="7" height="1.8" fill="#6a2a8a"/><line x1="7" y1="0" x2="10" y2="0" stroke="#555" stroke-width="0.4"/><line x1="-1.5" y1="0" x2="0" y2="0" stroke="#333" stroke-width="0.8"/><rect x="-2" y="-1.4" width="0.6" height="2.8" fill="#333"/></g>
<circle cx="99.70" cy="64.20" r="3.00" fill="#f0cf5c" />
<path d="M97.90,64.80 Q99.70,61.80 101.50,64.80 Z" fill="#8a5a2a"/>
<path d="M102.90,64.70 q1.5,1.5 3,0 q1.5,-1.5 3,0" stroke="#333" stroke-width="0.5" fill="none"/>
<g transform="translate(113.00,63.50) rotate(80)"><rect x="0" y="-0.9" width="7" height="1.8" fill="#6a2a8a"/><line x1="7" y1="0" x2="10" y2="0" stroke="#555" stroke-width="0.4"/><line x1="-1.5" y1="0" x2="0" y2="0" stroke="#333" stroke-width="0.8"/><rect x="-2" y="-1.4" width="0.6" height="2.8" fill="#333"/></g>
<path d="M102.60,84.80 L104.60,84.80 M102.12,86.60 L103.85,87.60 M100.80,87.92 L101.80,89.65 M99.00,88.40 L99.00,90.40 M97.20,87.92 L96.20,89.65 M95.88,86.60 L94.15,87.60 M95.40,84.80 L93.40,84.80 M95.88,83.00 L94.15,82.00 M97.20,81.68 L96.20,79.95 M99.00,81.20 L99.00,79.20 M100.80,81.68 L101.80,79.95 M102.12,83.00 L103.85,82.00 " stroke="#f3dc7a" stroke-width="0.6"/>
<circle cx="99.00" cy="84.80" r="3.00" fill="#f0cf5c" />
<path d="M97.20,85.40 Q99.00,82.40 100.80,85.40 Z" fill="#8a5a2a"/>
<path d="M102.20,85.30 q1.5,1.5 3,0 q1.5,-1.5 3,0" stroke="#333" stroke-width="0.5" fill="none"/>
<g transform="translate(113.50,83.50) rotate(80)"><rect x="0" y="-0.9" width="7" height="1.8" fill="#7a2a6a"/><line x1="7" y1="0" x2="10" y2="0" stroke="#555" stroke-width="0.4"/><line x1="-1.5" y1="0" x2="0" y2="0" stroke="#333" stroke-width="0.8"/><rect x="-2" y="-1.4" width="0.6" height="2.8" fill="#333"/></g>
<path d="M104.00,106.40 L106.00,106.40 M103.52,108.20 L105.25,109.20 M102.20,109.52 L103.20,111.25 M100.40,110.00 L100.40,112.00 M98.60,109.52 L97.60,111.25 M97.28,108.20 L95.55,109.20 M96.80,106.40 L94.80,106.40 M97.28,104.60 L95.55,103.60 M98.60,103.28 L97.60,101.55 M100.40,102.80 L100.40,100.80 M102.20,103.28 L103.20,101.55 M103.52,104.60 L105.25,103.60 " stroke="#f3dc7a" stroke-width="0.6"/>
<circle cx="100.40" cy="106.40" r="3.00" fill="#f0cf5c" />
<path d="M98.60,107.00 Q100.40,104.00 102.20,107.00 Z" fill="#8a5a2a"/>
<path d="M103.60,106.90 q1.5,1.5 3,0 q1.5,-1.5 3,0" stroke="#333" stroke-width="0.5" fill="none"/>
<g transform="translate(114.00,106.00) rotate(80)"><rect x="0" y="-0.9" width="7" height="1.8" fill="#3a6aa0"/><line x1="7" y1="0" x2="10" y2="0" stroke="#555" stroke-width="0.4"/><line x1="-1.5" y1="0" x2="0" y2="0" stroke="#333" stroke-width="0.8"/><rect x="-2" y="-1.4" width="0.6" height="2.8" fill="#333"/></g>
<text x="332.50" y="169.70" font-size="8.60" text-anchor="middle" fill="#222" textLength="25.0" lengthAdjust="spacingAndGlyphs">Tumor</text>
<text x="432.50" y="169.90" font-size="8.60" text-anchor="middle" fill="#222" textLength="25.0" lengthAdjust="spacingAndGlyphs">Tumor</text>
<path d="M282.8,203.4 L282.8,203.4 L283.8,203.4 L284.9,203.4 L285.9,203.4 L287.0,203.4 L288.0,203.4 L289.0,203.4 L290.1,203.4 L291.1,203.4 L292.2,203.4 L293.2,203.4 L294.3,203.2 L295.3,202.4 L296.3,199.3 L297.4,192.2 L298.4,183.6 L299.5,180.5 L300.5,186.0 L301.5,194.7 L302.6,200.4 L303.6,202.6 L304.7,203.0 L305.7,202.9 L306.7,202.7 L307.8,202.4 L308.8,202.1 L309.9,201.7 L310.9,201.3 L312.0,200.7 L313.0,200.1 L314.0,199.5 L315.1,198.8 L316.1,198.1 L317.2,197.5 L318.2,196.9 L319.2,196.4 L320.3,196.1 L321.3,195.9 L322.4,195.8 L323.4,195.9 L324.4,196.1 L325.5,196.5 L326.5,196.9 L327.6,197.4 L328.6,197.9 L329.6,198.3 L330.7,198.7 L331.7,199.1 L332.8,199.4 L333.8,199.6 L334.9,199.8 L335.9,200.0 L336.9,200.2 L338.0,200.3 L339.0,200.5 L340.1,200.8 L341.1,201.0 L342.1,201.3 L343.2,201.6 L344.2,201.9 L345.3,202.2 L346.3,202.4 L347.3,202.6 L348.4,202.8 L349.4,203.0 L350.5,203.1 L351.5,203.2 L352.6,203.3 L353.6,203.3 L354.6,203.3 L355.7,203.4 L356.7,203.4 L357.8,203.4 L358.8,203.4 L359.8,203.4 L360.9,203.4 L361.9,203.4 L363.0,203.4 L364.0,203.4 L365.0,203.4 L366.1,203.4 L367.1,203.4 L368.2,203.4 L369.2,203.4 L370.3,203.4 L371.3,203.4 L372.3,203.4 L373.4,203.4 L374.4,203.4 L375.5,203.4 L376.5,203.4 L376.5,203.4 Z" fill="#e2e2e2" stroke="#a8a8a8" stroke-width="0.6" stroke-opacity="0.85"/>
<path d="M380.5,203.4 L380.5,203.4 L381.6,203.4 L382.7,203.4 L383.7,203.4 L384.8,203.4 L385.9,203.4 L387.0,203.4 L388.0,203.4 L389.1,203.4 L390.2,203.4 L391.3,203.4 L392.4,203.4 L393.4,203.4 L394.5,203.4 L395.6,203.4 L396.7,203.4 L397.7,203.3 L398.8,202.9 L399.9,201.2 L401.0,196.5 L402.1,188.4 L403.1,181.5 L404.2,181.7 L405.3,188.5 L406.4,195.6 L407.4,199.2 L408.5,200.3 L409.6,200.4 L410.7,200.4 L411.8,200.7 L412.8,201.1 L413.9,201.5 L415.0,202.0 L416.1,202.5 L417.1,202.8 L418.2,203.0 L419.3,203.2 L420.4,203.3 L421.5,203.4 L422.5,203.4 L423.6,203.4 L424.7,203.4 L425.8,203.4 L426.8,203.4 L427.9,203.4 L429.0,203.4 L430.1,203.4 L431.2,203.4 L432.2,203.4 L433.3,203.4 L434.4,203.4 L435.5,203.4 L436.5,203.4 L437.6,203.4 L438.7,203.4 L439.8,203.4 L440.9,203.4 L441.9,203.4 L443.0,203.4 L444.1,203.4 L445.2,203.4 L446.2,203.4 L447.3,203.4 L448.4,203.4 L449.5,203.4 L450.6,203.4 L451.6,203.4 L452.7,203.4 L453.8,203.4 L454.9,203.4 L455.9,203.4 L457.0,203.4 L458.1,203.4 L459.2,203.4 L460.3,203.4 L461.3,203.4 L462.4,203.4 L463.5,203.4 L464.6,203.4 L465.6,203.4 L466.7,203.4 L467.8,203.4 L468.9,203.4 L470.0,203.4 L471.0,203.4 L472.1,203.4 L473.2,203.4 L474.3,203.4 L475.3,203.4 L476.4,203.4 L477.5,203.4 L477.5,203.4 Z" fill="#e2e2e2" stroke="#a8a8a8" stroke-width="0.6" stroke-opacity="0.85"/>
<path d="M282.8,217.0 L282.8,217.0 L283.8,217.0 L284.9,217.0 L285.9,217.0 L287.0,217.0 L288.0,217.0 L289.0,217.0 L290.1,217.0 L291.1,217.0 L292.2,217.0 L293.2,216.8 L294.3,215.9 L295.3,213.1 L296.3,207.5 L297.4,200.3 L298.4,196.1 L299.5,198.2 L300.5,204.9 L301.5,211.4 L302.6,215.1 L303.6,216.5 L304.7,216.8 L305.7,216.7 L306.7,216.6 L307.8,216.4 L308.8,216.1 L309.9,215.7 L310.9,215.3 L312.0,214.8 L313.0,214.1 L314.0,213.4 L315.1,212.7 L316.1,212.0 L317.2,211.3 L318.2,210.7 L319.2,210.3 L320.3,210.0 L321.3,210.0 L322.4,210.2 L323.4,210.5 L324.4,211.0 L325.5,211.6 L326.5,212.3 L327.6,213.0 L328.6,213.7 L329.6,214.3 L330.7,214.8 L331.7,215.2 L332.8,215.5 L333.8,215.7 L334.9,215.8 L335.9,215.9 L336.9,215.9 L338.0,215.9 L339.0,215.8 L340.1,215.7 L341.1,215.6 L342.1,215.6 L343.2,215.5 L344.2,215.5 L345.3,215.5 L346.3,215.5 L347.3,215.6 L348.4,215.6 L349.4,215.7 L350.5,215.8 L351.5,215.9 L352.6,216.0 L353.6,216.2 L354.6,216.3 L355.7,216.4 L356.7,216.5 L357.8,216.6 L358.8,216.7 L359.8,216.7 L360.9,216.8 L361.9,216.8 L363.0,216.9 L364.0,216.9 L365.0,216.9 L366.1,217.0 L367.1,217.0 L368.2,217.0 L369.2,217.0 L370.3,217.0 L371.3,217.0 L372.3,217.0 L373.4,217.0 L374.4,217.0 L375.5,217.0 L376.5,217.0 L376.5,217.0 Z" fill="#d6e8f8" stroke="#8cbcee" stroke-width="0.6" stroke-opacity="0.85"/>
<path d="M380.5,217.0 L380.5,217.0 L381.6,217.0 L382.7,217.0 L383.7,217.0 L384.8,217.0 L385.9,217.0 L387.0,217.0 L388.0,217.0 L389.1,217.0 L390.2,217.0 L391.3,217.0 L392.4,217.0 L393.4,217.0 L394.5,217.0 L395.6,217.0 L396.7,216.9 L397.7,216.7 L398.8,215.8 L399.9,213.5 L401.0,208.8 L402.1,202.6 L403.1,198.1 L404.2,198.3 L405.3,202.9 L406.4,208.6 L407.4,212.7 L408.5,214.5 L409.6,215.0 L410.7,215.0 L411.8,215.0 L412.8,215.0 L413.9,215.1 L415.0,215.3 L416.1,215.6 L417.1,215.8 L418.2,216.1 L419.3,216.3 L420.4,216.5 L421.5,216.7 L422.5,216.8 L423.6,216.9 L424.7,216.9 L425.8,217.0 L426.8,217.0 L427.9,217.0 L429.0,217.0 L430.1,217.0 L431.2,217.0 L432.2,217.0 L433.3,217.0 L434.4,217.0 L435.5,217.0 L436.5,217.0 L437.6,217.0 L438.7,217.0 L439.8,217.0 L440.9,217.0 L441.9,217.0 L443.0,217.0 L444.1,217.0 L445.2,217.0 L446.2,217.0 L447.3,217.0 L448.4,217.0 L449.5,217.0 L450.6,217.0 L451.6,217.0 L452.7,217.0 L453.8,217.0 L454.9,217.0 L455.9,217.0 L457.0,217.0 L458.1,217.0 L459.2,217.0 L460.3,217.0 L461.3,217.0 L462.4,217.0 L463.5,217.0 L464.6,217.0 L465.6,217.0 L466.7,217.0 L467.8,217.0 L468.9,217.0 L470.0,217.0 L471.0,217.0 L472.1,217.0 L473.2,217.0 L474.3,217.0 L475.3,217.0 L476.4,217.0 L477.5,217.0 L477.5,217.0 Z" fill="#d6e8f8" stroke="#8cbcee" stroke-width="0.6" stroke-opacity="0.85"/>
<path d="M282.8,230.2 L282.8,230.2 L283.8,230.2 L284.9,230.2 L285.9,230.2 L287.0,230.2 L288.0,230.2 L289.0,230.2 L290.1,230.2 L291.1,230.2 L292.2,230.2 L293.2,230.2 L294.3,230.2 L295.3,230.2 L296.3,230.2 L297.4,230.1 L298.4,230.1 L299.5,229.9 L300.5,229.8 L301.5,229.5 L302.6,229.2 L303.6,228.7 L304.7,228.2 L305.7,227.5 L306.7,226.7 L307.8,226.0 L308.8,225.3 L309.9,224.7 L310.9,224.3 L312.0,224.1 L313.0,224.1 L314.0,224.2 L315.1,224.4 L316.1,224.6 L317.2,224.7 L318.2,224.5 L319.2,224.0 L320.3,223.3 L321.3,222.5 L322.4,221.7 L323.4,221.0 L324.4,220.5 L325.5,220.5 L326.5,220.9 L327.6,221.6 L328.6,222.6 L329.6,223.6 L330.7,224.6 L331.7,225.5 L332.8,226.2 L333.8,226.7 L334.9,226.9 L335.9,227.1 L336.9,227.1 L338.0,227.2 L339.0,227.2 L340.1,227.2 L341.1,227.2 L342.1,227.3 L343.2,227.4 L344.2,227.6 L345.3,227.8 L346.3,228.0 L347.3,228.2 L348.4,228.5 L349.4,228.7 L350.5,228.9 L351.5,229.1 L352.6,229.3 L353.6,229.5 L354.6,229.6 L355.7,229.8 L356.7,229.9 L357.8,229.9 L358.8,230.0 L359.8,230.1 L360.9,230.1 L361.9,230.1 L363.0,230.2 L364.0,230.2 L365.0,230.2 L366.1,230.2 L367.1,230.2 L368.2,230.2 L369.2,230.2 L370.3,230.2 L371.3,230.2 L372.3,230.2 L373.4,230.2 L374.4,230.2 L375.5,230.2 L376.5,230.2 L376.5,230.2 Z" fill="#d2f4e0" stroke="#74dca0" stroke-width="0.6" stroke-opacity="0.85"/>
<path d="M380.5,230.2 L380.5,230.2 L381.6,230.2 L382.7,230.2 L383.7,230.2 L384.8,230.2 L385.9,230.2 L387.0,230.2 L388.0,230.2 L389.1,230.2 L390.2,230.2 L391.3,230.2 L392.4,230.2 L393.4,230.2 L394.5,230.2 L395.6,230.2 L396.7,230.2 L397.7,230.2 L398.8,230.1 L399.9,230.0 L401.0,229.7 L402.1,229.2 L403.1,228.0 L404.2,226.2 L405.3,223.4 L406.4,220.0 L407.4,216.5 L408.5,213.8 L409.6,212.5 L410.7,213.0 L411.8,215.2 L412.8,218.2 L413.9,221.3 L415.0,223.7 L416.1,225.4 L417.1,226.3 L418.2,226.7 L419.3,226.8 L420.4,226.7 L421.5,226.7 L422.5,226.7 L423.6,226.8 L424.7,226.9 L425.8,227.2 L426.8,227.4 L427.9,227.8 L429.0,228.1 L430.1,228.4 L431.2,228.7 L432.2,229.0 L433.3,229.3 L434.4,229.5 L435.5,229.6 L436.5,229.8 L437.6,229.9 L438.7,230.0 L439.8,230.1 L440.9,230.1 L441.9,230.1 L443.0,230.2 L444.1,230.2 L445.2,230.2 L446.2,230.2 L447.3,230.2 L448.4,230.2 L449.5,230.2 L450.6,230.2 L451.6,230.2 L452.7,230.2 L453.8,230.2 L454.9,230.2 L455.9,230.2 L457.0,230.2 L458.1,230.2 L459.2,230.2 L460.3,230.2 L461.3,230.2 L462.4,230.2 L463.5,230.2 L464.6,230.2 L465.6,230.2 L466.7,230.2 L467.8,230.2 L468.9,230.2 L470.0,230.2 L471.0,230.2 L472.1,230.2 L473.2,230.2 L474.3,230.2 L475.3,230.2 L476.4,230.2 L477.5,230.2 L477.5,230.2 Z" fill="#d2f4e0" stroke="#74dca0" stroke-width="0.6" stroke-opacity="0.85"/>
<path d="M282.8,243.6 L282.8,243.6 L283.8,243.6 L284.9,243.6 L285.9,243.6 L287.0,243.6 L288.0,243.6 L289.0,243.6 L290.1,243.6 L291.1,243.6 L292.2,243.6 L293.2,243.6 L294.3,243.6 L295.3,243.6 L296.3,243.6 L297.4,243.6 L298.4,243.5 L299.5,243.4 L300.5,243.3 L301.5,243.1 L302.6,242.7 L303.6,242.2 L304.7,241.5 L305.7,240.8 L306.7,240.0 L307.8,239.3 L308.8,238.8 L309.9,238.6 L310.9,238.6 L312.0,239.0 L313.0,239.5 L314.0,240.1 L315.1,240.5 L316.1,240.8 L317.2,240.7 L318.2,240.3 L319.2,239.6 L320.3,238.7 L321.3,237.7 L322.4,236.6 L323.4,235.7 L324.4,234.9 L325.5,234.4 L326.5,234.2 L327.6,234.3 L328.6,234.5 L329.6,234.7 L330.7,234.9 L331.7,235.0 L332.8,234.9 L333.8,234.9 L334.9,235.0 L335.9,235.3 L336.9,236.0 L338.0,236.9 L339.0,238.0 L340.1,239.2 L341.1,240.4 L342.1,241.4 L343.2,242.2 L344.2,242.7 L345.3,243.1 L346.3,243.3 L347.3,243.5 L348.4,243.5 L349.4,243.6 L350.5,243.6 L351.5,243.6 L352.6,243.6 L353.6,243.6 L354.6,243.6 L355.7,243.6 L356.7,243.6 L357.8,243.6 L358.8,243.6 L359.8,243.6 L360.9,243.6 L361.9,243.6 L363.0,243.6 L364.0,243.6 L365.0,243.6 L366.1,243.6 L367.1,243.6 L368.2,243.6 L369.2,243.6 L370.3,243.6 L371.3,243.6 L372.3,243.6 L373.4,243.6 L374.4,243.6 L375.5,243.6 L376.5,243.6 L376.5,243.6 Z" fill="#f6dcdc" stroke="#e8a4a4" stroke-width="0.6" stroke-opacity="0.85"/>
<path d="M380.5,243.6 L380.5,243.6 L381.6,243.6 L382.7,243.6 L383.7,243.6 L384.8,243.6 L385.9,243.6 L387.0,243.6 L388.0,243.6 L389.1,243.6 L390.2,243.6 L391.3,243.6 L392.4,243.6 L393.4,243.6 L394.5,243.6 L395.6,243.6 L396.7,243.6 L397.7,243.5 L398.8,243.5 L399.9,243.3 L401.0,242.9 L402.1,242.2 L403.1,241.1 L404.2,239.4 L405.3,237.4 L406.4,235.1 L407.4,233.1 L408.5,231.8 L409.6,231.5 L410.7,232.3 L411.8,234.0 L412.8,236.0 L413.9,238.0 L415.0,239.7 L416.1,240.8 L417.1,241.4 L418.2,241.5 L419.3,241.5 L420.4,241.3 L421.5,241.1 L422.5,240.8 L423.6,240.7 L424.7,240.6 L425.8,240.6 L426.8,240.7 L427.9,240.9 L429.0,241.2 L430.1,241.5 L431.2,241.8 L432.2,242.1 L433.3,242.5 L434.4,242.7 L435.5,242.9 L436.5,243.1 L437.6,243.3 L438.7,243.4 L439.8,243.5 L440.9,243.5 L441.9,243.5 L443.0,243.6 L444.1,243.6 L445.2,243.6 L446.2,243.6 L447.3,243.6 L448.4,243.6 L449.5,243.6 L450.6,243.6 L451.6,243.6 L452.7,243.6 L453.8,243.6 L454.9,243.6 L455.9,243.6 L457.0,243.6 L458.1,243.6 L459.2,243.6 L460.3,243.6 L461.3,243.6 L462.4,243.6 L463.5,243.6 L464.6,243.6 L465.6,243.6 L466.7,243.6 L467.8,243.6 L468.9,243.6 L470.0,243.6 L471.0,243.6 L472.1,243.6 L473.2,243.6 L474.3,243.6 L475.3,243.6 L476.4,243.6 L477.5,243.6 L477.5,243.6 Z" fill="#f6dcdc" stroke="#e8a4a4" stroke-width="0.6" stroke-opacity="0.85"/>
<path d="M282.8,256.9 L282.8,256.9 L283.8,256.9 L284.9,256.9 L285.9,256.9 L287.0,256.9 L288.0,256.9 L289.0,256.9 L290.1,256.9 L291.1,256.8 L292.2,256.8 L293.2,256.8 L294.3,256.7 L295.3,256.7 L296.3,256.6 L297.4,256.4 L298.4,256.3 L299.5,256.1 L300.5,255.8 L301.5,255.5 L302.6,255.2 L303.6,254.8 L304.7,254.3 L305.7,253.8 L306.7,253.3 L307.8,252.8 L308.8,252.2 L309.9,251.7 L310.9,251.2 L312.0,250.7 L313.0,250.3 L314.0,250.0 L315.1,249.7 L316.1,249.6 L317.2,249.5 L318.2,249.4 L319.2,249.3 L320.3,249.2 L321.3,249.0 L322.4,248.8 L323.4,248.4 L324.4,247.9 L325.5,247.3 L326.5,246.7 L327.6,246.1 L328.6,245.5 L329.6,245.1 L330.7,244.9 L331.7,244.9 L332.8,245.2 L333.8,245.8 L334.9,246.6 L335.9,247.7 L336.9,248.8 L338.0,250.0 L339.0,251.2 L340.1,252.4 L341.1,253.4 L342.1,254.2 L343.2,254.9 L344.2,255.5 L345.3,255.9 L346.3,256.3 L347.3,256.5 L348.4,256.6 L349.4,256.7 L350.5,256.8 L351.5,256.8 L352.6,256.9 L353.6,256.9 L354.6,256.9 L355.7,256.9 L356.7,256.9 L357.8,256.9 L358.8,256.9 L359.8,256.9 L360.9,256.9 L361.9,256.9 L363.0,256.9 L364.0,256.9 L365.0,256.9 L366.1,256.9 L367.1,256.9 L368.2,256.9 L369.2,256.9 L370.3,256.9 L371.3,256.9 L372.3,256.9 L373.4,256.9 L374.4,256.9 L375.5,256.9 L376.5,256.9 L376.5,256.9 Z" fill="#f9e8d4" stroke="#f0c490" stroke-width="0.6" stroke-opacity="0.85"/>
<path d="M380.5,256.9 L380.5,256.9 L381.6,256.9 L382.7,256.9 L383.7,256.9 L384.8,256.9 L385.9,256.9 L387.0,256.9 L388.0,256.9 L389.1,256.9 L390.2,256.9 L391.3,256.9 L392.4,256.9 L393.4,256.9 L394.5,256.9 L395.6,256.9 L396.7,256.8 L397.7,256.6 L398.8,256.3 L399.9,255.7 L401.0,254.7 L402.1,253.2 L403.1,251.0 L404.2,248.1 L405.3,244.8 L406.4,241.4 L407.4,238.4 L408.5,236.4 L409.6,235.7 L410.7,236.5 L411.8,238.5 L412.8,241.4 L413.9,244.6 L415.0,247.5 L416.1,249.8 L417.1,251.4 L418.2,252.3 L419.3,252.7 L420.4,252.7 L421.5,252.5 L422.5,252.2 L423.6,252.0 L424.7,251.9 L425.8,251.9 L426.8,252.1 L427.9,252.5 L429.0,252.9 L430.1,253.4 L431.2,253.9 L432.2,254.5 L433.3,255.0 L434.4,255.4 L435.5,255.8 L436.5,256.1 L437.6,256.4 L438.7,256.5 L439.8,256.7 L440.9,256.7 L441.9,256.8 L443.0,256.8 L444.1,256.9 L445.2,256.9 L446.2,256.9 L447.3,256.9 L448.4,256.9 L449.5,256.9 L450.6,256.9 L451.6,256.9 L452.7,256.9 L453.8,256.9 L454.9,256.9 L455.9,256.9 L457.0,256.9 L458.1,256.9 L459.2,256.9 L460.3,256.9 L461.3,256.9 L462.4,256.9 L463.5,256.9 L464.6,256.9 L465.6,256.9 L466.7,256.9 L467.8,256.9 L468.9,256.9 L470.0,256.9 L471.0,256.9 L472.1,256.9 L473.2,256.9 L474.3,256.9 L475.3,256.9 L476.4,256.9 L477.5,256.9 L477.5,256.9 Z" fill="#f9e8d4" stroke="#f0c490" stroke-width="0.6" stroke-opacity="0.85"/>
<path d="M282.8,269.2 L282.8,269.1 L283.8,269.1 L284.9,269.1 L285.9,269.0 L287.0,269.0 L288.0,268.9 L289.0,268.9 L290.1,268.8 L291.1,268.8 L292.2,268.7 L293.2,268.6 L294.3,268.6 L295.3,268.5 L296.3,268.5 L297.4,268.4 L298.4,268.4 L299.5,268.4 L300.5,268.4 L301.5,268.4 L302.6,268.4 L303.6,268.5 L304.7,268.5 L305.7,268.6 L306.7,268.6 L307.8,268.7 L308.8,268.7 L309.9,268.8 L310.9,268.8 L312.0,268.7 L313.0,268.6 L314.0,268.3 L315.1,267.9 L316.1,267.4 L317.2,266.7 L318.2,266.0 L319.2,265.2 L320.3,264.6 L321.3,264.2 L322.4,264.1 L323.4,264.2 L324.4,264.5 L325.5,264.9 L326.5,265.0 L327.6,264.9 L328.6,264.3 L329.6,263.2 L330.7,261.7 L331.7,260.0 L332.8,258.2 L333.8,256.7 L334.9,255.6 L335.9,255.2 L336.9,255.5 L338.0,256.5 L339.0,258.0 L340.1,259.9 L341.1,261.8 L342.1,263.7 L343.2,265.3 L344.2,266.6 L345.3,267.5 L346.3,268.2 L347.3,268.6 L348.4,268.9 L349.4,269.0 L350.5,269.1 L351.5,269.2 L352.6,269.2 L353.6,269.2 L354.6,269.2 L355.7,269.2 L356.7,269.2 L357.8,269.2 L358.8,269.2 L359.8,269.2 L360.9,269.2 L361.9,269.2 L363.0,269.2 L364.0,269.2 L365.0,269.2 L366.1,269.2 L367.1,269.2 L368.2,269.2 L369.2,269.2 L370.3,269.2 L371.3,269.2 L372.3,269.2 L373.4,269.2 L374.4,269.2 L375.5,269.2 L376.5,269.2 L376.5,269.2 Z" fill="#e8dafa" stroke="#c29cf2" stroke-width="0.6" stroke-opacity="0.85"/>
<path d="M380.5,269.2 L380.5,269.2 L381.6,269.2 L382.7,269.2 L383.7,269.2 L384.8,269.2 L385.9,269.2 L387.0,269.2 L388.0,269.2 L389.1,269.2 L390.2,269.2 L391.3,269.2 L392.4,269.2 L393.4,269.2 L394.5,269.2 L395.6,269.2 L396.7,269.2 L397.7,269.2 L398.8,269.2 L399.9,269.1 L401.0,269.0 L402.1,268.9 L403.1,268.7 L404.2,268.3 L405.3,267.8 L406.4,267.0 L407.4,266.0 L408.5,264.7 L409.6,263.2 L410.7,261.5 L411.8,259.8 L412.8,258.3 L413.9,257.0 L415.0,256.3 L416.1,256.1 L417.1,256.5 L418.2,257.3 L419.3,258.6 L420.4,260.1 L421.5,261.6 L422.5,263.0 L423.6,264.2 L424.7,265.2 L425.8,265.9 L426.8,266.3 L427.9,266.6 L429.0,266.8 L430.1,267.0 L431.2,267.1 L432.2,267.3 L433.3,267.5 L434.4,267.7 L435.5,267.9 L436.5,268.1 L437.6,268.3 L438.7,268.5 L439.8,268.7 L440.9,268.8 L441.9,268.9 L443.0,269.0 L444.1,269.1 L445.2,269.1 L446.2,269.1 L447.3,269.2 L448.4,269.2 L449.5,269.2 L450.6,269.2 L451.6,269.2 L452.7,269.2 L453.8,269.2 L454.9,269.2 L455.9,269.2 L457.0,269.2 L458.1,269.2 L459.2,269.2 L460.3,269.2 L461.3,269.2 L462.4,269.2 L463.5,269.2 L464.6,269.2 L465.6,269.2 L466.7,269.2 L467.8,269.2 L468.9,269.2 L470.0,269.2 L471.0,269.2 L472.1,269.2 L473.2,269.2 L474.3,269.2 L475.3,269.2 L476.4,269.2 L477.5,269.2 L477.5,269.2 Z" fill="#e8dafa" stroke="#c29cf2" stroke-width="0.6" stroke-opacity="0.85"/>
<rect x="281.60" y="174.30" width="95.40" height="95.00" fill="none" stroke="#6a6a6a" stroke-width="0.9" />
<rect x="380.00" y="174.50" width="98.00" height="95.00" fill="none" stroke="#6a6a6a" stroke-width="0.9" />
<line x1="312.00" y1="175.00" x2="312.00" y2="269.00" stroke="#5a20a8" stroke-width="1.3" stroke-dasharray="4.5,2.5"/>
<line x1="417.90" y1="175.00" x2="417.90" y2="269.00" stroke="#5a20a8" stroke-width="1.3" stroke-dasharray="4.5,2.5"/>
<line x1="288.30" y1="269.50" x2="288.30" y2="271.30" stroke="#444" stroke-width="0.6" />
<line x1="308.98" y1="269.50" x2="308.98" y2="271.30" stroke="#444" stroke-width="0.6" />
<line x1="329.65" y1="269.50" x2="329.65" y2="271.30" stroke="#444" stroke-width="0.6" />
<line x1="350.32" y1="269.50" x2="350.32" y2="271.30" stroke="#444" stroke-width="0.6" />
<line x1="371.00" y1="269.50" x2="371.00" y2="271.30" stroke="#444" stroke-width="0.6" />
<line x1="386.00" y1="269.50" x2="386.00" y2="271.30" stroke="#444" stroke-width="0.6" />
<line x1="407.50" y1="269.50" x2="407.50" y2="271.30" stroke="#444" stroke-width="0.6" />
<line x1="429.00" y1="269.50" x2="429.00" y2="271.30" stroke="#444" stroke-width="0.6" />
<line x1="450.50" y1="269.50" x2="450.50" y2="271.30" stroke="#444" stroke-width="0.6" />
<line x1="472.00" y1="269.50" x2="472.00" y2="271.30" stroke="#444" stroke-width="0.6" />
<text x="278.90" y="193.34" font-size="6.50" text-anchor="end" fill="#222">NC</text>
<text x="278.90" y="212.84" font-size="6.50" text-anchor="end" fill="#222">Laser</text>
<text x="278.90" y="226.14" font-size="6.50" text-anchor="end" fill="#222">NPs</text>
<text x="278.90" y="238.84" font-size="6.50" text-anchor="end" fill="#222">NPs+Laser</text>
<text x="278.90" y="252.74" font-size="6.50" text-anchor="end" fill="#222">NPs-AS1411</text>
<text x="278.90" y="265.94" font-size="6.50" text-anchor="end" fill="#222">NPs-AS1411+Laser</text>
<text x="283.00" y="281.59" font-size="7.20" text-anchor="start" fill="#222" textLength="19.8" lengthAdjust="spacingAndGlyphs">CD80</text>
<line x1="304.80" y1="279.00" x2="337.00" y2="279.00" stroke="#111" stroke-width="0.9" />
<path d="M335,275.6 L342,279 L335,282.4 Z" fill="#111"/>
<text x="380.70" y="280.29" font-size="7.20" text-anchor="start" fill="#222" textLength="19.8" lengthAdjust="spacingAndGlyphs">CD86</text>
<line x1="402.00" y1="277.70" x2="434.50" y2="277.70" stroke="#111" stroke-width="0.9" />
<path d="M432.5,274.3 L439.5,277.7 L432.5,281.1 Z" fill="#111"/>
<text x="60.40" y="518.94" font-size="10.40" text-anchor="middle" fill="#222" font-weight="bold" textLength="19.2" lengthAdjust="spacingAndGlyphs">C57</text>
<g transform="translate(48.5,522)"><path d="M24,14 C30,12 33,6 31,1 C30,-1 33,-1 34,1" stroke="#d9a09a" stroke-width="0.9" fill="none"/><path d="M1,7 C3,4 6,3 9,3.5 C13,2 20,2.5 24,6 C27,9 27,14 24,17.5 C21,19.5 15,20 10,18.5 C7,17 5,14 4,11 C2,10.5 0,9 1,7 Z" fill="#3a3a3a"/><ellipse cx="9.5" cy="4" rx="2" ry="1.8" fill="#d8a0a0"/><path d="M8,18.5 l-1.5,2 l3,0 M17,19.5 l0,1.8 l3,0" stroke="#d8a0a0" stroke-width="0.9" fill="none"/><circle cx="1.2" cy="7.5" r="0.7" fill="#e0a0a0"/></g>
<text x="121.00" y="531.33" font-size="9.80" text-anchor="start" fill="#222" textLength="132.9" lengthAdjust="spacingAndGlyphs" stroke="#222" stroke-width="0.25">WT/Transgenic <tspan font-style="italic">Apc</tspan>-KO mice</text>
<line x1="121.00" y1="537.00" x2="252.40" y2="537.00" stroke="#666" stroke-width="1.3" />
<text x="308.40" y="542.93" font-size="9.80" text-anchor="middle" fill="#222" textLength="37.9" lengthAdjust="spacingAndGlyphs" stroke="#222" stroke-width="0.25">Sacrifice</text>
<path d="M304.6,546.4 L312.4,546.4 L308.5,552.8 Z" fill="#ee1c1c"/>
<defs><linearGradient id="gWT" x1="0" x2="1"><stop offset="0" stop-color="#f3f3f3"/><stop offset="1" stop-color="#a9a9a9"/></linearGradient><linearGradient id="gPBS" x1="0" x2="1"><stop offset="0" stop-color="#e6eef9"/><stop offset="1" stop-color="#a9c3e9"/></linearGradient><linearGradient id="gNP" x1="0" x2="1"><stop offset="0" stop-color="#fbfdf9"/><stop offset="0.35" stop-color="#f1f9ec"/><stop offset="1" stop-color="#a9d994"/></linearGradient><linearGradient id="gAS" x1="0" x2="1"><stop offset="0" stop-color="#fbe6e8"/><stop offset="0.6" stop-color="#f6d6da"/><stop offset="1" stop-color="#ef8e98"/></linearGradient></defs>
<rect x="86.60" y="552.80" width="222.20" height="11.00" fill="url(#gWT)" stroke="#c8c8c8" stroke-width="0.6" />
<rect x="86.60" y="572.60" width="222.20" height="11.40" fill="url(#gPBS)" stroke="#a7c4ea" stroke-width="0.7" />
<rect x="86.60" y="593.00" width="222.20" height="11.00" fill="url(#gNP)" stroke="#a9d994" stroke-width="0.7" />
<rect x="86.60" y="612.90" width="222.20" height="11.40" fill="url(#gAS)" stroke="#eba0a8" stroke-width="0.7" />
<line x1="167.70" y1="572.00" x2="167.70" y2="626.00" stroke="#111" stroke-width="1.05" stroke-dasharray="3,1.8"/>
<path d="M164.70,631 L170.70,631 L167.70,626 Z" fill="#ee1c1c"/>
<line x1="197.50" y1="572.00" x2="197.50" y2="626.00" stroke="#111" stroke-width="1.05" stroke-dasharray="3,1.8"/>
<path d="M194.50,631 L200.50,631 L197.50,626 Z" fill="#ee1c1c"/>
<line x1="227.00" y1="572.00" x2="227.00" y2="626.00" stroke="#111" stroke-width="1.05" stroke-dasharray="3,1.8"/>
<path d="M224.00,631 L230.00,631 L227.00,626 Z" fill="#ee1c1c"/>
<text x="65.40" y="562.11" font-size="9.20" text-anchor="middle" fill="#222" font-weight="bold" textLength="15.6" lengthAdjust="spacingAndGlyphs">WT</text>
<text x="63.30" y="583.41" font-size="9.20" text-anchor="middle" fill="#222" font-weight="bold" textLength="17.4" lengthAdjust="spacingAndGlyphs">PBS</text>
<text x="62.70" y="602.01" font-size="9.20" text-anchor="middle" fill="#222" font-weight="bold" textLength="18.4" lengthAdjust="spacingAndGlyphs">NPs</text>
<text x="62.70" y="618.71" font-size="9.20" text-anchor="middle" fill="#222" font-weight="bold" textLength="18.4" lengthAdjust="spacingAndGlyphs">NPs</text>
<text x="60.80" y="628.91" font-size="9.20" text-anchor="middle" fill="#222" font-weight="bold" textLength="39.7" lengthAdjust="spacingAndGlyphs">-AS1411</text>
<text transform="translate(26.20,601.80) rotate(-90)" x="0" y="3.24" font-size="9.00" text-anchor="middle" fill="#222" font-weight="bold" textLength="34.5" lengthAdjust="spacingAndGlyphs"><tspan font-style="italic">Apc</tspan>-KO</text>
<line x1="34.80" y1="574.90" x2="34.80" y2="627.80" stroke="#444" stroke-width="1.2" />
<text x="87.10" y="638.88" font-size="9.40" text-anchor="middle" fill="#222" stroke="#222" stroke-width="0.2">0</text>
<text x="170.70" y="641.98" font-size="9.40" text-anchor="middle" fill="#222" stroke="#222" stroke-width="0.2">13</text>
<text x="196.40" y="641.98" font-size="9.40" text-anchor="middle" fill="#222" stroke="#222" stroke-width="0.2">14</text>
<text x="226.70" y="641.98" font-size="9.40" text-anchor="middle" fill="#222" stroke="#222" stroke-width="0.2">15</text>
<text x="200.30" y="652.58" font-size="9.40" text-anchor="middle" fill="#222" textLength="56.4" lengthAdjust="spacingAndGlyphs" stroke="#222" stroke-width="0.2">i.p. injection</text>
<text x="302.80" y="641.48" font-size="9.40" text-anchor="start" fill="#222" textLength="38.5" lengthAdjust="spacingAndGlyphs" stroke="#222" stroke-width="0.2">18 week</text>
<g transform="translate(141,638.5) rotate(-28)"><rect x="3" y="-1.5" width="14" height="3" fill="#8a7ac8" stroke="#333" stroke-width="0.4"/><rect x="9" y="-1.5" width="8" height="3" fill="#3a3070"/><line x1="17" y1="0" x2="22" y2="0" stroke="#666" stroke-width="0.5"/><line x1="-1" y1="0" x2="3" y2="0" stroke="#444" stroke-width="1"/><rect x="-1.5" y="-2.4" width="0.9" height="4.8" fill="#444"/></g>
<rect x="375.60" y="506.70" width="148.90" height="52.50" fill="#dde8f1" stroke="#4a4a4a" stroke-width="0.9" />
<rect x="375.60" y="562.80" width="148.90" height="53.20" fill="#dde8f1" stroke="#4a4a4a" stroke-width="0.9" />
<rect x="375.60" y="620.00" width="148.90" height="53.00" fill="#dde8f1" stroke="#4a4a4a" stroke-width="0.9" />
<rect x="375.60" y="676.00" width="148.90" height="59.90" fill="#dde8f1" stroke="#4a4a4a" stroke-width="0.9" />
<defs><linearGradient id="cg1" x1="0" y1="0" x2="0" y2="1"><stop offset="0" stop-color="#c59455"/><stop offset="0.45" stop-color="#e6c890"/><stop offset="1" stop-color="#c59455"/></linearGradient><clipPath id="cg1c"><path d="M389.2,514.1 L390.9,512.1 L392.5,512.0 L394.2,512.1 L395.9,512.2 L397.5,512.2 L399.2,512.3 L400.9,512.3 L402.5,512.3 L404.2,512.4 L405.9,512.4 L407.6,512.4 L409.2,512.5 L410.9,512.4 L412.6,512.5 L414.2,512.5 L415.9,512.6 L417.6,512.5 L419.2,512.6 L420.9,512.5 L422.6,512.6 L424.2,512.7 L425.9,512.7 L427.6,512.6 L429.2,512.6 L430.9,512.7 L432.6,512.8 L434.3,512.8 L435.9,512.9 L437.6,512.8 L439.3,512.8 L440.9,512.8 L442.6,512.8 L444.3,512.9 L445.9,513.0 L447.6,513.0 L449.3,513.0 L450.9,513.0 L452.6,512.9 L454.3,512.8 L455.9,512.8 L457.6,512.8 L459.3,512.8 L460.9,512.8 L462.6,512.8 L464.3,512.8 L466.0,512.9 L467.6,512.9 L469.3,512.8 L471.0,512.8 L472.6,512.8 L474.3,512.7 L476.0,512.8 L477.6,512.7 L479.3,512.7 L481.0,512.7 L482.6,512.7 L484.3,512.7 L486.0,512.8 L487.6,512.8 L489.3,512.8 L491.0,512.8 L492.7,512.8 L494.3,512.8 L496.0,512.7 L497.7,512.7 L499.3,512.7 L501.0,512.7 L502.7,512.7 L504.3,512.8 L506.0,514.5 L506.0,515.4 L504.3,517.1 L502.7,517.1 L501.0,517.1 L499.3,517.1 L497.7,517.1 L496.0,517.2 L494.3,517.3 L492.7,517.3 L491.0,517.3 L489.3,517.3 L487.6,517.3 L486.0,517.3 L484.3,517.2 L482.6,517.2 L481.0,517.2 L479.3,517.2 L477.6,517.2 L476.0,517.3 L474.3,517.2 L472.6,517.2 L471.0,517.3 L469.3,517.2 L467.6,517.3 L466.0,517.2 L464.3,517.1 L462.6,517.1 L460.9,517.1 L459.3,517.0 L457.6,517.0 L455.9,517.0 L454.3,517.0 L452.6,517.1 L450.9,517.2 L449.3,517.2 L447.6,517.1 L445.9,517.1 L444.3,517.0 L442.6,517.0 L440.9,517.0 L439.3,517.0 L437.6,517.0 L435.9,517.1 L434.3,517.1 L432.6,517.1 L430.9,517.1 L429.2,517.0 L427.6,517.0 L425.9,517.1 L424.2,517.1 L422.6,517.1 L420.9,517.0 L419.2,517.0 L417.6,517.0 L415.9,517.0 L414.2,517.0 L412.6,517.0 L410.9,516.9 L409.2,516.9 L407.6,517.0 L405.9,517.0 L404.2,517.1 L402.5,517.1 L400.9,517.2 L399.2,517.2 L397.5,517.3 L395.9,517.3 L394.2,517.3 L392.5,517.4 L390.9,517.3 L389.2,515.3 Z"/></clipPath></defs>
<path d="M389.2,514.1 L390.9,512.1 L392.5,512.0 L394.2,512.1 L395.9,512.2 L397.5,512.2 L399.2,512.3 L400.9,512.3 L402.5,512.3 L404.2,512.4 L405.9,512.4 L407.6,512.4 L409.2,512.5 L410.9,512.4 L412.6,512.5 L414.2,512.5 L415.9,512.6 L417.6,512.5 L419.2,512.6 L420.9,512.5 L422.6,512.6 L424.2,512.7 L425.9,512.7 L427.6,512.6 L429.2,512.6 L430.9,512.7 L432.6,512.8 L434.3,512.8 L435.9,512.9 L437.6,512.8 L439.3,512.8 L440.9,512.8 L442.6,512.8 L444.3,512.9 L445.9,513.0 L447.6,513.0 L449.3,513.0 L450.9,513.0 L452.6,512.9 L454.3,512.8 L455.9,512.8 L457.6,512.8 L459.3,512.8 L460.9,512.8 L462.6,512.8 L464.3,512.8 L466.0,512.9 L467.6,512.9 L469.3,512.8 L471.0,512.8 L472.6,512.8 L474.3,512.7 L476.0,512.8 L477.6,512.7 L479.3,512.7 L481.0,512.7 L482.6,512.7 L484.3,512.7 L486.0,512.8 L487.6,512.8 L489.3,512.8 L491.0,512.8 L492.7,512.8 L494.3,512.8 L496.0,512.7 L497.7,512.7 L499.3,512.7 L501.0,512.7 L502.7,512.7 L504.3,512.8 L506.0,514.5 L506.0,515.4 L504.3,517.1 L502.7,517.1 L501.0,517.1 L499.3,517.1 L497.7,517.1 L496.0,517.2 L494.3,517.3 L492.7,517.3 L491.0,517.3 L489.3,517.3 L487.6,517.3 L486.0,517.3 L484.3,517.2 L482.6,517.2 L481.0,517.2 L479.3,517.2 L477.6,517.2 L476.0,517.3 L474.3,517.2 L472.6,517.2 L471.0,517.3 L469.3,517.2 L467.6,517.3 L466.0,517.2 L464.3,517.1 L462.6,517.1 L460.9,517.1 L459.3,517.0 L457.6,517.0 L455.9,517.0 L454.3,517.0 L452.6,517.1 L450.9,517.2 L449.3,517.2 L447.6,517.1 L445.9,517.1 L444.3,517.0 L442.6,517.0 L440.9,517.0 L439.3,517.0 L437.6,517.0 L435.9,517.1 L434.3,517.1 L432.6,517.1 L430.9,517.1 L429.2,517.0 L427.6,517.0 L425.9,517.1 L424.2,517.1 L422.6,517.1 L420.9,517.0 L419.2,517.0 L417.6,517.0 L415.9,517.0 L414.2,517.0 L412.6,517.0 L410.9,516.9 L409.2,516.9 L407.6,517.0 L405.9,517.0 L404.2,517.1 L402.5,517.1 L400.9,517.2 L399.2,517.2 L397.5,517.3 L395.9,517.3 L394.2,517.3 L392.5,517.4 L390.9,517.3 L389.2,515.3 Z" fill="url(#cg1)" stroke="#c59455" stroke-width="0.4"/>
<g clip-path="url(#cg1c)"><circle cx="415.7" cy="516.7" r="0.35" fill="#9a4a30" opacity="0.6"/><circle cx="471.5" cy="513.2" r="0.40" fill="#9a4a30" opacity="0.6"/><circle cx="505.9" cy="513.7" r="0.56" fill="#9a4a30" opacity="0.6"/><circle cx="442.8" cy="514.7" r="0.50" fill="#9a4a30" opacity="0.6"/><circle cx="411.7" cy="516.2" r="0.34" fill="#9a4a30" opacity="0.6"/><circle cx="416.6" cy="513.0" r="0.41" fill="#9a4a30" opacity="0.6"/><circle cx="436.8" cy="516.5" r="0.45" fill="#9a4a30" opacity="0.6"/><circle cx="402.5" cy="513.9" r="0.70" fill="#9a4a30" opacity="0.6"/><circle cx="396.6" cy="515.4" r="0.45" fill="#9a4a30" opacity="0.6"/><circle cx="466.4" cy="514.3" r="0.58" fill="#9a4a30" opacity="0.6"/><circle cx="447.3" cy="515.5" r="0.66" fill="#9a4a30" opacity="0.6"/><circle cx="457.1" cy="513.5" r="0.33" fill="#9a4a30" opacity="0.6"/><circle cx="499.7" cy="514.9" r="0.38" fill="#9a4a30" opacity="0.6"/><circle cx="499.7" cy="515.2" r="0.59" fill="#9a4a30" opacity="0.6"/><circle cx="492.1" cy="514.0" r="0.44" fill="#9a4a30" opacity="0.6"/><circle cx="491.8" cy="513.4" r="0.61" fill="#9a4a30" opacity="0.6"/><circle cx="400.6" cy="515.7" r="0.58" fill="#9a4a30" opacity="0.6"/><circle cx="500.2" cy="516.3" r="0.50" fill="#9a4a30" opacity="0.6"/><circle cx="412.3" cy="513.5" r="0.51" fill="#9a4a30" opacity="0.6"/><circle cx="448.7" cy="513.2" r="0.66" fill="#9a4a30" opacity="0.6"/><circle cx="448.5" cy="515.7" r="0.39" fill="#9a4a30" opacity="0.6"/><circle cx="417.7" cy="512.9" r="0.44" fill="#9a4a30" opacity="0.6"/><circle cx="420.4" cy="514.6" r="0.45" fill="#9a4a30" opacity="0.6"/><circle cx="486.6" cy="516.5" r="0.37" fill="#9a4a30" opacity="0.6"/><circle cx="435.5" cy="513.6" r="0.57" fill="#9a4a30" opacity="0.6"/><circle cx="503.1" cy="513.7" r="0.61" fill="#9a4a30" opacity="0.6"/><circle cx="424.2" cy="513.0" r="0.61" fill="#9a4a30" opacity="0.6"/><circle cx="429.1" cy="513.6" r="0.47" fill="#9a4a30" opacity="0.6"/><circle cx="416.3" cy="514.5" r="0.48" fill="#9a4a30" opacity="0.6"/><circle cx="438.0" cy="515.3" r="0.42" fill="#9a4a30" opacity="0.6"/><circle cx="400.3" cy="513.2" r="0.34" fill="#9a4a30" opacity="0.6"/><circle cx="450.0" cy="514.3" r="0.62" fill="#9a4a30" opacity="0.6"/><circle cx="448.2" cy="515.7" r="0.69" fill="#9a4a30" opacity="0.6"/><circle cx="396.6" cy="513.0" r="0.36" fill="#9a4a30" opacity="0.6"/><circle cx="434.3" cy="515.2" r="0.60" fill="#9a4a30" opacity="0.6"/><circle cx="430.2" cy="516.8" r="0.30" fill="#9a4a30" opacity="0.6"/><circle cx="486.8" cy="513.7" r="0.65" fill="#9a4a30" opacity="0.6"/><circle cx="393.1" cy="516.8" r="0.60" fill="#9a4a30" opacity="0.6"/><circle cx="504.9" cy="515.2" r="0.37" fill="#9a4a30" opacity="0.6"/><circle cx="502.5" cy="514.7" r="0.33" fill="#9a4a30" opacity="0.6"/><circle cx="459.9" cy="514.9" r="0.49" fill="#9a4a30" opacity="0.6"/><circle cx="407.2" cy="513.4" r="0.53" fill="#9a4a30" opacity="0.6"/><circle cx="442.1" cy="513.4" r="0.48" fill="#9a4a30" opacity="0.6"/><circle cx="473.9" cy="515.8" r="0.49" fill="#9a4a30" opacity="0.6"/><circle cx="435.2" cy="514.3" r="0.39" fill="#9a4a30" opacity="0.6"/><circle cx="412.3" cy="514.7" r="0.34" fill="#9a4a30" opacity="0.6"/><circle cx="473.9" cy="515.7" r="0.54" fill="#9a4a30" opacity="0.6"/><circle cx="391.8" cy="514.4" r="0.47" fill="#9a4a30" opacity="0.6"/><circle cx="400.1" cy="516.8" r="0.60" fill="#9a4a30" opacity="0.6"/><circle cx="447.9" cy="515.7" r="0.38" fill="#9a4a30" opacity="0.6"/><circle cx="416.0" cy="515.0" r="0.60" fill="#9a4a30" opacity="0.6"/><circle cx="464.8" cy="512.9" r="0.55" fill="#9a4a30" opacity="0.6"/><circle cx="495.4" cy="515.9" r="0.67" fill="#9a4a30" opacity="0.6"/><circle cx="503.9" cy="513.8" r="0.42" fill="#9a4a30" opacity="0.6"/><circle cx="453.1" cy="516.8" r="0.45" fill="#9a4a30" opacity="0.6"/><circle cx="499.2" cy="516.3" r="0.51" fill="#9a4a30" opacity="0.6"/><circle cx="462.2" cy="516.7" r="0.61" fill="#9a4a30" opacity="0.6"/><circle cx="423.8" cy="516.3" r="0.38" fill="#9a4a30" opacity="0.6"/><circle cx="432.4" cy="516.7" r="0.64" fill="#9a4a30" opacity="0.6"/><circle cx="425.6" cy="514.1" r="0.55" fill="#9a4a30" opacity="0.6"/></g>
<ellipse cx="393.20" cy="514.72" rx="4" ry="2.50" fill="#c59455" opacity="0.45"/>
<defs><linearGradient id="cg2" x1="0" y1="0" x2="0" y2="1"><stop offset="0" stop-color="#c59455"/><stop offset="0.45" stop-color="#e6c890"/><stop offset="1" stop-color="#c59455"/></linearGradient><clipPath id="cg2c"><path d="M390.0,531.8 L391.7,529.7 L393.3,529.6 L395.0,529.7 L396.6,529.7 L398.3,529.7 L399.9,529.7 L401.6,529.7 L403.3,529.8 L404.9,529.9 L406.6,529.9 L408.2,529.9 L409.9,530.0 L411.5,530.0 L413.2,530.1 L414.9,530.0 L416.5,529.9 L418.2,529.9 L419.8,529.9 L421.5,529.9 L423.1,529.9 L424.8,530.0 L426.5,530.0 L428.1,530.0 L429.8,530.1 L431.4,530.1 L433.1,530.0 L434.7,530.1 L436.4,530.2 L438.1,530.1 L439.7,530.1 L441.4,530.2 L443.0,530.2 L444.7,530.3 L446.3,530.3 L448.0,530.3 L449.7,530.4 L451.3,530.4 L453.0,530.5 L454.6,530.5 L456.3,530.5 L457.9,530.4 L459.6,530.5 L461.3,530.4 L462.9,530.4 L464.6,530.4 L466.2,530.3 L467.9,530.2 L469.5,530.2 L471.2,530.2 L472.9,530.3 L474.5,530.3 L476.2,530.3 L477.8,530.3 L479.5,530.2 L481.1,530.2 L482.8,530.2 L484.5,530.1 L486.1,530.1 L487.8,530.1 L489.4,530.1 L491.1,530.1 L492.7,530.1 L494.4,530.0 L496.1,530.0 L497.7,529.9 L499.4,529.4 L501.0,528.9 L502.7,528.4 L504.3,528.7 L506.0,530.8 L506.0,532.8 L504.3,534.9 L502.7,535.1 L501.0,534.9 L499.4,534.5 L497.7,534.3 L496.1,534.2 L494.4,534.3 L492.7,534.4 L491.1,534.4 L489.4,534.5 L487.8,534.5 L486.1,534.5 L484.5,534.5 L482.8,534.6 L481.1,534.6 L479.5,534.6 L477.8,534.7 L476.2,534.8 L474.5,534.7 L472.9,534.7 L471.2,534.6 L469.5,534.6 L467.9,534.7 L466.2,534.8 L464.6,534.9 L462.9,534.9 L461.3,534.9 L459.6,534.9 L457.9,534.8 L456.3,534.9 L454.6,534.8 L453.0,534.8 L451.3,534.7 L449.7,534.6 L448.0,534.6 L446.3,534.6 L444.7,534.6 L443.0,534.5 L441.4,534.5 L439.7,534.4 L438.1,534.4 L436.4,534.5 L434.7,534.4 L433.1,534.3 L431.4,534.4 L429.8,534.4 L428.1,534.3 L426.5,534.3 L424.8,534.3 L423.1,534.3 L421.5,534.3 L419.8,534.3 L418.2,534.4 L416.5,534.4 L414.9,534.4 L413.2,534.4 L411.5,534.4 L409.9,534.4 L408.2,534.5 L406.6,534.5 L404.9,534.6 L403.3,534.6 L401.6,534.7 L399.9,534.7 L398.3,534.8 L396.6,534.9 L395.0,535.0 L393.3,535.0 L391.7,535.0 L390.0,533.0 Z"/></clipPath></defs>
<path d="M390.0,531.8 L391.7,529.7 L393.3,529.6 L395.0,529.7 L396.6,529.7 L398.3,529.7 L399.9,529.7 L401.6,529.7 L403.3,529.8 L404.9,529.9 L406.6,529.9 L408.2,529.9 L409.9,530.0 L411.5,530.0 L413.2,530.1 L414.9,530.0 L416.5,529.9 L418.2,529.9 L419.8,529.9 L421.5,529.9 L423.1,529.9 L424.8,530.0 L426.5,530.0 L428.1,530.0 L429.8,530.1 L431.4,530.1 L433.1,530.0 L434.7,530.1 L436.4,530.2 L438.1,530.1 L439.7,530.1 L441.4,530.2 L443.0,530.2 L444.7,530.3 L446.3,530.3 L448.0,530.3 L449.7,530.4 L451.3,530.4 L453.0,530.5 L454.6,530.5 L456.3,530.5 L457.9,530.4 L459.6,530.5 L461.3,530.4 L462.9,530.4 L464.6,530.4 L466.2,530.3 L467.9,530.2 L469.5,530.2 L471.2,530.2 L472.9,530.3 L474.5,530.3 L476.2,530.3 L477.8,530.3 L479.5,530.2 L481.1,530.2 L482.8,530.2 L484.5,530.1 L486.1,530.1 L487.8,530.1 L489.4,530.1 L491.1,530.1 L492.7,530.1 L494.4,530.0 L496.1,530.0 L497.7,529.9 L499.4,529.4 L501.0,528.9 L502.7,528.4 L504.3,528.7 L506.0,530.8 L506.0,532.8 L504.3,534.9 L502.7,535.1 L501.0,534.9 L499.4,534.5 L497.7,534.3 L496.1,534.2 L494.4,534.3 L492.7,534.4 L491.1,534.4 L489.4,534.5 L487.8,534.5 L486.1,534.5 L484.5,534.5 L482.8,534.6 L481.1,534.6 L479.5,534.6 L477.8,534.7 L476.2,534.8 L474.5,534.7 L472.9,534.7 L471.2,534.6 L469.5,534.6 L467.9,534.7 L466.2,534.8 L464.6,534.9 L462.9,534.9 L461.3,534.9 L459.6,534.9 L457.9,534.8 L456.3,534.9 L454.6,534.8 L453.0,534.8 L451.3,534.7 L449.7,534.6 L448.0,534.6 L446.3,534.6 L444.7,534.6 L443.0,534.5 L441.4,534.5 L439.7,534.4 L438.1,534.4 L436.4,534.5 L434.7,534.4 L433.1,534.3 L431.4,534.4 L429.8,534.4 L428.1,534.3 L426.5,534.3 L424.8,534.3 L423.1,534.3 L421.5,534.3 L419.8,534.3 L418.2,534.4 L416.5,534.4 L414.9,534.4 L413.2,534.4 L411.5,534.4 L409.9,534.4 L408.2,534.5 L406.6,534.5 L404.9,534.6 L403.3,534.6 L401.6,534.7 L399.9,534.7 L398.3,534.8 L396.6,534.9 L395.0,535.0 L393.3,535.0 L391.7,535.0 L390.0,533.0 Z" fill="url(#cg2)" stroke="#c59455" stroke-width="0.4"/>
<g clip-path="url(#cg2c)"><circle cx="443.7" cy="531.9" r="0.36" fill="#9a4a30" opacity="0.6"/><circle cx="490.5" cy="530.4" r="0.50" fill="#9a4a30" opacity="0.6"/><circle cx="494.2" cy="530.7" r="0.52" fill="#9a4a30" opacity="0.6"/><circle cx="461.5" cy="530.6" r="0.45" fill="#9a4a30" opacity="0.6"/><circle cx="471.6" cy="532.2" r="0.59" fill="#9a4a30" opacity="0.6"/><circle cx="408.2" cy="531.4" r="0.34" fill="#9a4a30" opacity="0.6"/><circle cx="448.7" cy="534.1" r="0.54" fill="#9a4a30" opacity="0.6"/><circle cx="479.8" cy="531.9" r="0.60" fill="#9a4a30" opacity="0.6"/><circle cx="401.8" cy="531.6" r="0.57" fill="#9a4a30" opacity="0.6"/><circle cx="474.2" cy="532.1" r="0.34" fill="#9a4a30" opacity="0.6"/><circle cx="420.9" cy="531.2" r="0.41" fill="#9a4a30" opacity="0.6"/><circle cx="483.9" cy="531.2" r="0.65" fill="#9a4a30" opacity="0.6"/><circle cx="492.0" cy="530.6" r="0.45" fill="#9a4a30" opacity="0.6"/><circle cx="447.0" cy="530.5" r="0.47" fill="#9a4a30" opacity="0.6"/><circle cx="495.1" cy="530.8" r="0.54" fill="#9a4a30" opacity="0.6"/><circle cx="404.1" cy="532.7" r="0.66" fill="#9a4a30" opacity="0.6"/><circle cx="413.6" cy="530.4" r="0.33" fill="#9a4a30" opacity="0.6"/><circle cx="452.6" cy="530.5" r="0.33" fill="#9a4a30" opacity="0.6"/><circle cx="447.6" cy="534.1" r="0.47" fill="#9a4a30" opacity="0.6"/><circle cx="436.2" cy="533.0" r="0.34" fill="#9a4a30" opacity="0.6"/><circle cx="457.3" cy="531.1" r="0.54" fill="#9a4a30" opacity="0.6"/><circle cx="501.2" cy="530.6" r="0.52" fill="#9a4a30" opacity="0.6"/><circle cx="460.3" cy="531.0" r="0.41" fill="#9a4a30" opacity="0.6"/><circle cx="505.4" cy="534.4" r="0.35" fill="#9a4a30" opacity="0.6"/><circle cx="471.8" cy="534.2" r="0.39" fill="#9a4a30" opacity="0.6"/><circle cx="460.9" cy="530.6" r="0.45" fill="#9a4a30" opacity="0.6"/><circle cx="468.2" cy="532.8" r="0.61" fill="#9a4a30" opacity="0.6"/><circle cx="400.1" cy="531.8" r="0.65" fill="#9a4a30" opacity="0.6"/><circle cx="457.8" cy="532.2" r="0.46" fill="#9a4a30" opacity="0.6"/><circle cx="504.4" cy="532.7" r="0.31" fill="#9a4a30" opacity="0.6"/><circle cx="482.7" cy="531.7" r="0.47" fill="#9a4a30" opacity="0.6"/><circle cx="414.8" cy="532.2" r="0.43" fill="#9a4a30" opacity="0.6"/><circle cx="400.3" cy="532.9" r="0.34" fill="#9a4a30" opacity="0.6"/><circle cx="481.0" cy="530.5" r="0.61" fill="#9a4a30" opacity="0.6"/><circle cx="483.7" cy="532.4" r="0.58" fill="#9a4a30" opacity="0.6"/><circle cx="418.8" cy="533.4" r="0.47" fill="#9a4a30" opacity="0.6"/><circle cx="416.8" cy="534.3" r="0.46" fill="#9a4a30" opacity="0.6"/><circle cx="433.3" cy="533.8" r="0.45" fill="#9a4a30" opacity="0.6"/><circle cx="467.4" cy="531.1" r="0.64" fill="#9a4a30" opacity="0.6"/><circle cx="420.0" cy="530.6" r="0.69" fill="#9a4a30" opacity="0.6"/><circle cx="410.0" cy="534.2" r="0.69" fill="#9a4a30" opacity="0.6"/><circle cx="460.4" cy="530.4" r="0.32" fill="#9a4a30" opacity="0.6"/><circle cx="414.2" cy="532.0" r="0.54" fill="#9a4a30" opacity="0.6"/><circle cx="502.1" cy="531.8" r="0.36" fill="#9a4a30" opacity="0.6"/><circle cx="455.2" cy="530.9" r="0.33" fill="#9a4a30" opacity="0.6"/><circle cx="454.5" cy="533.2" r="0.33" fill="#9a4a30" opacity="0.6"/><circle cx="442.4" cy="533.2" r="0.61" fill="#9a4a30" opacity="0.6"/><circle cx="434.4" cy="533.9" r="0.37" fill="#9a4a30" opacity="0.6"/><circle cx="473.0" cy="533.5" r="0.65" fill="#9a4a30" opacity="0.6"/><circle cx="447.4" cy="530.8" r="0.32" fill="#9a4a30" opacity="0.6"/><circle cx="451.3" cy="531.1" r="0.55" fill="#9a4a30" opacity="0.6"/><circle cx="399.8" cy="533.5" r="0.39" fill="#9a4a30" opacity="0.6"/><circle cx="391.5" cy="531.1" r="0.48" fill="#9a4a30" opacity="0.6"/><circle cx="454.9" cy="532.0" r="0.37" fill="#9a4a30" opacity="0.6"/><circle cx="445.9" cy="534.2" r="0.51" fill="#9a4a30" opacity="0.6"/><circle cx="499.2" cy="530.5" r="0.70" fill="#9a4a30" opacity="0.6"/><circle cx="493.1" cy="532.6" r="0.51" fill="#9a4a30" opacity="0.6"/><circle cx="452.3" cy="534.0" r="0.33" fill="#9a4a30" opacity="0.6"/><circle cx="464.6" cy="532.6" r="0.42" fill="#9a4a30" opacity="0.6"/><circle cx="474.1" cy="533.3" r="0.34" fill="#9a4a30" opacity="0.6"/></g>
<ellipse cx="394.00" cy="532.35" rx="4" ry="2.50" fill="#c59455" opacity="0.45"/>
<defs><linearGradient id="cg3" x1="0" y1="0" x2="0" y2="1"><stop offset="0" stop-color="#c59455"/><stop offset="0.45" stop-color="#e6c890"/><stop offset="1" stop-color="#c59455"/></linearGradient><clipPath id="cg3c"><path d="M391.5,549.2 L393.0,547.3 L394.4,547.2 L395.9,547.2 L397.3,547.3 L398.8,547.2 L400.3,547.3 L401.7,547.4 L403.2,547.4 L404.6,547.5 L406.1,547.5 L407.6,547.6 L409.0,547.6 L410.5,547.6 L411.9,547.6 L413.4,547.6 L414.9,547.5 L416.3,547.5 L417.8,547.5 L419.2,547.5 L420.7,547.5 L422.2,547.4 L423.6,547.4 L425.1,547.5 L426.5,547.5 L428.0,547.5 L429.5,547.6 L430.9,547.7 L432.4,547.7 L433.8,547.8 L435.3,547.8 L436.8,547.9 L438.2,547.9 L439.7,548.0 L441.1,548.0 L442.6,547.9 L444.1,548.0 L445.5,548.0 L447.0,548.1 L448.4,548.1 L449.9,548.1 L451.4,548.1 L452.8,548.1 L454.3,548.1 L455.7,548.1 L457.2,548.1 L458.7,548.2 L460.1,548.3 L461.6,548.2 L463.0,548.2 L464.5,548.2 L466.0,548.2 L467.4,548.2 L468.9,548.2 L470.3,548.2 L471.8,548.2 L473.3,548.3 L474.7,548.2 L476.2,548.2 L477.6,548.1 L479.1,548.0 L480.6,548.0 L482.0,548.0 L483.5,547.8 L484.9,547.4 L486.4,547.0 L487.9,546.5 L489.3,546.1 L490.8,546.1 L492.2,546.6 L493.7,548.7 L493.7,551.2 L492.2,553.1 L490.8,553.5 L489.3,553.5 L487.9,553.2 L486.4,552.9 L484.9,552.5 L483.5,552.5 L482.0,552.4 L480.6,552.4 L479.1,552.4 L477.6,552.5 L476.2,552.6 L474.7,552.6 L473.3,552.6 L471.8,552.6 L470.3,552.6 L468.9,552.6 L467.4,552.5 L466.0,552.5 L464.5,552.6 L463.0,552.5 L461.6,552.5 L460.1,552.5 L458.7,552.4 L457.2,552.5 L455.7,552.3 L454.3,552.3 L452.8,552.3 L451.4,552.4 L449.9,552.3 L448.4,552.4 L447.0,552.4 L445.5,552.4 L444.1,552.4 L442.6,552.3 L441.1,552.3 L439.7,552.3 L438.2,552.2 L436.8,552.3 L435.3,552.2 L433.8,552.1 L432.4,552.1 L430.9,552.0 L429.5,552.0 L428.0,551.9 L426.5,551.9 L425.1,551.9 L423.6,551.9 L422.2,551.8 L420.7,551.9 L419.2,551.9 L417.8,551.8 L416.3,551.7 L414.9,551.7 L413.4,551.8 L411.9,551.8 L410.5,551.9 L409.0,551.8 L407.6,551.9 L406.1,551.9 L404.6,552.0 L403.2,552.1 L401.7,552.2 L400.3,552.2 L398.8,552.2 L397.3,552.3 L395.9,552.3 L394.4,552.4 L393.0,552.3 L391.5,550.3 Z"/></clipPath></defs>
<path d="M391.5,549.2 L393.0,547.3 L394.4,547.2 L395.9,547.2 L397.3,547.3 L398.8,547.2 L400.3,547.3 L401.7,547.4 L403.2,547.4 L404.6,547.5 L406.1,547.5 L407.6,547.6 L409.0,547.6 L410.5,547.6 L411.9,547.6 L413.4,547.6 L414.9,547.5 L416.3,547.5 L417.8,547.5 L419.2,547.5 L420.7,547.5 L422.2,547.4 L423.6,547.4 L425.1,547.5 L426.5,547.5 L428.0,547.5 L429.5,547.6 L430.9,547.7 L432.4,547.7 L433.8,547.8 L435.3,547.8 L436.8,547.9 L438.2,547.9 L439.7,548.0 L441.1,548.0 L442.6,547.9 L444.1,548.0 L445.5,548.0 L447.0,548.1 L448.4,548.1 L449.9,548.1 L451.4,548.1 L452.8,548.1 L454.3,548.1 L455.7,548.1 L457.2,548.1 L458.7,548.2 L460.1,548.3 L461.6,548.2 L463.0,548.2 L464.5,548.2 L466.0,548.2 L467.4,548.2 L468.9,548.2 L470.3,548.2 L471.8,548.2 L473.3,548.3 L474.7,548.2 L476.2,548.2 L477.6,548.1 L479.1,548.0 L480.6,548.0 L482.0,548.0 L483.5,547.8 L484.9,547.4 L486.4,547.0 L487.9,546.5 L489.3,546.1 L490.8,546.1 L492.2,546.6 L493.7,548.7 L493.7,551.2 L492.2,553.1 L490.8,553.5 L489.3,553.5 L487.9,553.2 L486.4,552.9 L484.9,552.5 L483.5,552.5 L482.0,552.4 L480.6,552.4 L479.1,552.4 L477.6,552.5 L476.2,552.6 L474.7,552.6 L473.3,552.6 L471.8,552.6 L470.3,552.6 L468.9,552.6 L467.4,552.5 L466.0,552.5 L464.5,552.6 L463.0,552.5 L461.6,552.5 L460.1,552.5 L458.7,552.4 L457.2,552.5 L455.7,552.3 L454.3,552.3 L452.8,552.3 L451.4,552.4 L449.9,552.3 L448.4,552.4 L447.0,552.4 L445.5,552.4 L444.1,552.4 L442.6,552.3 L441.1,552.3 L439.7,552.3 L438.2,552.2 L436.8,552.3 L435.3,552.2 L433.8,552.1 L432.4,552.1 L430.9,552.0 L429.5,552.0 L428.0,551.9 L426.5,551.9 L425.1,551.9 L423.6,551.9 L422.2,551.8 L420.7,551.9 L419.2,551.9 L417.8,551.8 L416.3,551.7 L414.9,551.7 L413.4,551.8 L411.9,551.8 L410.5,551.9 L409.0,551.8 L407.6,551.9 L406.1,551.9 L404.6,552.0 L403.2,552.1 L401.7,552.2 L400.3,552.2 L398.8,552.2 L397.3,552.3 L395.9,552.3 L394.4,552.4 L393.0,552.3 L391.5,550.3 Z" fill="url(#cg3)" stroke="#c59455" stroke-width="0.4"/>
<g clip-path="url(#cg3c)"><circle cx="449.9" cy="549.6" r="0.53" fill="#9a4a30" opacity="0.6"/><circle cx="412.6" cy="551.2" r="0.63" fill="#9a4a30" opacity="0.6"/><circle cx="458.3" cy="548.5" r="0.51" fill="#9a4a30" opacity="0.6"/><circle cx="425.0" cy="548.9" r="0.68" fill="#9a4a30" opacity="0.6"/><circle cx="493.3" cy="548.1" r="0.64" fill="#9a4a30" opacity="0.6"/><circle cx="453.1" cy="549.4" r="0.41" fill="#9a4a30" opacity="0.6"/><circle cx="460.5" cy="549.7" r="0.57" fill="#9a4a30" opacity="0.6"/><circle cx="459.1" cy="548.4" r="0.61" fill="#9a4a30" opacity="0.6"/><circle cx="491.9" cy="551.8" r="0.55" fill="#9a4a30" opacity="0.6"/><circle cx="396.0" cy="547.9" r="0.35" fill="#9a4a30" opacity="0.6"/><circle cx="487.7" cy="549.1" r="0.45" fill="#9a4a30" opacity="0.6"/><circle cx="483.3" cy="549.2" r="0.52" fill="#9a4a30" opacity="0.6"/><circle cx="436.1" cy="548.2" r="0.53" fill="#9a4a30" opacity="0.6"/><circle cx="477.8" cy="548.5" r="0.39" fill="#9a4a30" opacity="0.6"/><circle cx="433.7" cy="548.0" r="0.50" fill="#9a4a30" opacity="0.6"/><circle cx="475.1" cy="550.5" r="0.51" fill="#9a4a30" opacity="0.6"/><circle cx="478.9" cy="548.5" r="0.53" fill="#9a4a30" opacity="0.6"/><circle cx="429.7" cy="550.3" r="0.35" fill="#9a4a30" opacity="0.6"/><circle cx="470.8" cy="548.3" r="0.37" fill="#9a4a30" opacity="0.6"/><circle cx="474.0" cy="551.7" r="0.47" fill="#9a4a30" opacity="0.6"/><circle cx="433.8" cy="548.9" r="0.41" fill="#9a4a30" opacity="0.6"/><circle cx="454.6" cy="548.6" r="0.35" fill="#9a4a30" opacity="0.6"/><circle cx="438.1" cy="548.6" r="0.56" fill="#9a4a30" opacity="0.6"/><circle cx="475.4" cy="551.0" r="0.49" fill="#9a4a30" opacity="0.6"/><circle cx="427.0" cy="549.6" r="0.30" fill="#9a4a30" opacity="0.6"/><circle cx="464.3" cy="549.2" r="0.43" fill="#9a4a30" opacity="0.6"/><circle cx="399.7" cy="549.7" r="0.53" fill="#9a4a30" opacity="0.6"/><circle cx="431.4" cy="551.4" r="0.57" fill="#9a4a30" opacity="0.6"/><circle cx="416.2" cy="550.0" r="0.66" fill="#9a4a30" opacity="0.6"/><circle cx="444.7" cy="550.3" r="0.33" fill="#9a4a30" opacity="0.6"/><circle cx="441.5" cy="549.7" r="0.46" fill="#9a4a30" opacity="0.6"/><circle cx="434.5" cy="550.2" r="0.52" fill="#9a4a30" opacity="0.6"/><circle cx="441.6" cy="548.6" r="0.48" fill="#9a4a30" opacity="0.6"/><circle cx="490.5" cy="549.6" r="0.31" fill="#9a4a30" opacity="0.6"/><circle cx="391.8" cy="550.0" r="0.32" fill="#9a4a30" opacity="0.6"/><circle cx="401.0" cy="548.3" r="0.48" fill="#9a4a30" opacity="0.6"/><circle cx="493.0" cy="549.8" r="0.48" fill="#9a4a30" opacity="0.6"/><circle cx="436.1" cy="549.9" r="0.48" fill="#9a4a30" opacity="0.6"/><circle cx="465.7" cy="551.5" r="0.58" fill="#9a4a30" opacity="0.6"/><circle cx="434.8" cy="550.5" r="0.66" fill="#9a4a30" opacity="0.6"/><circle cx="407.2" cy="548.8" r="0.55" fill="#9a4a30" opacity="0.6"/><circle cx="461.7" cy="550.5" r="0.54" fill="#9a4a30" opacity="0.6"/><circle cx="476.3" cy="549.8" r="0.62" fill="#9a4a30" opacity="0.6"/><circle cx="489.9" cy="549.6" r="0.64" fill="#9a4a30" opacity="0.6"/><circle cx="464.9" cy="551.5" r="0.32" fill="#9a4a30" opacity="0.6"/><circle cx="484.8" cy="551.0" r="0.68" fill="#9a4a30" opacity="0.6"/><circle cx="491.8" cy="549.0" r="0.57" fill="#9a4a30" opacity="0.6"/><circle cx="405.9" cy="550.3" r="0.67" fill="#9a4a30" opacity="0.6"/><circle cx="411.1" cy="549.3" r="0.33" fill="#9a4a30" opacity="0.6"/><circle cx="411.4" cy="548.7" r="0.34" fill="#9a4a30" opacity="0.6"/><circle cx="493.7" cy="551.5" r="0.49" fill="#9a4a30" opacity="0.6"/><circle cx="467.5" cy="550.7" r="0.51" fill="#9a4a30" opacity="0.6"/><circle cx="434.8" cy="550.6" r="0.52" fill="#9a4a30" opacity="0.6"/><circle cx="418.7" cy="549.4" r="0.55" fill="#9a4a30" opacity="0.6"/><circle cx="455.6" cy="548.7" r="0.54" fill="#9a4a30" opacity="0.6"/><circle cx="480.9" cy="551.4" r="0.56" fill="#9a4a30" opacity="0.6"/><circle cx="398.7" cy="549.6" r="0.34" fill="#9a4a30" opacity="0.6"/><circle cx="397.1" cy="548.9" r="0.48" fill="#9a4a30" opacity="0.6"/><circle cx="469.1" cy="550.4" r="0.41" fill="#9a4a30" opacity="0.6"/><circle cx="462.5" cy="549.9" r="0.50" fill="#9a4a30" opacity="0.6"/></g>
<ellipse cx="395.50" cy="549.86" rx="4" ry="2.50" fill="#c59455" opacity="0.45"/>
<defs><linearGradient id="cg4" x1="0" y1="0" x2="0" y2="1"><stop offset="0" stop-color="#cfb478"/><stop offset="0.45" stop-color="#f1e9c8"/><stop offset="1" stop-color="#cfb478"/></linearGradient><clipPath id="cg4c"><path d="M388.1,572.9 L389.5,571.1 L390.9,571.1 L392.3,571.2 L393.7,571.3 L395.1,571.4 L396.6,571.4 L398.0,571.5 L399.4,571.6 L400.8,571.6 L402.2,571.8 L403.6,571.8 L405.0,571.9 L406.4,571.9 L407.8,571.9 L409.2,571.9 L410.6,572.0 L412.0,572.0 L413.5,572.0 L414.9,572.1 L416.3,572.1 L417.7,572.2 L419.1,572.3 L420.5,572.2 L421.9,572.1 L423.3,572.1 L424.7,572.2 L426.1,572.1 L427.5,572.1 L428.9,572.2 L430.4,572.2 L431.8,572.1 L433.2,571.9 L434.6,571.6 L436.0,571.0 L437.4,570.3 L438.8,569.7 L440.2,569.2 L441.6,569.4 L443.0,569.9 L444.4,570.5 L445.9,571.2 L447.3,571.6 L448.7,571.9 L450.1,572.1 L451.5,572.2 L452.9,572.2 L454.3,572.1 L455.7,572.1 L457.1,572.1 L458.5,572.0 L459.9,572.1 L461.3,572.0 L462.8,572.0 L464.2,572.0 L465.6,571.9 L467.0,571.9 L468.4,572.1 L469.8,572.0 L471.2,572.1 L472.6,572.0 L474.0,572.1 L475.4,572.1 L476.8,572.1 L478.2,572.1 L479.7,572.1 L481.1,572.1 L482.5,572.2 L483.9,572.2 L485.3,572.2 L486.7,573.7 L486.7,574.6 L485.3,576.1 L483.9,576.3 L482.5,576.4 L481.1,576.4 L479.7,576.4 L478.2,576.3 L476.8,576.4 L475.4,576.4 L474.0,576.4 L472.6,576.3 L471.2,576.4 L469.8,576.3 L468.4,576.5 L467.0,576.3 L465.6,576.3 L464.2,576.4 L462.8,576.3 L461.3,576.4 L459.9,576.4 L458.5,576.4 L457.1,576.3 L455.7,576.4 L454.3,576.4 L452.9,576.4 L451.5,576.4 L450.1,576.4 L448.7,576.4 L447.3,576.7 L445.9,577.1 L444.4,577.6 L443.0,578.1 L441.6,578.4 L440.2,578.3 L438.8,578.1 L437.4,577.6 L436.0,577.2 L434.6,576.8 L433.2,576.6 L431.8,576.5 L430.4,576.4 L428.9,576.4 L427.5,576.4 L426.1,576.4 L424.7,576.4 L423.3,576.4 L421.9,576.3 L420.5,576.4 L419.1,576.4 L417.7,576.3 L416.3,576.3 L414.9,576.2 L413.5,576.2 L412.0,576.1 L410.6,576.1 L409.2,576.0 L407.8,576.1 L406.4,576.0 L405.0,576.1 L403.6,576.1 L402.2,576.1 L400.8,576.1 L399.4,576.2 L398.0,576.1 L396.6,576.1 L395.1,576.2 L393.7,576.3 L392.3,576.2 L390.9,576.3 L389.5,576.1 L388.1,574.2 Z"/></clipPath></defs>
<path d="M388.1,572.9 L389.5,571.1 L390.9,571.1 L392.3,571.2 L393.7,571.3 L395.1,571.4 L396.6,571.4 L398.0,571.5 L399.4,571.6 L400.8,571.6 L402.2,571.8 L403.6,571.8 L405.0,571.9 L406.4,571.9 L407.8,571.9 L409.2,571.9 L410.6,572.0 L412.0,572.0 L413.5,572.0 L414.9,572.1 L416.3,572.1 L417.7,572.2 L419.1,572.3 L420.5,572.2 L421.9,572.1 L423.3,572.1 L424.7,572.2 L426.1,572.1 L427.5,572.1 L428.9,572.2 L430.4,572.2 L431.8,572.1 L433.2,571.9 L434.6,571.6 L436.0,571.0 L437.4,570.3 L438.8,569.7 L440.2,569.2 L441.6,569.4 L443.0,569.9 L444.4,570.5 L445.9,571.2 L447.3,571.6 L448.7,571.9 L450.1,572.1 L451.5,572.2 L452.9,572.2 L454.3,572.1 L455.7,572.1 L457.1,572.1 L458.5,572.0 L459.9,572.1 L461.3,572.0 L462.8,572.0 L464.2,572.0 L465.6,571.9 L467.0,571.9 L468.4,572.1 L469.8,572.0 L471.2,572.1 L472.6,572.0 L474.0,572.1 L475.4,572.1 L476.8,572.1 L478.2,572.1 L479.7,572.1 L481.1,572.1 L482.5,572.2 L483.9,572.2 L485.3,572.2 L486.7,573.7 L486.7,574.6 L485.3,576.1 L483.9,576.3 L482.5,576.4 L481.1,576.4 L479.7,576.4 L478.2,576.3 L476.8,576.4 L475.4,576.4 L474.0,576.4 L472.6,576.3 L471.2,576.4 L469.8,576.3 L468.4,576.5 L467.0,576.3 L465.6,576.3 L464.2,576.4 L462.8,576.3 L461.3,576.4 L459.9,576.4 L458.5,576.4 L457.1,576.3 L455.7,576.4 L454.3,576.4 L452.9,576.4 L451.5,576.4 L450.1,576.4 L448.7,576.4 L447.3,576.7 L445.9,577.1 L444.4,577.6 L443.0,578.1 L441.6,578.4 L440.2,578.3 L438.8,578.1 L437.4,577.6 L436.0,577.2 L434.6,576.8 L433.2,576.6 L431.8,576.5 L430.4,576.4 L428.9,576.4 L427.5,576.4 L426.1,576.4 L424.7,576.4 L423.3,576.4 L421.9,576.3 L420.5,576.4 L419.1,576.4 L417.7,576.3 L416.3,576.3 L414.9,576.2 L413.5,576.2 L412.0,576.1 L410.6,576.1 L409.2,576.0 L407.8,576.1 L406.4,576.0 L405.0,576.1 L403.6,576.1 L402.2,576.1 L400.8,576.1 L399.4,576.2 L398.0,576.1 L396.6,576.1 L395.1,576.2 L393.7,576.3 L392.3,576.2 L390.9,576.3 L389.5,576.1 L388.1,574.2 Z" fill="url(#cg4)" stroke="#cfb478" stroke-width="0.4"/>
<defs><linearGradient id="cg4h" x1="0" x2="1" y1="0" y2="0"><stop offset="0" stop-color="#a89040" stop-opacity="0.5"/><stop offset="0.3" stop-color="#a89040" stop-opacity="0.25"/><stop offset="1" stop-color="#a89040" stop-opacity="0.05"/></linearGradient></defs>
<path d="M388.1,572.9 L389.5,571.1 L390.9,571.1 L392.3,571.2 L393.7,571.3 L395.1,571.4 L396.6,571.4 L398.0,571.5 L399.4,571.6 L400.8,571.6 L402.2,571.8 L403.6,571.8 L405.0,571.9 L406.4,571.9 L407.8,571.9 L409.2,571.9 L410.6,572.0 L412.0,572.0 L413.5,572.0 L414.9,572.1 L416.3,572.1 L417.7,572.2 L419.1,572.3 L420.5,572.2 L421.9,572.1 L423.3,572.1 L424.7,572.2 L426.1,572.1 L427.5,572.1 L428.9,572.2 L430.4,572.2 L431.8,572.1 L433.2,571.9 L434.6,571.6 L436.0,571.0 L437.4,570.3 L438.8,569.7 L440.2,569.2 L441.6,569.4 L443.0,569.9 L444.4,570.5 L445.9,571.2 L447.3,571.6 L448.7,571.9 L450.1,572.1 L451.5,572.2 L452.9,572.2 L454.3,572.1 L455.7,572.1 L457.1,572.1 L458.5,572.0 L459.9,572.1 L461.3,572.0 L462.8,572.0 L464.2,572.0 L465.6,571.9 L467.0,571.9 L468.4,572.1 L469.8,572.0 L471.2,572.1 L472.6,572.0 L474.0,572.1 L475.4,572.1 L476.8,572.1 L478.2,572.1 L479.7,572.1 L481.1,572.1 L482.5,572.2 L483.9,572.2 L485.3,572.2 L486.7,573.7 L486.7,574.6 L485.3,576.1 L483.9,576.3 L482.5,576.4 L481.1,576.4 L479.7,576.4 L478.2,576.3 L476.8,576.4 L475.4,576.4 L474.0,576.4 L472.6,576.3 L471.2,576.4 L469.8,576.3 L468.4,576.5 L467.0,576.3 L465.6,576.3 L464.2,576.4 L462.8,576.3 L461.3,576.4 L459.9,576.4 L458.5,576.4 L457.1,576.3 L455.7,576.4 L454.3,576.4 L452.9,576.4 L451.5,576.4 L450.1,576.4 L448.7,576.4 L447.3,576.7 L445.9,577.1 L444.4,577.6 L443.0,578.1 L441.6,578.4 L440.2,578.3 L438.8,578.1 L437.4,577.6 L436.0,577.2 L434.6,576.8 L433.2,576.6 L431.8,576.5 L430.4,576.4 L428.9,576.4 L427.5,576.4 L426.1,576.4 L424.7,576.4 L423.3,576.4 L421.9,576.3 L420.5,576.4 L419.1,576.4 L417.7,576.3 L416.3,576.3 L414.9,576.2 L413.5,576.2 L412.0,576.1 L410.6,576.1 L409.2,576.0 L407.8,576.1 L406.4,576.0 L405.0,576.1 L403.6,576.1 L402.2,576.1 L400.8,576.1 L399.4,576.2 L398.0,576.1 L396.6,576.1 L395.1,576.2 L393.7,576.3 L392.3,576.2 L390.9,576.3 L389.5,576.1 L388.1,574.2 Z" fill="url(#cg4h)"/>
<g clip-path="url(#cg4c)"><circle cx="432.7" cy="574.0" r="0.67" fill="#a07040" opacity="0.6"/><circle cx="434.0" cy="573.8" r="0.53" fill="#a07040" opacity="0.6"/><circle cx="406.3" cy="573.8" r="0.55" fill="#a07040" opacity="0.6"/><circle cx="466.3" cy="572.2" r="0.42" fill="#a07040" opacity="0.6"/><circle cx="397.0" cy="575.0" r="0.58" fill="#a07040" opacity="0.6"/><circle cx="392.2" cy="575.7" r="0.69" fill="#a07040" opacity="0.6"/><circle cx="452.6" cy="574.3" r="0.36" fill="#a07040" opacity="0.6"/><circle cx="389.6" cy="573.9" r="0.32" fill="#a07040" opacity="0.6"/><circle cx="406.9" cy="572.8" r="0.31" fill="#a07040" opacity="0.6"/><circle cx="433.8" cy="573.6" r="0.64" fill="#a07040" opacity="0.6"/><circle cx="439.3" cy="574.4" r="0.50" fill="#a07040" opacity="0.6"/><circle cx="453.4" cy="573.6" r="0.41" fill="#a07040" opacity="0.6"/><circle cx="486.5" cy="575.8" r="0.64" fill="#a07040" opacity="0.6"/><circle cx="457.9" cy="573.1" r="0.39" fill="#a07040" opacity="0.6"/><circle cx="416.6" cy="572.1" r="0.61" fill="#a07040" opacity="0.6"/><circle cx="427.6" cy="575.2" r="0.45" fill="#a07040" opacity="0.6"/><circle cx="482.6" cy="575.2" r="0.30" fill="#a07040" opacity="0.6"/><circle cx="408.8" cy="575.4" r="0.49" fill="#a07040" opacity="0.6"/><circle cx="484.8" cy="573.4" r="0.33" fill="#a07040" opacity="0.6"/><circle cx="450.2" cy="574.9" r="0.41" fill="#a07040" opacity="0.6"/><circle cx="396.7" cy="573.1" r="0.69" fill="#a07040" opacity="0.6"/><circle cx="462.8" cy="572.3" r="0.40" fill="#a07040" opacity="0.6"/><circle cx="398.1" cy="572.0" r="0.62" fill="#a07040" opacity="0.6"/><circle cx="405.6" cy="574.0" r="0.48" fill="#a07040" opacity="0.6"/><circle cx="406.9" cy="574.7" r="0.35" fill="#a07040" opacity="0.6"/></g>
<ellipse cx="392.10" cy="573.71" rx="4" ry="2.40" fill="#cfb478" opacity="0.45"/>
<ellipse cx="440.70" cy="572.50" rx="4.5" ry="4.2" fill="#c9a56a" opacity="0.9"/>
<defs><linearGradient id="cg5" x1="0" y1="0" x2="0" y2="1"><stop offset="0" stop-color="#cfb478"/><stop offset="0.45" stop-color="#f1e9c8"/><stop offset="1" stop-color="#cfb478"/></linearGradient><clipPath id="cg5c"><path d="M389.2,592.0 L390.7,590.1 L392.1,590.1 L393.6,590.1 L395.0,590.1 L396.5,590.1 L397.9,590.1 L399.4,590.1 L400.8,590.2 L402.3,590.2 L403.7,590.3 L405.2,590.4 L406.7,590.4 L408.1,590.4 L409.6,590.5 L411.0,590.4 L412.5,590.4 L413.9,590.4 L415.4,590.5 L416.8,590.5 L418.3,590.5 L419.7,590.5 L421.2,590.5 L422.6,590.5 L424.1,590.5 L425.6,590.5 L427.0,590.6 L428.5,590.6 L429.9,590.5 L431.4,590.6 L432.8,590.5 L434.3,590.5 L435.7,590.5 L437.2,590.5 L438.6,590.4 L440.1,590.3 L441.6,590.2 L443.0,590.3 L444.5,590.3 L445.9,590.1 L447.4,590.1 L448.8,590.1 L450.3,590.2 L451.7,590.2 L453.2,590.2 L454.6,590.2 L456.1,590.2 L457.6,590.2 L459.0,590.1 L460.5,590.1 L461.9,590.2 L463.4,590.2 L464.8,590.2 L466.3,590.2 L467.7,590.2 L469.2,590.1 L470.6,589.9 L472.1,589.5 L473.5,588.8 L475.0,588.2 L476.5,587.9 L477.9,588.0 L479.4,588.3 L480.8,589.0 L482.3,589.5 L483.7,589.9 L485.2,590.1 L486.6,590.3 L488.1,590.4 L489.5,590.5 L491.0,592.0 L491.0,592.9 L489.5,594.3 L488.1,594.5 L486.6,594.5 L485.2,594.6 L483.7,594.7 L482.3,595.0 L480.8,595.4 L479.4,595.7 L477.9,596.0 L476.5,596.1 L475.0,595.8 L473.5,595.5 L472.1,595.2 L470.6,594.9 L469.2,594.7 L467.7,594.5 L466.3,594.5 L464.8,594.5 L463.4,594.4 L461.9,594.4 L460.5,594.3 L459.0,594.4 L457.6,594.4 L456.1,594.4 L454.6,594.4 L453.2,594.5 L451.7,594.5 L450.3,594.5 L448.8,594.4 L447.4,594.5 L445.9,594.5 L444.5,594.6 L443.0,594.6 L441.6,594.5 L440.1,594.6 L438.6,594.7 L437.2,594.8 L435.7,594.8 L434.3,594.9 L432.8,594.9 L431.4,595.0 L429.9,595.0 L428.5,595.0 L427.0,595.0 L425.6,594.9 L424.1,594.9 L422.6,594.9 L421.2,594.9 L419.7,594.9 L418.3,594.9 L416.8,594.8 L415.4,594.9 L413.9,594.8 L412.5,594.9 L411.0,594.9 L409.6,594.9 L408.1,594.8 L406.7,594.8 L405.2,594.9 L403.7,594.8 L402.3,594.9 L400.8,595.0 L399.4,595.0 L397.9,595.1 L396.5,595.0 L395.0,595.2 L393.6,595.3 L392.1,595.3 L390.7,595.1 L389.2,593.2 Z"/></clipPath></defs>
<path d="M389.2,592.0 L390.7,590.1 L392.1,590.1 L393.6,590.1 L395.0,590.1 L396.5,590.1 L397.9,590.1 L399.4,590.1 L400.8,590.2 L402.3,590.2 L403.7,590.3 L405.2,590.4 L406.7,590.4 L408.1,590.4 L409.6,590.5 L411.0,590.4 L412.5,590.4 L413.9,590.4 L415.4,590.5 L416.8,590.5 L418.3,590.5 L419.7,590.5 L421.2,590.5 L422.6,590.5 L424.1,590.5 L425.6,590.5 L427.0,590.6 L428.5,590.6 L429.9,590.5 L431.4,590.6 L432.8,590.5 L434.3,590.5 L435.7,590.5 L437.2,590.5 L438.6,590.4 L440.1,590.3 L441.6,590.2 L443.0,590.3 L444.5,590.3 L445.9,590.1 L447.4,590.1 L448.8,590.1 L450.3,590.2 L451.7,590.2 L453.2,590.2 L454.6,590.2 L456.1,590.2 L457.6,590.2 L459.0,590.1 L460.5,590.1 L461.9,590.2 L463.4,590.2 L464.8,590.2 L466.3,590.2 L467.7,590.2 L469.2,590.1 L470.6,589.9 L472.1,589.5 L473.5,588.8 L475.0,588.2 L476.5,587.9 L477.9,588.0 L479.4,588.3 L480.8,589.0 L482.3,589.5 L483.7,589.9 L485.2,590.1 L486.6,590.3 L488.1,590.4 L489.5,590.5 L491.0,592.0 L491.0,592.9 L489.5,594.3 L488.1,594.5 L486.6,594.5 L485.2,594.6 L483.7,594.7 L482.3,595.0 L480.8,595.4 L479.4,595.7 L477.9,596.0 L476.5,596.1 L475.0,595.8 L473.5,595.5 L472.1,595.2 L470.6,594.9 L469.2,594.7 L467.7,594.5 L466.3,594.5 L464.8,594.5 L463.4,594.4 L461.9,594.4 L460.5,594.3 L459.0,594.4 L457.6,594.4 L456.1,594.4 L454.6,594.4 L453.2,594.5 L451.7,594.5 L450.3,594.5 L448.8,594.4 L447.4,594.5 L445.9,594.5 L444.5,594.6 L443.0,594.6 L441.6,594.5 L440.1,594.6 L438.6,594.7 L437.2,594.8 L435.7,594.8 L434.3,594.9 L432.8,594.9 L431.4,595.0 L429.9,595.0 L428.5,595.0 L427.0,595.0 L425.6,594.9 L424.1,594.9 L422.6,594.9 L421.2,594.9 L419.7,594.9 L418.3,594.9 L416.8,594.8 L415.4,594.9 L413.9,594.8 L412.5,594.9 L411.0,594.9 L409.6,594.9 L408.1,594.8 L406.7,594.8 L405.2,594.9 L403.7,594.8 L402.3,594.9 L400.8,595.0 L399.4,595.0 L397.9,595.1 L396.5,595.0 L395.0,595.2 L393.6,595.3 L392.1,595.3 L390.7,595.1 L389.2,593.2 Z" fill="url(#cg5)" stroke="#cfb478" stroke-width="0.4"/>
<defs><linearGradient id="cg5h" x1="0" x2="1" y1="0" y2="0"><stop offset="0" stop-color="#a08040" stop-opacity="0.55"/><stop offset="0.35" stop-color="#a08040" stop-opacity="0.3"/><stop offset="0.6" stop-color="#a08040" stop-opacity="0.05"/><stop offset="1" stop-color="#a08040" stop-opacity="0"/></linearGradient></defs>
<path d="M389.2,592.0 L390.7,590.1 L392.1,590.1 L393.6,590.1 L395.0,590.1 L396.5,590.1 L397.9,590.1 L399.4,590.1 L400.8,590.2 L402.3,590.2 L403.7,590.3 L405.2,590.4 L406.7,590.4 L408.1,590.4 L409.6,590.5 L411.0,590.4 L412.5,590.4 L413.9,590.4 L415.4,590.5 L416.8,590.5 L418.3,590.5 L419.7,590.5 L421.2,590.5 L422.6,590.5 L424.1,590.5 L425.6,590.5 L427.0,590.6 L428.5,590.6 L429.9,590.5 L431.4,590.6 L432.8,590.5 L434.3,590.5 L435.7,590.5 L437.2,590.5 L438.6,590.4 L440.1,590.3 L441.6,590.2 L443.0,590.3 L444.5,590.3 L445.9,590.1 L447.4,590.1 L448.8,590.1 L450.3,590.2 L451.7,590.2 L453.2,590.2 L454.6,590.2 L456.1,590.2 L457.6,590.2 L459.0,590.1 L460.5,590.1 L461.9,590.2 L463.4,590.2 L464.8,590.2 L466.3,590.2 L467.7,590.2 L469.2,590.1 L470.6,589.9 L472.1,589.5 L473.5,588.8 L475.0,588.2 L476.5,587.9 L477.9,588.0 L479.4,588.3 L480.8,589.0 L482.3,589.5 L483.7,589.9 L485.2,590.1 L486.6,590.3 L488.1,590.4 L489.5,590.5 L491.0,592.0 L491.0,592.9 L489.5,594.3 L488.1,594.5 L486.6,594.5 L485.2,594.6 L483.7,594.7 L482.3,595.0 L480.8,595.4 L479.4,595.7 L477.9,596.0 L476.5,596.1 L475.0,595.8 L473.5,595.5 L472.1,595.2 L470.6,594.9 L469.2,594.7 L467.7,594.5 L466.3,594.5 L464.8,594.5 L463.4,594.4 L461.9,594.4 L460.5,594.3 L459.0,594.4 L457.6,594.4 L456.1,594.4 L454.6,594.4 L453.2,594.5 L451.7,594.5 L450.3,594.5 L448.8,594.4 L447.4,594.5 L445.9,594.5 L444.5,594.6 L443.0,594.6 L441.6,594.5 L440.1,594.6 L438.6,594.7 L437.2,594.8 L435.7,594.8 L434.3,594.9 L432.8,594.9 L431.4,595.0 L429.9,595.0 L428.5,595.0 L427.0,595.0 L425.6,594.9 L424.1,594.9 L422.6,594.9 L421.2,594.9 L419.7,594.9 L418.3,594.9 L416.8,594.8 L415.4,594.9 L413.9,594.8 L412.5,594.9 L411.0,594.9 L409.6,594.9 L408.1,594.8 L406.7,594.8 L405.2,594.9 L403.7,594.8 L402.3,594.9 L400.8,595.0 L399.4,595.0 L397.9,595.1 L396.5,595.0 L395.0,595.2 L393.6,595.3 L392.1,595.3 L390.7,595.1 L389.2,593.2 Z" fill="url(#cg5h)"/>
<g clip-path="url(#cg5c)"><circle cx="437.5" cy="593.0" r="0.57" fill="#a07040" opacity="0.6"/><circle cx="403.7" cy="590.4" r="0.45" fill="#a07040" opacity="0.6"/><circle cx="417.1" cy="593.6" r="0.58" fill="#a07040" opacity="0.6"/><circle cx="450.4" cy="592.6" r="0.56" fill="#a07040" opacity="0.6"/><circle cx="404.0" cy="592.2" r="0.36" fill="#a07040" opacity="0.6"/><circle cx="481.4" cy="590.6" r="0.63" fill="#a07040" opacity="0.6"/><circle cx="396.8" cy="593.1" r="0.43" fill="#a07040" opacity="0.6"/><circle cx="430.4" cy="593.8" r="0.31" fill="#a07040" opacity="0.6"/><circle cx="395.4" cy="594.1" r="0.50" fill="#a07040" opacity="0.6"/><circle cx="398.5" cy="594.3" r="0.68" fill="#a07040" opacity="0.6"/><circle cx="400.7" cy="592.1" r="0.35" fill="#a07040" opacity="0.6"/><circle cx="421.0" cy="592.9" r="0.37" fill="#a07040" opacity="0.6"/><circle cx="460.1" cy="590.6" r="0.37" fill="#a07040" opacity="0.6"/><circle cx="472.2" cy="592.0" r="0.47" fill="#a07040" opacity="0.6"/><circle cx="449.9" cy="592.3" r="0.45" fill="#a07040" opacity="0.6"/><circle cx="392.3" cy="593.3" r="0.69" fill="#a07040" opacity="0.6"/><circle cx="488.6" cy="593.1" r="0.44" fill="#a07040" opacity="0.6"/><circle cx="426.2" cy="593.2" r="0.57" fill="#a07040" opacity="0.6"/><circle cx="400.8" cy="591.3" r="0.45" fill="#a07040" opacity="0.6"/><circle cx="441.3" cy="593.6" r="0.50" fill="#a07040" opacity="0.6"/><circle cx="392.1" cy="593.7" r="0.47" fill="#a07040" opacity="0.6"/><circle cx="442.0" cy="591.3" r="0.47" fill="#a07040" opacity="0.6"/><circle cx="428.7" cy="593.5" r="0.34" fill="#a07040" opacity="0.6"/><circle cx="445.2" cy="591.1" r="0.58" fill="#a07040" opacity="0.6"/><circle cx="393.0" cy="591.5" r="0.44" fill="#a07040" opacity="0.6"/></g>
<ellipse cx="393.20" cy="592.60" rx="4" ry="2.40" fill="#cfb478" opacity="0.45"/>
<ellipse cx="403.00" cy="592.20" rx="6" ry="2.6" fill="#c0a068" opacity="0.9"/>
<ellipse cx="477.00" cy="592.00" rx="3.5" ry="3.0" fill="#c8a46c" opacity="0.9"/>
<defs><linearGradient id="cg6" x1="0" y1="0" x2="0" y2="1"><stop offset="0" stop-color="#cfb478"/><stop offset="0.45" stop-color="#f1e9c8"/><stop offset="1" stop-color="#cfb478"/></linearGradient><clipPath id="cg6c"><path d="M389.2,608.1 L390.6,606.3 L392.1,606.1 L393.5,606.1 L395.0,606.0 L396.4,606.1 L397.8,606.1 L399.3,606.3 L400.7,606.3 L402.2,606.3 L403.6,606.4 L405.0,606.5 L406.5,606.5 L407.9,606.5 L409.4,606.4 L410.8,606.3 L412.2,606.4 L413.7,606.4 L415.1,606.4 L416.6,606.3 L418.0,606.4 L419.4,606.4 L420.9,606.5 L422.3,606.5 L423.8,606.4 L425.2,606.3 L426.6,606.3 L428.1,606.3 L429.5,606.3 L431.0,606.3 L432.4,606.5 L433.8,606.5 L435.3,606.4 L436.7,606.4 L438.2,606.4 L439.6,606.4 L441.0,606.5 L442.5,606.5 L443.9,606.5 L445.4,606.5 L446.8,606.4 L448.2,606.4 L449.7,606.5 L451.1,606.4 L452.6,606.2 L454.0,606.3 L455.4,606.4 L456.9,606.4 L458.3,606.4 L459.8,606.4 L461.2,606.4 L462.6,606.4 L464.1,606.4 L465.5,606.4 L467.0,606.4 L468.4,606.3 L469.8,606.4 L471.3,606.4 L472.7,606.5 L474.2,606.5 L475.6,606.5 L477.0,606.5 L478.5,606.6 L479.9,606.5 L481.4,606.5 L482.8,606.5 L484.2,606.5 L485.7,606.5 L487.1,606.5 L488.6,606.6 L490.0,608.0 L490.0,608.8 L488.6,610.4 L487.1,610.6 L485.7,610.6 L484.2,610.6 L482.8,610.6 L481.4,610.5 L479.9,610.6 L478.5,610.7 L477.0,610.7 L475.6,610.7 L474.2,610.7 L472.7,610.7 L471.3,610.6 L469.8,610.6 L468.4,610.6 L467.0,610.7 L465.5,610.7 L464.1,610.8 L462.6,610.7 L461.2,610.8 L459.8,610.7 L458.3,610.7 L456.9,610.7 L455.4,610.7 L454.0,610.7 L452.6,610.6 L451.1,610.7 L449.7,610.8 L448.2,610.7 L446.8,610.7 L445.4,610.7 L443.9,610.7 L442.5,610.7 L441.0,610.6 L439.6,610.5 L438.2,610.5 L436.7,610.5 L435.3,610.5 L433.8,610.5 L432.4,610.5 L431.0,610.4 L429.5,610.4 L428.1,610.3 L426.6,610.3 L425.2,610.3 L423.8,610.4 L422.3,610.4 L420.9,610.5 L419.4,610.4 L418.0,610.4 L416.6,610.3 L415.1,610.4 L413.7,610.4 L412.2,610.4 L410.8,610.4 L409.4,610.4 L407.9,610.5 L406.5,610.6 L405.0,610.7 L403.6,610.6 L402.2,610.7 L400.7,610.7 L399.3,610.8 L397.8,610.8 L396.4,610.9 L395.0,611.0 L393.5,611.1 L392.1,611.3 L390.6,611.2 L389.2,609.3 Z"/></clipPath></defs>
<path d="M389.2,608.1 L390.6,606.3 L392.1,606.1 L393.5,606.1 L395.0,606.0 L396.4,606.1 L397.8,606.1 L399.3,606.3 L400.7,606.3 L402.2,606.3 L403.6,606.4 L405.0,606.5 L406.5,606.5 L407.9,606.5 L409.4,606.4 L410.8,606.3 L412.2,606.4 L413.7,606.4 L415.1,606.4 L416.6,606.3 L418.0,606.4 L419.4,606.4 L420.9,606.5 L422.3,606.5 L423.8,606.4 L425.2,606.3 L426.6,606.3 L428.1,606.3 L429.5,606.3 L431.0,606.3 L432.4,606.5 L433.8,606.5 L435.3,606.4 L436.7,606.4 L438.2,606.4 L439.6,606.4 L441.0,606.5 L442.5,606.5 L443.9,606.5 L445.4,606.5 L446.8,606.4 L448.2,606.4 L449.7,606.5 L451.1,606.4 L452.6,606.2 L454.0,606.3 L455.4,606.4 L456.9,606.4 L458.3,606.4 L459.8,606.4 L461.2,606.4 L462.6,606.4 L464.1,606.4 L465.5,606.4 L467.0,606.4 L468.4,606.3 L469.8,606.4 L471.3,606.4 L472.7,606.5 L474.2,606.5 L475.6,606.5 L477.0,606.5 L478.5,606.6 L479.9,606.5 L481.4,606.5 L482.8,606.5 L484.2,606.5 L485.7,606.5 L487.1,606.5 L488.6,606.6 L490.0,608.0 L490.0,608.8 L488.6,610.4 L487.1,610.6 L485.7,610.6 L484.2,610.6 L482.8,610.6 L481.4,610.5 L479.9,610.6 L478.5,610.7 L477.0,610.7 L475.6,610.7 L474.2,610.7 L472.7,610.7 L471.3,610.6 L469.8,610.6 L468.4,610.6 L467.0,610.7 L465.5,610.7 L464.1,610.8 L462.6,610.7 L461.2,610.8 L459.8,610.7 L458.3,610.7 L456.9,610.7 L455.4,610.7 L454.0,610.7 L452.6,610.6 L451.1,610.7 L449.7,610.8 L448.2,610.7 L446.8,610.7 L445.4,610.7 L443.9,610.7 L442.5,610.7 L441.0,610.6 L439.6,610.5 L438.2,610.5 L436.7,610.5 L435.3,610.5 L433.8,610.5 L432.4,610.5 L431.0,610.4 L429.5,610.4 L428.1,610.3 L426.6,610.3 L425.2,610.3 L423.8,610.4 L422.3,610.4 L420.9,610.5 L419.4,610.4 L418.0,610.4 L416.6,610.3 L415.1,610.4 L413.7,610.4 L412.2,610.4 L410.8,610.4 L409.4,610.4 L407.9,610.5 L406.5,610.6 L405.0,610.7 L403.6,610.6 L402.2,610.7 L400.7,610.7 L399.3,610.8 L397.8,610.8 L396.4,610.9 L395.0,611.0 L393.5,611.1 L392.1,611.3 L390.6,611.2 L389.2,609.3 Z" fill="url(#cg6)" stroke="#cfb478" stroke-width="0.4"/>
<defs><linearGradient id="cg6h" x1="0" x2="1" y1="0" y2="0"><stop offset="0" stop-color="#a89040" stop-opacity="0.45"/><stop offset="0.3" stop-color="#a89040" stop-opacity="0.2"/><stop offset="1" stop-color="#a89040" stop-opacity="0.0"/></linearGradient></defs>
<path d="M389.2,608.1 L390.6,606.3 L392.1,606.1 L393.5,606.1 L395.0,606.0 L396.4,606.1 L397.8,606.1 L399.3,606.3 L400.7,606.3 L402.2,606.3 L403.6,606.4 L405.0,606.5 L406.5,606.5 L407.9,606.5 L409.4,606.4 L410.8,606.3 L412.2,606.4 L413.7,606.4 L415.1,606.4 L416.6,606.3 L418.0,606.4 L419.4,606.4 L420.9,606.5 L422.3,606.5 L423.8,606.4 L425.2,606.3 L426.6,606.3 L428.1,606.3 L429.5,606.3 L431.0,606.3 L432.4,606.5 L433.8,606.5 L435.3,606.4 L436.7,606.4 L438.2,606.4 L439.6,606.4 L441.0,606.5 L442.5,606.5 L443.9,606.5 L445.4,606.5 L446.8,606.4 L448.2,606.4 L449.7,606.5 L451.1,606.4 L452.6,606.2 L454.0,606.3 L455.4,606.4 L456.9,606.4 L458.3,606.4 L459.8,606.4 L461.2,606.4 L462.6,606.4 L464.1,606.4 L465.5,606.4 L467.0,606.4 L468.4,606.3 L469.8,606.4 L471.3,606.4 L472.7,606.5 L474.2,606.5 L475.6,606.5 L477.0,606.5 L478.5,606.6 L479.9,606.5 L481.4,606.5 L482.8,606.5 L484.2,606.5 L485.7,606.5 L487.1,606.5 L488.6,606.6 L490.0,608.0 L490.0,608.8 L488.6,610.4 L487.1,610.6 L485.7,610.6 L484.2,610.6 L482.8,610.6 L481.4,610.5 L479.9,610.6 L478.5,610.7 L477.0,610.7 L475.6,610.7 L474.2,610.7 L472.7,610.7 L471.3,610.6 L469.8,610.6 L468.4,610.6 L467.0,610.7 L465.5,610.7 L464.1,610.8 L462.6,610.7 L461.2,610.8 L459.8,610.7 L458.3,610.7 L456.9,610.7 L455.4,610.7 L454.0,610.7 L452.6,610.6 L451.1,610.7 L449.7,610.8 L448.2,610.7 L446.8,610.7 L445.4,610.7 L443.9,610.7 L442.5,610.7 L441.0,610.6 L439.6,610.5 L438.2,610.5 L436.7,610.5 L435.3,610.5 L433.8,610.5 L432.4,610.5 L431.0,610.4 L429.5,610.4 L428.1,610.3 L426.6,610.3 L425.2,610.3 L423.8,610.4 L422.3,610.4 L420.9,610.5 L419.4,610.4 L418.0,610.4 L416.6,610.3 L415.1,610.4 L413.7,610.4 L412.2,610.4 L410.8,610.4 L409.4,610.4 L407.9,610.5 L406.5,610.6 L405.0,610.7 L403.6,610.6 L402.2,610.7 L400.7,610.7 L399.3,610.8 L397.8,610.8 L396.4,610.9 L395.0,611.0 L393.5,611.1 L392.1,611.3 L390.6,611.2 L389.2,609.3 Z" fill="url(#cg6h)"/>
<g clip-path="url(#cg6c)"><circle cx="415.3" cy="609.3" r="0.57" fill="#a07040" opacity="0.6"/><circle cx="474.8" cy="607.3" r="0.39" fill="#a07040" opacity="0.6"/><circle cx="404.0" cy="607.5" r="0.59" fill="#a07040" opacity="0.6"/><circle cx="402.3" cy="608.7" r="0.39" fill="#a07040" opacity="0.6"/><circle cx="418.9" cy="608.3" r="0.64" fill="#a07040" opacity="0.6"/><circle cx="450.5" cy="606.7" r="0.41" fill="#a07040" opacity="0.6"/><circle cx="404.0" cy="610.1" r="0.62" fill="#a07040" opacity="0.6"/><circle cx="470.4" cy="609.9" r="0.60" fill="#a07040" opacity="0.6"/><circle cx="484.9" cy="609.8" r="0.40" fill="#a07040" opacity="0.6"/><circle cx="474.9" cy="608.5" r="0.60" fill="#a07040" opacity="0.6"/><circle cx="446.1" cy="608.3" r="0.45" fill="#a07040" opacity="0.6"/><circle cx="432.5" cy="607.9" r="0.35" fill="#a07040" opacity="0.6"/><circle cx="471.8" cy="609.8" r="0.69" fill="#a07040" opacity="0.6"/><circle cx="458.8" cy="608.8" r="0.60" fill="#a07040" opacity="0.6"/><circle cx="402.8" cy="609.3" r="0.48" fill="#a07040" opacity="0.6"/><circle cx="407.0" cy="607.4" r="0.51" fill="#a07040" opacity="0.6"/><circle cx="414.7" cy="608.4" r="0.54" fill="#a07040" opacity="0.6"/><circle cx="429.1" cy="607.1" r="0.50" fill="#a07040" opacity="0.6"/><circle cx="412.9" cy="607.5" r="0.38" fill="#a07040" opacity="0.6"/><circle cx="426.1" cy="606.9" r="0.56" fill="#a07040" opacity="0.6"/><circle cx="485.3" cy="608.2" r="0.59" fill="#a07040" opacity="0.6"/><circle cx="483.2" cy="606.8" r="0.36" fill="#a07040" opacity="0.6"/><circle cx="470.5" cy="610.0" r="0.56" fill="#a07040" opacity="0.6"/><circle cx="405.3" cy="608.3" r="0.65" fill="#a07040" opacity="0.6"/><circle cx="478.5" cy="609.8" r="0.38" fill="#a07040" opacity="0.6"/></g>
<ellipse cx="393.20" cy="608.67" rx="4" ry="2.40" fill="#cfb478" opacity="0.45"/>
<ellipse cx="432.00" cy="609.00" rx="4.8" ry="3.8" fill="#a06a44" opacity="0.9"/>
<ellipse cx="472.40" cy="610.50" rx="3.4" ry="2.2" fill="#7a3a2a" opacity="0.9"/>
<path d="M408.50,567.90 L411.30,569.50 L408.50,570.90 Z" fill="#ee2222"/>
<path d="M439.50,563.40 L442.30,565.00 L439.50,566.40 Z" fill="#ee2222"/>
<path d="M446.50,570.90 L449.30,572.50 L446.50,573.90 Z" fill="#ee2222"/>
<path d="M404.50,584.40 L407.30,586.00 L404.50,587.40 Z" fill="#ee2222"/>
<path d="M416.50,585.90 L419.30,587.50 L416.50,588.90 Z" fill="#ee2222"/>
<path d="M483.00,587.20 L485.80,588.80 L483.00,590.20 Z" fill="#ee2222"/>
<path d="M431.50,601.40 L434.30,603.00 L431.50,604.40 Z" fill="#ee2222"/>
<path d="M473.00,603.40 L475.80,605.00 L473.00,606.40 Z" fill="#ee2222"/>
<defs><linearGradient id="cg7" x1="0" y1="0" x2="0" y2="1"><stop offset="0" stop-color="#d9c898"/><stop offset="0.45" stop-color="#f5f0da"/><stop offset="1" stop-color="#d9c898"/></linearGradient><clipPath id="cg7c"><path d="M391.0,629.0 L392.6,627.1 L394.2,627.1 L395.8,627.0 L397.5,627.2 L399.1,627.2 L400.7,627.3 L402.3,627.4 L403.9,627.4 L405.5,627.5 L407.1,627.5 L408.8,627.6 L410.4,627.7 L412.0,627.8 L413.6,627.7 L415.2,627.7 L416.8,627.8 L418.4,627.7 L420.1,627.7 L421.7,627.8 L423.3,627.8 L424.9,627.8 L426.5,627.9 L428.1,627.9 L429.7,627.8 L431.4,627.9 L433.0,627.9 L434.6,628.0 L436.2,628.0 L437.8,628.1 L439.4,628.2 L441.0,628.1 L442.7,628.0 L444.3,628.0 L445.9,628.0 L447.5,628.0 L449.1,628.0 L450.7,627.9 L452.3,627.9 L454.0,627.9 L455.6,627.9 L457.2,627.9 L458.8,627.9 L460.4,628.0 L462.0,627.9 L463.6,627.9 L465.3,627.9 L466.9,627.9 L468.5,627.9 L470.1,627.9 L471.7,627.9 L473.3,627.9 L474.9,627.9 L476.6,627.9 L478.2,627.9 L479.8,627.9 L481.4,627.9 L483.0,627.9 L484.6,627.8 L486.2,627.7 L487.9,627.7 L489.5,627.4 L491.1,627.1 L492.7,626.5 L494.3,625.9 L495.9,625.5 L497.5,625.4 L499.2,625.8 L500.8,626.3 L502.4,627.0 L504.0,628.8 L504.0,630.5 L502.4,632.3 L500.8,632.8 L499.2,633.3 L497.5,633.6 L495.9,633.5 L494.3,633.1 L492.7,632.6 L491.1,632.2 L489.5,632.0 L487.9,632.0 L486.2,631.9 L484.6,632.0 L483.0,632.0 L481.4,632.0 L479.8,631.9 L478.2,631.9 L476.6,631.9 L474.9,631.9 L473.3,632.0 L471.7,632.0 L470.1,631.9 L468.5,631.9 L466.9,632.0 L465.3,632.0 L463.6,632.0 L462.0,632.1 L460.4,632.2 L458.8,632.0 L457.2,632.0 L455.6,632.0 L454.0,632.0 L452.3,632.1 L450.7,632.1 L449.1,632.1 L447.5,632.2 L445.9,632.2 L444.3,632.3 L442.7,632.3 L441.0,632.3 L439.4,632.3 L437.8,632.3 L436.2,632.2 L434.6,632.1 L433.0,632.1 L431.4,632.0 L429.7,632.0 L428.1,632.0 L426.5,631.9 L424.9,631.9 L423.3,631.9 L421.7,631.8 L420.1,631.8 L418.4,631.8 L416.8,631.8 L415.2,631.7 L413.6,631.6 L412.0,631.7 L410.4,631.6 L408.8,631.7 L407.1,631.7 L405.5,631.7 L403.9,631.8 L402.3,631.9 L400.7,632.0 L399.1,632.0 L397.5,632.0 L395.8,632.0 L394.2,632.2 L392.6,632.1 L391.0,630.3 Z"/></clipPath></defs>
<path d="M391.0,629.0 L392.6,627.1 L394.2,627.1 L395.8,627.0 L397.5,627.2 L399.1,627.2 L400.7,627.3 L402.3,627.4 L403.9,627.4 L405.5,627.5 L407.1,627.5 L408.8,627.6 L410.4,627.7 L412.0,627.8 L413.6,627.7 L415.2,627.7 L416.8,627.8 L418.4,627.7 L420.1,627.7 L421.7,627.8 L423.3,627.8 L424.9,627.8 L426.5,627.9 L428.1,627.9 L429.7,627.8 L431.4,627.9 L433.0,627.9 L434.6,628.0 L436.2,628.0 L437.8,628.1 L439.4,628.2 L441.0,628.1 L442.7,628.0 L444.3,628.0 L445.9,628.0 L447.5,628.0 L449.1,628.0 L450.7,627.9 L452.3,627.9 L454.0,627.9 L455.6,627.9 L457.2,627.9 L458.8,627.9 L460.4,628.0 L462.0,627.9 L463.6,627.9 L465.3,627.9 L466.9,627.9 L468.5,627.9 L470.1,627.9 L471.7,627.9 L473.3,627.9 L474.9,627.9 L476.6,627.9 L478.2,627.9 L479.8,627.9 L481.4,627.9 L483.0,627.9 L484.6,627.8 L486.2,627.7 L487.9,627.7 L489.5,627.4 L491.1,627.1 L492.7,626.5 L494.3,625.9 L495.9,625.5 L497.5,625.4 L499.2,625.8 L500.8,626.3 L502.4,627.0 L504.0,628.8 L504.0,630.5 L502.4,632.3 L500.8,632.8 L499.2,633.3 L497.5,633.6 L495.9,633.5 L494.3,633.1 L492.7,632.6 L491.1,632.2 L489.5,632.0 L487.9,632.0 L486.2,631.9 L484.6,632.0 L483.0,632.0 L481.4,632.0 L479.8,631.9 L478.2,631.9 L476.6,631.9 L474.9,631.9 L473.3,632.0 L471.7,632.0 L470.1,631.9 L468.5,631.9 L466.9,632.0 L465.3,632.0 L463.6,632.0 L462.0,632.1 L460.4,632.2 L458.8,632.0 L457.2,632.0 L455.6,632.0 L454.0,632.0 L452.3,632.1 L450.7,632.1 L449.1,632.1 L447.5,632.2 L445.9,632.2 L444.3,632.3 L442.7,632.3 L441.0,632.3 L439.4,632.3 L437.8,632.3 L436.2,632.2 L434.6,632.1 L433.0,632.1 L431.4,632.0 L429.7,632.0 L428.1,632.0 L426.5,631.9 L424.9,631.9 L423.3,631.9 L421.7,631.8 L420.1,631.8 L418.4,631.8 L416.8,631.8 L415.2,631.7 L413.6,631.6 L412.0,631.7 L410.4,631.6 L408.8,631.7 L407.1,631.7 L405.5,631.7 L403.9,631.8 L402.3,631.9 L400.7,632.0 L399.1,632.0 L397.5,632.0 L395.8,632.0 L394.2,632.2 L392.6,632.1 L391.0,630.3 Z" fill="url(#cg7)" stroke="#d9c898" stroke-width="0.4"/>
<defs><linearGradient id="cg7h" x1="0" x2="1" y1="0" y2="0"><stop offset="0" stop-color="#b08040" stop-opacity="0"/><stop offset="0.6" stop-color="#b08040" stop-opacity="0.0"/><stop offset="0.85" stop-color="#a07030" stop-opacity="0.5"/><stop offset="1" stop-color="#905020" stop-opacity="0.7"/></linearGradient></defs>
<path d="M391.0,629.0 L392.6,627.1 L394.2,627.1 L395.8,627.0 L397.5,627.2 L399.1,627.2 L400.7,627.3 L402.3,627.4 L403.9,627.4 L405.5,627.5 L407.1,627.5 L408.8,627.6 L410.4,627.7 L412.0,627.8 L413.6,627.7 L415.2,627.7 L416.8,627.8 L418.4,627.7 L420.1,627.7 L421.7,627.8 L423.3,627.8 L424.9,627.8 L426.5,627.9 L428.1,627.9 L429.7,627.8 L431.4,627.9 L433.0,627.9 L434.6,628.0 L436.2,628.0 L437.8,628.1 L439.4,628.2 L441.0,628.1 L442.7,628.0 L444.3,628.0 L445.9,628.0 L447.5,628.0 L449.1,628.0 L450.7,627.9 L452.3,627.9 L454.0,627.9 L455.6,627.9 L457.2,627.9 L458.8,627.9 L460.4,628.0 L462.0,627.9 L463.6,627.9 L465.3,627.9 L466.9,627.9 L468.5,627.9 L470.1,627.9 L471.7,627.9 L473.3,627.9 L474.9,627.9 L476.6,627.9 L478.2,627.9 L479.8,627.9 L481.4,627.9 L483.0,627.9 L484.6,627.8 L486.2,627.7 L487.9,627.7 L489.5,627.4 L491.1,627.1 L492.7,626.5 L494.3,625.9 L495.9,625.5 L497.5,625.4 L499.2,625.8 L500.8,626.3 L502.4,627.0 L504.0,628.8 L504.0,630.5 L502.4,632.3 L500.8,632.8 L499.2,633.3 L497.5,633.6 L495.9,633.5 L494.3,633.1 L492.7,632.6 L491.1,632.2 L489.5,632.0 L487.9,632.0 L486.2,631.9 L484.6,632.0 L483.0,632.0 L481.4,632.0 L479.8,631.9 L478.2,631.9 L476.6,631.9 L474.9,631.9 L473.3,632.0 L471.7,632.0 L470.1,631.9 L468.5,631.9 L466.9,632.0 L465.3,632.0 L463.6,632.0 L462.0,632.1 L460.4,632.2 L458.8,632.0 L457.2,632.0 L455.6,632.0 L454.0,632.0 L452.3,632.1 L450.7,632.1 L449.1,632.1 L447.5,632.2 L445.9,632.2 L444.3,632.3 L442.7,632.3 L441.0,632.3 L439.4,632.3 L437.8,632.3 L436.2,632.2 L434.6,632.1 L433.0,632.1 L431.4,632.0 L429.7,632.0 L428.1,632.0 L426.5,631.9 L424.9,631.9 L423.3,631.9 L421.7,631.8 L420.1,631.8 L418.4,631.8 L416.8,631.8 L415.2,631.7 L413.6,631.6 L412.0,631.7 L410.4,631.6 L408.8,631.7 L407.1,631.7 L405.5,631.7 L403.9,631.8 L402.3,631.9 L400.7,632.0 L399.1,632.0 L397.5,632.0 L395.8,632.0 L394.2,632.2 L392.6,632.1 L391.0,630.3 Z" fill="url(#cg7h)"/>
<ellipse cx="497.00" cy="629.50" rx="5" ry="3.5" fill="#9a6038" opacity="0.9"/>
<defs><linearGradient id="cg8" x1="0" y1="0" x2="0" y2="1"><stop offset="0" stop-color="#d9c898"/><stop offset="0.45" stop-color="#f5f0da"/><stop offset="1" stop-color="#d9c898"/></linearGradient><clipPath id="cg8c"><path d="M389.0,646.9 L390.6,645.0 L392.3,645.0 L393.9,645.2 L395.5,645.1 L397.1,645.3 L398.8,645.4 L400.4,645.4 L402.0,645.5 L403.7,645.5 L405.3,645.5 L406.9,645.6 L408.5,645.7 L410.2,645.7 L411.8,645.7 L413.4,645.7 L415.1,645.7 L416.7,645.7 L418.3,645.7 L419.9,645.7 L421.6,645.7 L423.2,645.7 L424.8,645.8 L426.5,645.7 L428.1,645.7 L429.7,645.8 L431.3,645.7 L433.0,645.7 L434.6,645.6 L436.2,645.6 L437.9,645.6 L439.5,645.6 L441.1,645.5 L442.7,645.5 L444.4,645.5 L446.0,645.5 L447.6,645.5 L449.3,645.4 L450.9,645.3 L452.5,645.3 L454.1,645.0 L455.8,644.5 L457.4,643.9 L459.0,643.2 L460.7,643.1 L462.3,643.6 L463.9,644.3 L465.5,644.8 L467.2,645.0 L468.8,645.1 L470.4,645.1 L472.1,645.1 L473.7,645.2 L475.3,645.2 L476.9,645.2 L478.6,645.3 L480.2,645.3 L481.8,645.3 L483.5,645.4 L485.1,645.4 L486.7,645.3 L488.3,645.3 L490.0,645.3 L491.6,645.3 L493.2,645.3 L494.9,645.3 L496.5,645.3 L498.1,645.3 L499.7,645.3 L501.4,645.3 L503.0,646.7 L503.0,647.6 L501.4,649.2 L499.7,649.3 L498.1,649.3 L496.5,649.4 L494.9,649.4 L493.2,649.5 L491.6,649.4 L490.0,649.3 L488.3,649.4 L486.7,649.4 L485.1,649.4 L483.5,649.4 L481.8,649.4 L480.2,649.4 L478.6,649.3 L476.9,649.3 L475.3,649.3 L473.7,649.2 L472.1,649.1 L470.4,649.2 L468.8,649.3 L467.2,649.3 L465.5,649.5 L463.9,649.9 L462.3,650.3 L460.7,650.6 L459.0,650.5 L457.4,650.3 L455.8,649.7 L454.1,649.4 L452.5,649.4 L450.9,649.3 L449.3,649.4 L447.6,649.4 L446.0,649.5 L444.4,649.5 L442.7,649.5 L441.1,649.5 L439.5,649.6 L437.9,649.6 L436.2,649.6 L434.6,649.6 L433.0,649.8 L431.3,649.8 L429.7,649.8 L428.1,649.8 L426.5,649.8 L424.8,649.9 L423.2,649.8 L421.6,649.8 L419.9,649.9 L418.3,649.9 L416.7,649.9 L415.1,649.9 L413.4,649.9 L411.8,649.9 L410.2,649.9 L408.5,649.9 L406.9,649.9 L405.3,649.9 L403.7,650.0 L402.0,650.1 L400.4,650.1 L398.8,650.0 L397.1,650.1 L395.5,650.0 L393.9,650.1 L392.3,650.1 L390.6,650.0 L389.0,648.1 Z"/></clipPath></defs>
<path d="M389.0,646.9 L390.6,645.0 L392.3,645.0 L393.9,645.2 L395.5,645.1 L397.1,645.3 L398.8,645.4 L400.4,645.4 L402.0,645.5 L403.7,645.5 L405.3,645.5 L406.9,645.6 L408.5,645.7 L410.2,645.7 L411.8,645.7 L413.4,645.7 L415.1,645.7 L416.7,645.7 L418.3,645.7 L419.9,645.7 L421.6,645.7 L423.2,645.7 L424.8,645.8 L426.5,645.7 L428.1,645.7 L429.7,645.8 L431.3,645.7 L433.0,645.7 L434.6,645.6 L436.2,645.6 L437.9,645.6 L439.5,645.6 L441.1,645.5 L442.7,645.5 L444.4,645.5 L446.0,645.5 L447.6,645.5 L449.3,645.4 L450.9,645.3 L452.5,645.3 L454.1,645.0 L455.8,644.5 L457.4,643.9 L459.0,643.2 L460.7,643.1 L462.3,643.6 L463.9,644.3 L465.5,644.8 L467.2,645.0 L468.8,645.1 L470.4,645.1 L472.1,645.1 L473.7,645.2 L475.3,645.2 L476.9,645.2 L478.6,645.3 L480.2,645.3 L481.8,645.3 L483.5,645.4 L485.1,645.4 L486.7,645.3 L488.3,645.3 L490.0,645.3 L491.6,645.3 L493.2,645.3 L494.9,645.3 L496.5,645.3 L498.1,645.3 L499.7,645.3 L501.4,645.3 L503.0,646.7 L503.0,647.6 L501.4,649.2 L499.7,649.3 L498.1,649.3 L496.5,649.4 L494.9,649.4 L493.2,649.5 L491.6,649.4 L490.0,649.3 L488.3,649.4 L486.7,649.4 L485.1,649.4 L483.5,649.4 L481.8,649.4 L480.2,649.4 L478.6,649.3 L476.9,649.3 L475.3,649.3 L473.7,649.2 L472.1,649.1 L470.4,649.2 L468.8,649.3 L467.2,649.3 L465.5,649.5 L463.9,649.9 L462.3,650.3 L460.7,650.6 L459.0,650.5 L457.4,650.3 L455.8,649.7 L454.1,649.4 L452.5,649.4 L450.9,649.3 L449.3,649.4 L447.6,649.4 L446.0,649.5 L444.4,649.5 L442.7,649.5 L441.1,649.5 L439.5,649.6 L437.9,649.6 L436.2,649.6 L434.6,649.6 L433.0,649.8 L431.3,649.8 L429.7,649.8 L428.1,649.8 L426.5,649.8 L424.8,649.9 L423.2,649.8 L421.6,649.8 L419.9,649.9 L418.3,649.9 L416.7,649.9 L415.1,649.9 L413.4,649.9 L411.8,649.9 L410.2,649.9 L408.5,649.9 L406.9,649.9 L405.3,649.9 L403.7,650.0 L402.0,650.1 L400.4,650.1 L398.8,650.0 L397.1,650.1 L395.5,650.0 L393.9,650.1 L392.3,650.1 L390.6,650.0 L389.0,648.1 Z" fill="url(#cg8)" stroke="#d9c898" stroke-width="0.4"/>
<defs><linearGradient id="cg8h" x1="0" x2="1" y1="0" y2="0"><stop offset="0" stop-color="#b08a40" stop-opacity="0.55"/><stop offset="0.12" stop-color="#b08a40" stop-opacity="0.1"/><stop offset="1" stop-color="#b08a40" stop-opacity="0"/></linearGradient></defs>
<path d="M389.0,646.9 L390.6,645.0 L392.3,645.0 L393.9,645.2 L395.5,645.1 L397.1,645.3 L398.8,645.4 L400.4,645.4 L402.0,645.5 L403.7,645.5 L405.3,645.5 L406.9,645.6 L408.5,645.7 L410.2,645.7 L411.8,645.7 L413.4,645.7 L415.1,645.7 L416.7,645.7 L418.3,645.7 L419.9,645.7 L421.6,645.7 L423.2,645.7 L424.8,645.8 L426.5,645.7 L428.1,645.7 L429.7,645.8 L431.3,645.7 L433.0,645.7 L434.6,645.6 L436.2,645.6 L437.9,645.6 L439.5,645.6 L441.1,645.5 L442.7,645.5 L444.4,645.5 L446.0,645.5 L447.6,645.5 L449.3,645.4 L450.9,645.3 L452.5,645.3 L454.1,645.0 L455.8,644.5 L457.4,643.9 L459.0,643.2 L460.7,643.1 L462.3,643.6 L463.9,644.3 L465.5,644.8 L467.2,645.0 L468.8,645.1 L470.4,645.1 L472.1,645.1 L473.7,645.2 L475.3,645.2 L476.9,645.2 L478.6,645.3 L480.2,645.3 L481.8,645.3 L483.5,645.4 L485.1,645.4 L486.7,645.3 L488.3,645.3 L490.0,645.3 L491.6,645.3 L493.2,645.3 L494.9,645.3 L496.5,645.3 L498.1,645.3 L499.7,645.3 L501.4,645.3 L503.0,646.7 L503.0,647.6 L501.4,649.2 L499.7,649.3 L498.1,649.3 L496.5,649.4 L494.9,649.4 L493.2,649.5 L491.6,649.4 L490.0,649.3 L488.3,649.4 L486.7,649.4 L485.1,649.4 L483.5,649.4 L481.8,649.4 L480.2,649.4 L478.6,649.3 L476.9,649.3 L475.3,649.3 L473.7,649.2 L472.1,649.1 L470.4,649.2 L468.8,649.3 L467.2,649.3 L465.5,649.5 L463.9,649.9 L462.3,650.3 L460.7,650.6 L459.0,650.5 L457.4,650.3 L455.8,649.7 L454.1,649.4 L452.5,649.4 L450.9,649.3 L449.3,649.4 L447.6,649.4 L446.0,649.5 L444.4,649.5 L442.7,649.5 L441.1,649.5 L439.5,649.6 L437.9,649.6 L436.2,649.6 L434.6,649.6 L433.0,649.8 L431.3,649.8 L429.7,649.8 L428.1,649.8 L426.5,649.8 L424.8,649.9 L423.2,649.8 L421.6,649.8 L419.9,649.9 L418.3,649.9 L416.7,649.9 L415.1,649.9 L413.4,649.9 L411.8,649.9 L410.2,649.9 L408.5,649.9 L406.9,649.9 L405.3,649.9 L403.7,650.0 L402.0,650.1 L400.4,650.1 L398.8,650.0 L397.1,650.1 L395.5,650.0 L393.9,650.1 L392.3,650.1 L390.6,650.0 L389.0,648.1 Z" fill="url(#cg8h)"/>
<ellipse cx="393.00" cy="647.62" rx="4" ry="2.30" fill="#d9c898" opacity="0.45"/>
<ellipse cx="460.00" cy="646.50" rx="3.5" ry="3.0" fill="#d0b078" opacity="0.9"/>
<defs><linearGradient id="cg9" x1="0" y1="0" x2="0" y2="1"><stop offset="0" stop-color="#d9c898"/><stop offset="0.45" stop-color="#f5f0da"/><stop offset="1" stop-color="#d9c898"/></linearGradient><clipPath id="cg9c"><path d="M388.0,664.0 L389.7,662.0 L391.4,662.0 L393.1,662.0 L394.7,662.1 L396.4,662.1 L398.1,662.2 L399.8,662.3 L401.5,662.3 L403.2,662.3 L404.9,662.3 L406.5,662.4 L408.2,662.4 L409.9,662.5 L411.6,662.5 L413.3,662.5 L415.0,662.6 L416.7,662.6 L418.3,662.6 L420.0,662.6 L421.7,662.5 L423.4,662.5 L425.1,662.6 L426.8,662.5 L428.5,662.5 L430.1,662.5 L431.8,662.6 L433.5,662.6 L435.2,662.5 L436.9,662.6 L438.6,662.6 L440.3,662.5 L441.9,662.5 L443.6,662.4 L445.3,662.5 L447.0,662.5 L448.7,662.6 L450.4,662.5 L452.1,662.5 L453.7,662.5 L455.4,662.5 L457.1,662.5 L458.8,662.5 L460.5,662.5 L462.2,662.4 L463.9,662.5 L465.5,662.5 L467.2,662.4 L468.9,662.3 L470.6,662.0 L472.3,661.4 L474.0,660.7 L475.7,660.2 L477.3,660.5 L479.0,661.2 L480.7,662.0 L482.4,662.4 L484.1,662.6 L485.8,662.7 L487.5,662.6 L489.1,662.7 L490.8,662.7 L492.5,662.6 L494.2,662.6 L495.9,662.6 L497.6,662.6 L499.3,662.6 L500.9,662.7 L502.6,662.6 L504.3,662.6 L506.0,664.2 L506.0,665.2 L504.3,666.7 L502.6,666.8 L500.9,666.9 L499.3,666.9 L497.6,666.9 L495.9,666.9 L494.2,666.9 L492.5,666.9 L490.8,666.9 L489.1,666.9 L487.5,666.8 L485.8,667.0 L484.1,666.9 L482.4,667.1 L480.7,667.4 L479.0,667.8 L477.3,668.3 L475.7,668.5 L474.0,668.1 L472.3,667.6 L470.6,667.1 L468.9,666.9 L467.2,666.8 L465.5,666.9 L463.9,666.9 L462.2,666.9 L460.5,666.9 L458.8,666.9 L457.1,666.9 L455.4,666.9 L453.7,666.9 L452.1,666.9 L450.4,666.9 L448.7,667.0 L447.0,667.0 L445.3,667.0 L443.6,666.9 L441.9,667.0 L440.3,667.0 L438.6,667.0 L436.9,667.0 L435.2,666.9 L433.5,667.0 L431.8,667.0 L430.1,666.9 L428.5,666.9 L426.8,666.9 L425.1,667.0 L423.4,666.9 L421.7,666.9 L420.0,666.9 L418.3,666.9 L416.7,666.9 L415.0,666.9 L413.3,666.8 L411.6,666.8 L409.9,666.8 L408.2,666.7 L406.5,666.8 L404.9,666.8 L403.2,666.9 L401.5,667.0 L399.8,667.1 L398.1,667.2 L396.4,667.1 L394.7,667.2 L393.1,667.2 L391.4,667.3 L389.7,667.2 L388.0,665.3 Z"/></clipPath></defs>
<path d="M388.0,664.0 L389.7,662.0 L391.4,662.0 L393.1,662.0 L394.7,662.1 L396.4,662.1 L398.1,662.2 L399.8,662.3 L401.5,662.3 L403.2,662.3 L404.9,662.3 L406.5,662.4 L408.2,662.4 L409.9,662.5 L411.6,662.5 L413.3,662.5 L415.0,662.6 L416.7,662.6 L418.3,662.6 L420.0,662.6 L421.7,662.5 L423.4,662.5 L425.1,662.6 L426.8,662.5 L428.5,662.5 L430.1,662.5 L431.8,662.6 L433.5,662.6 L435.2,662.5 L436.9,662.6 L438.6,662.6 L440.3,662.5 L441.9,662.5 L443.6,662.4 L445.3,662.5 L447.0,662.5 L448.7,662.6 L450.4,662.5 L452.1,662.5 L453.7,662.5 L455.4,662.5 L457.1,662.5 L458.8,662.5 L460.5,662.5 L462.2,662.4 L463.9,662.5 L465.5,662.5 L467.2,662.4 L468.9,662.3 L470.6,662.0 L472.3,661.4 L474.0,660.7 L475.7,660.2 L477.3,660.5 L479.0,661.2 L480.7,662.0 L482.4,662.4 L484.1,662.6 L485.8,662.7 L487.5,662.6 L489.1,662.7 L490.8,662.7 L492.5,662.6 L494.2,662.6 L495.9,662.6 L497.6,662.6 L499.3,662.6 L500.9,662.7 L502.6,662.6 L504.3,662.6 L506.0,664.2 L506.0,665.2 L504.3,666.7 L502.6,666.8 L500.9,666.9 L499.3,666.9 L497.6,666.9 L495.9,666.9 L494.2,666.9 L492.5,666.9 L490.8,666.9 L489.1,666.9 L487.5,666.8 L485.8,667.0 L484.1,666.9 L482.4,667.1 L480.7,667.4 L479.0,667.8 L477.3,668.3 L475.7,668.5 L474.0,668.1 L472.3,667.6 L470.6,667.1 L468.9,666.9 L467.2,666.8 L465.5,666.9 L463.9,666.9 L462.2,666.9 L460.5,666.9 L458.8,666.9 L457.1,666.9 L455.4,666.9 L453.7,666.9 L452.1,666.9 L450.4,666.9 L448.7,667.0 L447.0,667.0 L445.3,667.0 L443.6,666.9 L441.9,667.0 L440.3,667.0 L438.6,667.0 L436.9,667.0 L435.2,666.9 L433.5,667.0 L431.8,667.0 L430.1,666.9 L428.5,666.9 L426.8,666.9 L425.1,667.0 L423.4,666.9 L421.7,666.9 L420.0,666.9 L418.3,666.9 L416.7,666.9 L415.0,666.9 L413.3,666.8 L411.6,666.8 L409.9,666.8 L408.2,666.7 L406.5,666.8 L404.9,666.8 L403.2,666.9 L401.5,667.0 L399.8,667.1 L398.1,667.2 L396.4,667.1 L394.7,667.2 L393.1,667.2 L391.4,667.3 L389.7,667.2 L388.0,665.3 Z" fill="url(#cg9)" stroke="#d9c898" stroke-width="0.4"/>
<defs><linearGradient id="cg9h" x1="0" x2="1" y1="0" y2="0"><stop offset="0" stop-color="#c09040" stop-opacity="0.6"/><stop offset="0.15" stop-color="#c09040" stop-opacity="0.15"/><stop offset="0.7" stop-color="#c09040" stop-opacity="0.0"/><stop offset="1" stop-color="#c09040" stop-opacity="0.0"/></linearGradient></defs>
<path d="M388.0,664.0 L389.7,662.0 L391.4,662.0 L393.1,662.0 L394.7,662.1 L396.4,662.1 L398.1,662.2 L399.8,662.3 L401.5,662.3 L403.2,662.3 L404.9,662.3 L406.5,662.4 L408.2,662.4 L409.9,662.5 L411.6,662.5 L413.3,662.5 L415.0,662.6 L416.7,662.6 L418.3,662.6 L420.0,662.6 L421.7,662.5 L423.4,662.5 L425.1,662.6 L426.8,662.5 L428.5,662.5 L430.1,662.5 L431.8,662.6 L433.5,662.6 L435.2,662.5 L436.9,662.6 L438.6,662.6 L440.3,662.5 L441.9,662.5 L443.6,662.4 L445.3,662.5 L447.0,662.5 L448.7,662.6 L450.4,662.5 L452.1,662.5 L453.7,662.5 L455.4,662.5 L457.1,662.5 L458.8,662.5 L460.5,662.5 L462.2,662.4 L463.9,662.5 L465.5,662.5 L467.2,662.4 L468.9,662.3 L470.6,662.0 L472.3,661.4 L474.0,660.7 L475.7,660.2 L477.3,660.5 L479.0,661.2 L480.7,662.0 L482.4,662.4 L484.1,662.6 L485.8,662.7 L487.5,662.6 L489.1,662.7 L490.8,662.7 L492.5,662.6 L494.2,662.6 L495.9,662.6 L497.6,662.6 L499.3,662.6 L500.9,662.7 L502.6,662.6 L504.3,662.6 L506.0,664.2 L506.0,665.2 L504.3,666.7 L502.6,666.8 L500.9,666.9 L499.3,666.9 L497.6,666.9 L495.9,666.9 L494.2,666.9 L492.5,666.9 L490.8,666.9 L489.1,666.9 L487.5,666.8 L485.8,667.0 L484.1,666.9 L482.4,667.1 L480.7,667.4 L479.0,667.8 L477.3,668.3 L475.7,668.5 L474.0,668.1 L472.3,667.6 L470.6,667.1 L468.9,666.9 L467.2,666.8 L465.5,666.9 L463.9,666.9 L462.2,666.9 L460.5,666.9 L458.8,666.9 L457.1,666.9 L455.4,666.9 L453.7,666.9 L452.1,666.9 L450.4,666.9 L448.7,667.0 L447.0,667.0 L445.3,667.0 L443.6,666.9 L441.9,667.0 L440.3,667.0 L438.6,667.0 L436.9,667.0 L435.2,666.9 L433.5,667.0 L431.8,667.0 L430.1,666.9 L428.5,666.9 L426.8,666.9 L425.1,667.0 L423.4,666.9 L421.7,666.9 L420.0,666.9 L418.3,666.9 L416.7,666.9 L415.0,666.9 L413.3,666.8 L411.6,666.8 L409.9,666.8 L408.2,666.7 L406.5,666.8 L404.9,666.8 L403.2,666.9 L401.5,667.0 L399.8,667.1 L398.1,667.2 L396.4,667.1 L394.7,667.2 L393.1,667.2 L391.4,667.3 L389.7,667.2 L388.0,665.3 Z" fill="url(#cg9h)"/>
<ellipse cx="392.00" cy="664.66" rx="4" ry="2.40" fill="#d9c898" opacity="0.45"/>
<ellipse cx="476.00" cy="663.50" rx="3.5" ry="3.2" fill="#c09a60" opacity="0.9"/>
<path d="M492.50,622.90 L495.30,624.50 L492.50,625.90 Z" fill="#ee2222"/>
<path d="M458.50,639.40 L461.30,641.00 L458.50,642.40 Z" fill="#ee2222"/>
<path d="M466.50,643.90 L469.30,645.50 L466.50,646.90 Z" fill="#ee2222"/>
<path d="M476.50,657.90 L479.30,659.50 L476.50,660.90 Z" fill="#ee2222"/>
<defs><linearGradient id="cg10" x1="0" y1="0" x2="0" y2="1"><stop offset="0" stop-color="#d2ba84"/><stop offset="0.45" stop-color="#f1e9cc"/><stop offset="1" stop-color="#d2ba84"/></linearGradient><clipPath id="cg10c"><path d="M389.9,683.2 L391.6,681.4 L393.2,681.3 L394.9,681.4 L396.6,681.5 L398.2,681.6 L399.9,681.7 L401.6,681.8 L403.2,681.9 L404.9,682.0 L406.6,682.1 L408.2,682.2 L409.9,682.2 L411.6,682.3 L413.2,682.4 L414.9,682.4 L416.6,682.4 L418.2,682.4 L419.9,682.3 L421.6,682.4 L423.2,682.3 L424.9,682.3 L426.6,682.2 L428.2,682.2 L429.9,682.2 L431.6,682.1 L433.2,682.1 L434.9,682.1 L436.6,682.2 L438.2,682.3 L439.9,682.3 L441.6,682.3 L443.2,682.4 L444.9,682.4 L446.6,682.5 L448.2,682.5 L449.9,682.4 L451.6,682.4 L453.3,682.5 L454.9,682.5 L456.6,682.4 L458.3,682.4 L459.9,682.4 L461.6,682.3 L463.3,682.2 L464.9,682.2 L466.6,682.1 L468.3,682.0 L469.9,682.0 L471.6,682.0 L473.3,682.1 L474.9,682.1 L476.6,682.1 L478.3,682.0 L479.9,682.0 L481.6,682.0 L483.3,682.1 L484.9,682.1 L486.6,682.1 L488.3,682.0 L489.9,682.1 L491.6,682.1 L493.3,682.1 L494.9,682.0 L496.6,682.0 L498.3,682.0 L499.9,682.0 L501.6,682.0 L503.3,682.0 L504.9,682.1 L506.6,683.6 L506.6,684.3 L504.9,685.8 L503.3,685.7 L501.6,685.8 L499.9,685.8 L498.3,685.9 L496.6,685.8 L494.9,685.8 L493.3,685.9 L491.6,686.0 L489.9,686.1 L488.3,686.0 L486.6,686.0 L484.9,686.1 L483.3,686.1 L481.6,686.1 L479.9,686.0 L478.3,686.0 L476.6,686.2 L474.9,686.2 L473.3,686.1 L471.6,686.1 L469.9,686.1 L468.3,686.1 L466.6,686.1 L464.9,686.2 L463.3,686.2 L461.6,686.3 L459.9,686.4 L458.3,686.4 L456.6,686.4 L454.9,686.5 L453.3,686.5 L451.6,686.4 L449.9,686.4 L448.2,686.5 L446.6,686.5 L444.9,686.4 L443.2,686.4 L441.6,686.3 L439.9,686.3 L438.2,686.2 L436.6,686.2 L434.9,686.1 L433.2,686.2 L431.6,686.1 L429.9,686.2 L428.2,686.3 L426.6,686.3 L424.9,686.4 L423.2,686.5 L421.6,686.4 L419.9,686.4 L418.2,686.5 L416.6,686.4 L414.9,686.5 L413.2,686.4 L411.6,686.4 L409.9,686.3 L408.2,686.4 L406.6,686.4 L404.9,686.4 L403.2,686.3 L401.6,686.3 L399.9,686.3 L398.2,686.2 L396.6,686.2 L394.9,686.2 L393.2,686.2 L391.6,686.2 L389.9,684.3 Z"/></clipPath></defs>
<path d="M389.9,683.2 L391.6,681.4 L393.2,681.3 L394.9,681.4 L396.6,681.5 L398.2,681.6 L399.9,681.7 L401.6,681.8 L403.2,681.9 L404.9,682.0 L406.6,682.1 L408.2,682.2 L409.9,682.2 L411.6,682.3 L413.2,682.4 L414.9,682.4 L416.6,682.4 L418.2,682.4 L419.9,682.3 L421.6,682.4 L423.2,682.3 L424.9,682.3 L426.6,682.2 L428.2,682.2 L429.9,682.2 L431.6,682.1 L433.2,682.1 L434.9,682.1 L436.6,682.2 L438.2,682.3 L439.9,682.3 L441.6,682.3 L443.2,682.4 L444.9,682.4 L446.6,682.5 L448.2,682.5 L449.9,682.4 L451.6,682.4 L453.3,682.5 L454.9,682.5 L456.6,682.4 L458.3,682.4 L459.9,682.4 L461.6,682.3 L463.3,682.2 L464.9,682.2 L466.6,682.1 L468.3,682.0 L469.9,682.0 L471.6,682.0 L473.3,682.1 L474.9,682.1 L476.6,682.1 L478.3,682.0 L479.9,682.0 L481.6,682.0 L483.3,682.1 L484.9,682.1 L486.6,682.1 L488.3,682.0 L489.9,682.1 L491.6,682.1 L493.3,682.1 L494.9,682.0 L496.6,682.0 L498.3,682.0 L499.9,682.0 L501.6,682.0 L503.3,682.0 L504.9,682.1 L506.6,683.6 L506.6,684.3 L504.9,685.8 L503.3,685.7 L501.6,685.8 L499.9,685.8 L498.3,685.9 L496.6,685.8 L494.9,685.8 L493.3,685.9 L491.6,686.0 L489.9,686.1 L488.3,686.0 L486.6,686.0 L484.9,686.1 L483.3,686.1 L481.6,686.1 L479.9,686.0 L478.3,686.0 L476.6,686.2 L474.9,686.2 L473.3,686.1 L471.6,686.1 L469.9,686.1 L468.3,686.1 L466.6,686.1 L464.9,686.2 L463.3,686.2 L461.6,686.3 L459.9,686.4 L458.3,686.4 L456.6,686.4 L454.9,686.5 L453.3,686.5 L451.6,686.4 L449.9,686.4 L448.2,686.5 L446.6,686.5 L444.9,686.4 L443.2,686.4 L441.6,686.3 L439.9,686.3 L438.2,686.2 L436.6,686.2 L434.9,686.1 L433.2,686.2 L431.6,686.1 L429.9,686.2 L428.2,686.3 L426.6,686.3 L424.9,686.4 L423.2,686.5 L421.6,686.4 L419.9,686.4 L418.2,686.5 L416.6,686.4 L414.9,686.5 L413.2,686.4 L411.6,686.4 L409.9,686.3 L408.2,686.4 L406.6,686.4 L404.9,686.4 L403.2,686.3 L401.6,686.3 L399.9,686.3 L398.2,686.2 L396.6,686.2 L394.9,686.2 L393.2,686.2 L391.6,686.2 L389.9,684.3 Z" fill="url(#cg10)" stroke="#d2ba84" stroke-width="0.4"/>
<defs><linearGradient id="cg10h" x1="0" x2="1" y1="0" y2="0"><stop offset="0" stop-color="#c08a40" stop-opacity="0.6"/><stop offset="0.45" stop-color="#c08a40" stop-opacity="0.4"/><stop offset="0.7" stop-color="#c08a40" stop-opacity="0.05"/><stop offset="1" stop-color="#c08a40" stop-opacity="0"/></linearGradient></defs>
<path d="M389.9,683.2 L391.6,681.4 L393.2,681.3 L394.9,681.4 L396.6,681.5 L398.2,681.6 L399.9,681.7 L401.6,681.8 L403.2,681.9 L404.9,682.0 L406.6,682.1 L408.2,682.2 L409.9,682.2 L411.6,682.3 L413.2,682.4 L414.9,682.4 L416.6,682.4 L418.2,682.4 L419.9,682.3 L421.6,682.4 L423.2,682.3 L424.9,682.3 L426.6,682.2 L428.2,682.2 L429.9,682.2 L431.6,682.1 L433.2,682.1 L434.9,682.1 L436.6,682.2 L438.2,682.3 L439.9,682.3 L441.6,682.3 L443.2,682.4 L444.9,682.4 L446.6,682.5 L448.2,682.5 L449.9,682.4 L451.6,682.4 L453.3,682.5 L454.9,682.5 L456.6,682.4 L458.3,682.4 L459.9,682.4 L461.6,682.3 L463.3,682.2 L464.9,682.2 L466.6,682.1 L468.3,682.0 L469.9,682.0 L471.6,682.0 L473.3,682.1 L474.9,682.1 L476.6,682.1 L478.3,682.0 L479.9,682.0 L481.6,682.0 L483.3,682.1 L484.9,682.1 L486.6,682.1 L488.3,682.0 L489.9,682.1 L491.6,682.1 L493.3,682.1 L494.9,682.0 L496.6,682.0 L498.3,682.0 L499.9,682.0 L501.6,682.0 L503.3,682.0 L504.9,682.1 L506.6,683.6 L506.6,684.3 L504.9,685.8 L503.3,685.7 L501.6,685.8 L499.9,685.8 L498.3,685.9 L496.6,685.8 L494.9,685.8 L493.3,685.9 L491.6,686.0 L489.9,686.1 L488.3,686.0 L486.6,686.0 L484.9,686.1 L483.3,686.1 L481.6,686.1 L479.9,686.0 L478.3,686.0 L476.6,686.2 L474.9,686.2 L473.3,686.1 L471.6,686.1 L469.9,686.1 L468.3,686.1 L466.6,686.1 L464.9,686.2 L463.3,686.2 L461.6,686.3 L459.9,686.4 L458.3,686.4 L456.6,686.4 L454.9,686.5 L453.3,686.5 L451.6,686.4 L449.9,686.4 L448.2,686.5 L446.6,686.5 L444.9,686.4 L443.2,686.4 L441.6,686.3 L439.9,686.3 L438.2,686.2 L436.6,686.2 L434.9,686.1 L433.2,686.2 L431.6,686.1 L429.9,686.2 L428.2,686.3 L426.6,686.3 L424.9,686.4 L423.2,686.5 L421.6,686.4 L419.9,686.4 L418.2,686.5 L416.6,686.4 L414.9,686.5 L413.2,686.4 L411.6,686.4 L409.9,686.3 L408.2,686.4 L406.6,686.4 L404.9,686.4 L403.2,686.3 L401.6,686.3 L399.9,686.3 L398.2,686.2 L396.6,686.2 L394.9,686.2 L393.2,686.2 L391.6,686.2 L389.9,684.3 Z" fill="url(#cg10h)"/>
<g clip-path="url(#cg10c)"><circle cx="450.8" cy="685.3" r="0.68" fill="#a07040" opacity="0.6"/><circle cx="423.7" cy="685.2" r="0.58" fill="#a07040" opacity="0.6"/><circle cx="467.1" cy="682.5" r="0.31" fill="#a07040" opacity="0.6"/><circle cx="434.7" cy="685.1" r="0.40" fill="#a07040" opacity="0.6"/><circle cx="448.4" cy="683.4" r="0.64" fill="#a07040" opacity="0.6"/><circle cx="500.2" cy="683.7" r="0.70" fill="#a07040" opacity="0.6"/><circle cx="397.2" cy="685.4" r="0.65" fill="#a07040" opacity="0.6"/><circle cx="407.5" cy="684.9" r="0.52" fill="#a07040" opacity="0.6"/><circle cx="501.4" cy="682.9" r="0.52" fill="#a07040" opacity="0.6"/><circle cx="492.9" cy="684.7" r="0.42" fill="#a07040" opacity="0.6"/><circle cx="399.5" cy="685.9" r="0.49" fill="#a07040" opacity="0.6"/><circle cx="506.2" cy="682.7" r="0.62" fill="#a07040" opacity="0.6"/><circle cx="484.8" cy="685.8" r="0.31" fill="#a07040" opacity="0.6"/><circle cx="433.3" cy="682.3" r="0.60" fill="#a07040" opacity="0.6"/><circle cx="431.3" cy="685.9" r="0.45" fill="#a07040" opacity="0.6"/><circle cx="480.3" cy="685.6" r="0.40" fill="#a07040" opacity="0.6"/><circle cx="454.9" cy="685.9" r="0.51" fill="#a07040" opacity="0.6"/><circle cx="431.9" cy="683.2" r="0.61" fill="#a07040" opacity="0.6"/><circle cx="412.4" cy="684.5" r="0.52" fill="#a07040" opacity="0.6"/><circle cx="454.5" cy="682.6" r="0.56" fill="#a07040" opacity="0.6"/></g>
<ellipse cx="393.90" cy="683.75" rx="4" ry="2.30" fill="#d2ba84" opacity="0.45"/>
<defs><linearGradient id="cg11" x1="0" y1="0" x2="0" y2="1"><stop offset="0" stop-color="#d2ba84"/><stop offset="0.45" stop-color="#f1e9cc"/><stop offset="1" stop-color="#d2ba84"/></linearGradient><clipPath id="cg11c"><path d="M388.2,702.3 L389.8,700.4 L391.5,700.3 L393.1,700.3 L394.8,700.3 L396.4,700.3 L398.0,700.3 L399.7,700.3 L401.3,700.3 L403.0,700.3 L404.6,700.3 L406.3,700.4 L407.9,700.5 L409.5,700.5 L411.2,700.5 L412.8,700.5 L414.5,700.5 L416.1,700.5 L417.7,700.4 L419.4,700.4 L421.0,700.4 L422.7,700.4 L424.3,700.4 L426.0,700.3 L427.6,700.4 L429.2,700.4 L430.9,700.4 L432.5,700.4 L434.2,700.5 L435.8,700.5 L437.4,700.5 L439.1,700.4 L440.7,700.3 L442.4,700.3 L444.0,700.4 L445.6,700.5 L447.3,700.5 L448.9,700.5 L450.6,700.5 L452.2,700.5 L453.9,700.4 L455.5,700.5 L457.1,700.6 L458.8,700.6 L460.4,700.6 L462.1,700.5 L463.7,700.4 L465.3,700.4 L467.0,700.4 L468.6,700.4 L470.3,700.4 L471.9,700.4 L473.6,700.5 L475.2,700.4 L476.8,700.5 L478.5,700.4 L480.1,700.4 L481.8,700.4 L483.4,700.3 L485.0,700.3 L486.7,700.4 L488.3,700.4 L490.0,700.4 L491.6,700.4 L493.3,700.4 L494.9,700.4 L496.5,700.5 L498.2,700.4 L499.8,700.4 L501.5,700.5 L503.1,702.0 L503.1,702.8 L501.5,704.3 L499.8,704.4 L498.2,704.5 L496.5,704.6 L494.9,704.6 L493.3,704.5 L491.6,704.5 L490.0,704.5 L488.3,704.6 L486.7,704.6 L485.0,704.6 L483.4,704.5 L481.8,704.6 L480.1,704.6 L478.5,704.6 L476.8,704.6 L475.2,704.6 L473.6,704.6 L471.9,704.6 L470.3,704.6 L468.6,704.6 L467.0,704.6 L465.3,704.6 L463.7,704.6 L462.1,704.6 L460.4,704.7 L458.8,704.7 L457.1,704.6 L455.5,704.6 L453.9,704.5 L452.2,704.5 L450.6,704.6 L448.9,704.6 L447.3,704.6 L445.6,704.5 L444.0,704.5 L442.4,704.4 L440.7,704.4 L439.1,704.4 L437.4,704.5 L435.8,704.5 L434.2,704.4 L432.5,704.4 L430.9,704.3 L429.2,704.4 L427.6,704.4 L426.0,704.4 L424.3,704.4 L422.7,704.4 L421.0,704.5 L419.4,704.4 L417.7,704.4 L416.1,704.5 L414.5,704.5 L412.8,704.5 L411.2,704.5 L409.5,704.5 L407.9,704.5 L406.3,704.5 L404.6,704.6 L403.0,704.7 L401.3,704.8 L399.7,704.8 L398.0,705.0 L396.4,705.0 L394.8,705.1 L393.1,705.2 L391.5,705.3 L389.8,705.3 L388.2,703.4 Z"/></clipPath></defs>
<path d="M388.2,702.3 L389.8,700.4 L391.5,700.3 L393.1,700.3 L394.8,700.3 L396.4,700.3 L398.0,700.3 L399.7,700.3 L401.3,700.3 L403.0,700.3 L404.6,700.3 L406.3,700.4 L407.9,700.5 L409.5,700.5 L411.2,700.5 L412.8,700.5 L414.5,700.5 L416.1,700.5 L417.7,700.4 L419.4,700.4 L421.0,700.4 L422.7,700.4 L424.3,700.4 L426.0,700.3 L427.6,700.4 L429.2,700.4 L430.9,700.4 L432.5,700.4 L434.2,700.5 L435.8,700.5 L437.4,700.5 L439.1,700.4 L440.7,700.3 L442.4,700.3 L444.0,700.4 L445.6,700.5 L447.3,700.5 L448.9,700.5 L450.6,700.5 L452.2,700.5 L453.9,700.4 L455.5,700.5 L457.1,700.6 L458.8,700.6 L460.4,700.6 L462.1,700.5 L463.7,700.4 L465.3,700.4 L467.0,700.4 L468.6,700.4 L470.3,700.4 L471.9,700.4 L473.6,700.5 L475.2,700.4 L476.8,700.5 L478.5,700.4 L480.1,700.4 L481.8,700.4 L483.4,700.3 L485.0,700.3 L486.7,700.4 L488.3,700.4 L490.0,700.4 L491.6,700.4 L493.3,700.4 L494.9,700.4 L496.5,700.5 L498.2,700.4 L499.8,700.4 L501.5,700.5 L503.1,702.0 L503.1,702.8 L501.5,704.3 L499.8,704.4 L498.2,704.5 L496.5,704.6 L494.9,704.6 L493.3,704.5 L491.6,704.5 L490.0,704.5 L488.3,704.6 L486.7,704.6 L485.0,704.6 L483.4,704.5 L481.8,704.6 L480.1,704.6 L478.5,704.6 L476.8,704.6 L475.2,704.6 L473.6,704.6 L471.9,704.6 L470.3,704.6 L468.6,704.6 L467.0,704.6 L465.3,704.6 L463.7,704.6 L462.1,704.6 L460.4,704.7 L458.8,704.7 L457.1,704.6 L455.5,704.6 L453.9,704.5 L452.2,704.5 L450.6,704.6 L448.9,704.6 L447.3,704.6 L445.6,704.5 L444.0,704.5 L442.4,704.4 L440.7,704.4 L439.1,704.4 L437.4,704.5 L435.8,704.5 L434.2,704.4 L432.5,704.4 L430.9,704.3 L429.2,704.4 L427.6,704.4 L426.0,704.4 L424.3,704.4 L422.7,704.4 L421.0,704.5 L419.4,704.4 L417.7,704.4 L416.1,704.5 L414.5,704.5 L412.8,704.5 L411.2,704.5 L409.5,704.5 L407.9,704.5 L406.3,704.5 L404.6,704.6 L403.0,704.7 L401.3,704.8 L399.7,704.8 L398.0,705.0 L396.4,705.0 L394.8,705.1 L393.1,705.2 L391.5,705.3 L389.8,705.3 L388.2,703.4 Z" fill="url(#cg11)" stroke="#d2ba84" stroke-width="0.4"/>
<defs><linearGradient id="cg11h" x1="0" x2="1" y1="0" y2="0"><stop offset="0" stop-color="#a06a30" stop-opacity="0.7"/><stop offset="0.2" stop-color="#a06a30" stop-opacity="0.2"/><stop offset="1" stop-color="#a06a30" stop-opacity="0"/></linearGradient></defs>
<path d="M388.2,702.3 L389.8,700.4 L391.5,700.3 L393.1,700.3 L394.8,700.3 L396.4,700.3 L398.0,700.3 L399.7,700.3 L401.3,700.3 L403.0,700.3 L404.6,700.3 L406.3,700.4 L407.9,700.5 L409.5,700.5 L411.2,700.5 L412.8,700.5 L414.5,700.5 L416.1,700.5 L417.7,700.4 L419.4,700.4 L421.0,700.4 L422.7,700.4 L424.3,700.4 L426.0,700.3 L427.6,700.4 L429.2,700.4 L430.9,700.4 L432.5,700.4 L434.2,700.5 L435.8,700.5 L437.4,700.5 L439.1,700.4 L440.7,700.3 L442.4,700.3 L444.0,700.4 L445.6,700.5 L447.3,700.5 L448.9,700.5 L450.6,700.5 L452.2,700.5 L453.9,700.4 L455.5,700.5 L457.1,700.6 L458.8,700.6 L460.4,700.6 L462.1,700.5 L463.7,700.4 L465.3,700.4 L467.0,700.4 L468.6,700.4 L470.3,700.4 L471.9,700.4 L473.6,700.5 L475.2,700.4 L476.8,700.5 L478.5,700.4 L480.1,700.4 L481.8,700.4 L483.4,700.3 L485.0,700.3 L486.7,700.4 L488.3,700.4 L490.0,700.4 L491.6,700.4 L493.3,700.4 L494.9,700.4 L496.5,700.5 L498.2,700.4 L499.8,700.4 L501.5,700.5 L503.1,702.0 L503.1,702.8 L501.5,704.3 L499.8,704.4 L498.2,704.5 L496.5,704.6 L494.9,704.6 L493.3,704.5 L491.6,704.5 L490.0,704.5 L488.3,704.6 L486.7,704.6 L485.0,704.6 L483.4,704.5 L481.8,704.6 L480.1,704.6 L478.5,704.6 L476.8,704.6 L475.2,704.6 L473.6,704.6 L471.9,704.6 L470.3,704.6 L468.6,704.6 L467.0,704.6 L465.3,704.6 L463.7,704.6 L462.1,704.6 L460.4,704.7 L458.8,704.7 L457.1,704.6 L455.5,704.6 L453.9,704.5 L452.2,704.5 L450.6,704.6 L448.9,704.6 L447.3,704.6 L445.6,704.5 L444.0,704.5 L442.4,704.4 L440.7,704.4 L439.1,704.4 L437.4,704.5 L435.8,704.5 L434.2,704.4 L432.5,704.4 L430.9,704.3 L429.2,704.4 L427.6,704.4 L426.0,704.4 L424.3,704.4 L422.7,704.4 L421.0,704.5 L419.4,704.4 L417.7,704.4 L416.1,704.5 L414.5,704.5 L412.8,704.5 L411.2,704.5 L409.5,704.5 L407.9,704.5 L406.3,704.5 L404.6,704.6 L403.0,704.7 L401.3,704.8 L399.7,704.8 L398.0,705.0 L396.4,705.0 L394.8,705.1 L393.1,705.2 L391.5,705.3 L389.8,705.3 L388.2,703.4 Z" fill="url(#cg11h)"/>
<ellipse cx="392.20" cy="702.78" rx="4" ry="2.30" fill="#d2ba84" opacity="0.45"/>
<defs><linearGradient id="cg12" x1="0" y1="0" x2="0" y2="1"><stop offset="0" stop-color="#d2ba84"/><stop offset="0.45" stop-color="#f1e9cc"/><stop offset="1" stop-color="#d2ba84"/></linearGradient><clipPath id="cg12c"><path d="M389.9,720.4 L391.6,718.6 L393.2,718.5 L394.9,718.5 L396.5,718.6 L398.2,718.6 L399.8,718.7 L401.5,718.8 L403.1,718.9 L404.8,718.9 L406.4,719.0 L408.1,718.9 L409.7,719.0 L411.4,719.1 L413.0,719.1 L414.7,719.2 L416.3,719.2 L418.0,719.2 L419.6,719.2 L421.3,719.2 L422.9,719.2 L424.6,719.3 L426.2,719.2 L427.9,719.2 L429.5,719.2 L431.2,719.2 L432.8,719.2 L434.5,719.3 L436.1,719.4 L437.8,719.4 L439.4,719.3 L441.1,719.3 L442.7,719.1 L444.4,718.6 L446.0,717.9 L447.7,717.4 L449.4,717.6 L451.0,718.3 L452.7,719.0 L454.3,719.3 L456.0,719.2 L457.6,719.3 L459.3,719.2 L460.9,719.2 L462.6,719.2 L464.2,719.2 L465.9,719.2 L467.5,719.2 L469.2,719.0 L470.8,719.0 L472.5,719.0 L474.1,719.0 L475.8,719.0 L477.4,719.1 L479.1,718.9 L480.7,719.0 L482.4,719.1 L484.0,719.0 L485.7,719.0 L487.3,719.0 L489.0,719.0 L490.6,719.1 L492.3,719.0 L493.9,719.0 L495.6,719.0 L497.2,719.0 L498.9,719.0 L500.5,718.9 L502.2,718.9 L503.8,719.1 L505.5,720.6 L505.5,721.6 L503.8,723.0 L502.2,723.0 L500.5,723.0 L498.9,723.0 L497.2,723.1 L495.6,723.1 L493.9,723.1 L492.3,723.1 L490.6,723.2 L489.0,723.1 L487.3,723.2 L485.7,723.1 L484.0,723.1 L482.4,723.2 L480.7,723.1 L479.1,723.1 L477.4,723.2 L475.8,723.1 L474.1,723.0 L472.5,723.0 L470.8,723.0 L469.2,723.0 L467.5,723.1 L465.9,723.1 L464.2,723.1 L462.6,723.1 L460.9,723.1 L459.3,723.1 L457.6,723.2 L456.0,723.2 L454.3,723.3 L452.7,723.4 L451.0,723.7 L449.4,724.2 L447.7,724.4 L446.0,724.0 L444.4,723.6 L442.7,723.4 L441.1,723.3 L439.4,723.3 L437.8,723.3 L436.1,723.3 L434.5,723.3 L432.8,723.3 L431.2,723.3 L429.5,723.3 L427.9,723.3 L426.2,723.3 L424.6,723.3 L422.9,723.3 L421.3,723.3 L419.6,723.3 L418.0,723.3 L416.3,723.2 L414.7,723.3 L413.0,723.1 L411.4,723.2 L409.7,723.1 L408.1,723.1 L406.4,723.2 L404.8,723.3 L403.1,723.4 L401.5,723.4 L399.8,723.3 L398.2,723.3 L396.5,723.4 L394.9,723.5 L393.2,723.6 L391.6,723.6 L389.9,721.7 Z"/></clipPath></defs>
<path d="M389.9,720.4 L391.6,718.6 L393.2,718.5 L394.9,718.5 L396.5,718.6 L398.2,718.6 L399.8,718.7 L401.5,718.8 L403.1,718.9 L404.8,718.9 L406.4,719.0 L408.1,718.9 L409.7,719.0 L411.4,719.1 L413.0,719.1 L414.7,719.2 L416.3,719.2 L418.0,719.2 L419.6,719.2 L421.3,719.2 L422.9,719.2 L424.6,719.3 L426.2,719.2 L427.9,719.2 L429.5,719.2 L431.2,719.2 L432.8,719.2 L434.5,719.3 L436.1,719.4 L437.8,719.4 L439.4,719.3 L441.1,719.3 L442.7,719.1 L444.4,718.6 L446.0,717.9 L447.7,717.4 L449.4,717.6 L451.0,718.3 L452.7,719.0 L454.3,719.3 L456.0,719.2 L457.6,719.3 L459.3,719.2 L460.9,719.2 L462.6,719.2 L464.2,719.2 L465.9,719.2 L467.5,719.2 L469.2,719.0 L470.8,719.0 L472.5,719.0 L474.1,719.0 L475.8,719.0 L477.4,719.1 L479.1,718.9 L480.7,719.0 L482.4,719.1 L484.0,719.0 L485.7,719.0 L487.3,719.0 L489.0,719.0 L490.6,719.1 L492.3,719.0 L493.9,719.0 L495.6,719.0 L497.2,719.0 L498.9,719.0 L500.5,718.9 L502.2,718.9 L503.8,719.1 L505.5,720.6 L505.5,721.6 L503.8,723.0 L502.2,723.0 L500.5,723.0 L498.9,723.0 L497.2,723.1 L495.6,723.1 L493.9,723.1 L492.3,723.1 L490.6,723.2 L489.0,723.1 L487.3,723.2 L485.7,723.1 L484.0,723.1 L482.4,723.2 L480.7,723.1 L479.1,723.1 L477.4,723.2 L475.8,723.1 L474.1,723.0 L472.5,723.0 L470.8,723.0 L469.2,723.0 L467.5,723.1 L465.9,723.1 L464.2,723.1 L462.6,723.1 L460.9,723.1 L459.3,723.1 L457.6,723.2 L456.0,723.2 L454.3,723.3 L452.7,723.4 L451.0,723.7 L449.4,724.2 L447.7,724.4 L446.0,724.0 L444.4,723.6 L442.7,723.4 L441.1,723.3 L439.4,723.3 L437.8,723.3 L436.1,723.3 L434.5,723.3 L432.8,723.3 L431.2,723.3 L429.5,723.3 L427.9,723.3 L426.2,723.3 L424.6,723.3 L422.9,723.3 L421.3,723.3 L419.6,723.3 L418.0,723.3 L416.3,723.2 L414.7,723.3 L413.0,723.1 L411.4,723.2 L409.7,723.1 L408.1,723.1 L406.4,723.2 L404.8,723.3 L403.1,723.4 L401.5,723.4 L399.8,723.3 L398.2,723.3 L396.5,723.4 L394.9,723.5 L393.2,723.6 L391.6,723.6 L389.9,721.7 Z" fill="url(#cg12)" stroke="#d2ba84" stroke-width="0.4"/>
<defs><linearGradient id="cg12h" x1="0" x2="1" y1="0" y2="0"><stop offset="0" stop-color="#b08a40" stop-opacity="0.5"/><stop offset="0.2" stop-color="#b08a40" stop-opacity="0.15"/><stop offset="1" stop-color="#b08a40" stop-opacity="0.05"/></linearGradient></defs>
<path d="M389.9,720.4 L391.6,718.6 L393.2,718.5 L394.9,718.5 L396.5,718.6 L398.2,718.6 L399.8,718.7 L401.5,718.8 L403.1,718.9 L404.8,718.9 L406.4,719.0 L408.1,718.9 L409.7,719.0 L411.4,719.1 L413.0,719.1 L414.7,719.2 L416.3,719.2 L418.0,719.2 L419.6,719.2 L421.3,719.2 L422.9,719.2 L424.6,719.3 L426.2,719.2 L427.9,719.2 L429.5,719.2 L431.2,719.2 L432.8,719.2 L434.5,719.3 L436.1,719.4 L437.8,719.4 L439.4,719.3 L441.1,719.3 L442.7,719.1 L444.4,718.6 L446.0,717.9 L447.7,717.4 L449.4,717.6 L451.0,718.3 L452.7,719.0 L454.3,719.3 L456.0,719.2 L457.6,719.3 L459.3,719.2 L460.9,719.2 L462.6,719.2 L464.2,719.2 L465.9,719.2 L467.5,719.2 L469.2,719.0 L470.8,719.0 L472.5,719.0 L474.1,719.0 L475.8,719.0 L477.4,719.1 L479.1,718.9 L480.7,719.0 L482.4,719.1 L484.0,719.0 L485.7,719.0 L487.3,719.0 L489.0,719.0 L490.6,719.1 L492.3,719.0 L493.9,719.0 L495.6,719.0 L497.2,719.0 L498.9,719.0 L500.5,718.9 L502.2,718.9 L503.8,719.1 L505.5,720.6 L505.5,721.6 L503.8,723.0 L502.2,723.0 L500.5,723.0 L498.9,723.0 L497.2,723.1 L495.6,723.1 L493.9,723.1 L492.3,723.1 L490.6,723.2 L489.0,723.1 L487.3,723.2 L485.7,723.1 L484.0,723.1 L482.4,723.2 L480.7,723.1 L479.1,723.1 L477.4,723.2 L475.8,723.1 L474.1,723.0 L472.5,723.0 L470.8,723.0 L469.2,723.0 L467.5,723.1 L465.9,723.1 L464.2,723.1 L462.6,723.1 L460.9,723.1 L459.3,723.1 L457.6,723.2 L456.0,723.2 L454.3,723.3 L452.7,723.4 L451.0,723.7 L449.4,724.2 L447.7,724.4 L446.0,724.0 L444.4,723.6 L442.7,723.4 L441.1,723.3 L439.4,723.3 L437.8,723.3 L436.1,723.3 L434.5,723.3 L432.8,723.3 L431.2,723.3 L429.5,723.3 L427.9,723.3 L426.2,723.3 L424.6,723.3 L422.9,723.3 L421.3,723.3 L419.6,723.3 L418.0,723.3 L416.3,723.2 L414.7,723.3 L413.0,723.1 L411.4,723.2 L409.7,723.1 L408.1,723.1 L406.4,723.2 L404.8,723.3 L403.1,723.4 L401.5,723.4 L399.8,723.3 L398.2,723.3 L396.5,723.4 L394.9,723.5 L393.2,723.6 L391.6,723.6 L389.9,721.7 Z" fill="url(#cg12h)"/>
<ellipse cx="393.90" cy="721.06" rx="4" ry="2.30" fill="#d2ba84" opacity="0.45"/>
<ellipse cx="448.00" cy="720.50" rx="2.6" ry="3.0" fill="#a55a45" opacity="0.9"/>
<path d="M449.00,712.90 L451.80,714.50 L449.00,715.90 Z" fill="#ee2222"/>
<text x="514.00" y="730.06" font-size="7.40" text-anchor="middle" fill="#111" textLength="14.8" lengthAdjust="spacingAndGlyphs">1 cm</text>
<line x1="503.60" y1="733.10" x2="523.00" y2="733.10" stroke="#111" stroke-width="1.5" />
<text transform="translate(370.00,532.30) rotate(-90)" x="0" y="2.30" font-size="6.40" text-anchor="middle" fill="#111">WT</text>
<text transform="translate(370.00,587.80) rotate(-90)" x="0" y="2.30" font-size="6.40" text-anchor="middle" fill="#111" textLength="40.5" lengthAdjust="spacingAndGlyphs"><tspan font-style="italic">Apc</tspan>-KO-NC</text>
<text transform="translate(370.00,644.40) rotate(-90)" x="0" y="2.30" font-size="6.40" text-anchor="middle" fill="#111" textLength="43.7" lengthAdjust="spacingAndGlyphs"><tspan font-style="italic">Apc</tspan>-KO-NPs</text>
<text transform="translate(370.00,706.00) rotate(-90)" x="0" y="2.30" font-size="6.40" text-anchor="middle" fill="#111" textLength="72.0" lengthAdjust="spacingAndGlyphs"><tspan font-style="italic">Apc</tspan>-KO-NPs-AS1411</text>
<defs><clipPath id="cm1"><rect x="29.00" y="680.20" width="79.00" height="62.30"/></clipPath></defs>
<g clip-path="url(#cm1)"><g transform="translate(29.00,680.20)"><rect width="79.0" height="62.3" fill="#e99cd9"/><g><rect x="0" y="0" width="79.0" height="62.3" fill="#000" filter="url(#mP)" opacity="0.6"/></g><polygon points="0.0,0.0 14.0,0.0 0.0,12.0" fill="#c488d0" opacity="0.9" /><g filter="url(#wob2)"><polygon points="-3.0,31.0 30.0,-3.0 46.0,-3.0 -3.0,46.0" fill="#ffffff" opacity="1.0" /></g><polygon points="0.0,44.0 46.0,0.0 79.0,0.0 79.0,17.0 21.0,62.3 0.0,62.3" fill="#a65ec8" opacity="1.0" /><defs><clipPath id="m1c"><polygon points="0.0,44.0 46.0,0.0 79.0,0.0 79.0,17.0 21.0,62.3 0.0,62.3" fill="#000" opacity="1.0" /></clipPath></defs><g clip-path="url(#m1c)"><g filter="url(#wob2)"><line x1="13.0" y1="64.8" x2="0.4" y2="46.8" stroke="#f6e6f8" stroke-width="2.2" stroke-linecap="round" opacity="0.85"/><line x1="18.3" y1="60.5" x2="5.7" y2="42.5" stroke="#f6e6f8" stroke-width="2.2" stroke-linecap="round" opacity="0.85"/><line x1="23.6" y1="56.2" x2="11.0" y2="38.2" stroke="#f6e6f8" stroke-width="2.2" stroke-linecap="round" opacity="0.85"/><line x1="29.0" y1="51.8" x2="16.4" y2="33.8" stroke="#f6e6f8" stroke-width="2.2" stroke-linecap="round" opacity="0.85"/><line x1="34.3" y1="47.5" x2="21.7" y2="29.5" stroke="#f6e6f8" stroke-width="2.2" stroke-linecap="round" opacity="0.85"/><line x1="39.6" y1="43.2" x2="27.0" y2="25.2" stroke="#f6e6f8" stroke-width="2.2" stroke-linecap="round" opacity="0.85"/><line x1="45.0" y1="38.8" x2="32.4" y2="20.8" stroke="#f6e6f8" stroke-width="2.2" stroke-linecap="round" opacity="0.85"/><line x1="50.3" y1="34.5" x2="37.7" y2="16.5" stroke="#f6e6f8" stroke-width="2.2" stroke-linecap="round" opacity="0.85"/><line x1="55.6" y1="30.2" x2="43.0" y2="12.2" stroke="#f6e6f8" stroke-width="2.2" stroke-linecap="round" opacity="0.85"/><line x1="61.0" y1="25.8" x2="48.4" y2="7.8" stroke="#f6e6f8" stroke-width="2.2" stroke-linecap="round" opacity="0.85"/><line x1="66.3" y1="21.5" x2="53.7" y2="3.5" stroke="#f6e6f8" stroke-width="2.2" stroke-linecap="round" opacity="0.85"/><line x1="71.6" y1="17.2" x2="59.0" y2="-0.8" stroke="#f6e6f8" stroke-width="2.2" stroke-linecap="round" opacity="0.85"/></g></g><g clip-path="url(#m1c)"><rect x="0" y="0" width="79.0" height="62.3" fill="#000" filter="url(#mW)" opacity="0.7"/></g><polygon points="21.0,62.3 79.0,17.0 79.0,21.0 27.0,62.3" fill="#fbf3fb" opacity="1.0" /><g clip-path="url(#m1c)"><rect x="0" y="0" width="79.0" height="62.3" fill="#000" filter="url(#mD)" opacity="0.8"/></g><g filter="url(#wob2)"><polygon points="50.0,66.0 83.0,38.0 83.0,66.0" fill="#ffffff" opacity="1.0" /></g><text x="59" y="58" font-size="5.2" fill="#111">100 <tspan font-size="3.6">μm</tspan></text><line x1="63" y1="60.3" x2="77" y2="60.3" stroke="#333" stroke-width="0.8"/></g></g>
<rect x="29.00" y="680.20" width="79.00" height="62.30" fill="none" stroke="#666" stroke-width="0.8" />
<defs><clipPath id="cm2"><rect x="109.50" y="680.20" width="79.00" height="62.30"/></clipPath></defs>
<g clip-path="url(#cm2)"><g transform="translate(109.50,680.20)"><rect width="79.0" height="62.3" fill="#a45cc6"/><g><rect x="0" y="0" width="79.0" height="62.3" fill="#000" filter="url(#mW2)" opacity="0.6"/></g><g><rect x="0" y="0" width="79.0" height="62.3" fill="#000" filter="url(#mD)" opacity="0.9"/></g><polygon points="48.0,0.0 79.0,0.0 79.0,30.0 72.0,18.0 62.0,8.0" fill="#ffffff" opacity="1.0" /><polygon points="48.0,62.3 79.0,40.0 79.0,62.3" fill="#dda2dc" opacity="0.8" /><ellipse cx="24.3" cy="12.6" rx="7.6" ry="9.6" transform="rotate(15 24.3 12.6)" fill="#fff"/><ellipse cx="33.6" cy="17" rx="1.6" ry="2.2" fill="#fff"/><ellipse cx="2.5" cy="27" rx="4.5" ry="8" fill="#fff"/><ellipse cx="20" cy="54" rx="10.5" ry="6" transform="rotate(-25 20 54)" fill="#fff"/><ellipse cx="5" cy="59" rx="6" ry="4.5" fill="#fff"/><ellipse cx="47" cy="41.5" rx="7" ry="5.5" fill="#dc90d2" stroke="#f5e0f5" stroke-width="0.6"/><polygon points="0.0,48.0 30.0,42.0 79.0,55.0 79.0,62.3 0.0,62.3" fill="#eab0e4" opacity="0.35" /><circle cx="70" cy="42.5" r="2" fill="#fff"/><circle cx="73" cy="33" r="1.5" fill="#fff"/><text x="59" y="57.5" font-size="5.2" fill="#111">100 <tspan font-size="3.6">μm</tspan></text><line x1="66" y1="60.3" x2="76" y2="60.3" stroke="#222" stroke-width="1"/></g></g>
<rect x="109.50" y="680.20" width="79.00" height="62.30" fill="none" stroke="#666" stroke-width="0.8" />
<defs><clipPath id="cm3"><rect x="190.50" y="680.20" width="79.00" height="62.30"/></clipPath></defs>
<g clip-path="url(#cm3)"><g transform="translate(190.50,680.20)"><rect width="79.0" height="62.3" fill="#fbfbfb"/><polygon points="0.0,26.0 3.0,24.0 12.0,18.0 30.0,12.0 48.0,10.0 79.0,11.0 79.0,44.0 0.0,46.0" fill="#ad62c6" opacity="1.0" /><defs><clipPath id="m3c"><polygon points="0.0,26.0 3.0,24.0 12.0,18.0 30.0,12.0 48.0,10.0 79.0,11.0 79.0,44.0 0.0,46.0" fill="#000" opacity="1.0" /></clipPath></defs><polygon points="0.0,20.0 12.0,18.0 30.0,12.0 48.0,10.0 79.0,11.0 79.0,14.0 48.0,13.0 30.0,15.0 12.0,21.0 0.0,24.0" fill="#c47ad0" opacity="0.8" /><g clip-path="url(#m3c)"><rect x="0" y="0" width="79.0" height="62.3" fill="#000" filter="url(#mW)" opacity="0.45"/></g><g clip-path="url(#m3c)"><rect x="0" y="0" width="79.0" height="62.3" fill="#000" filter="url(#mD)" opacity="0.7"/></g><g filter="url(#wob2)"><ellipse cx="8" cy="36" rx="2.3" ry="7" fill="#f4e2f4" opacity="0.85"/><ellipse cx="17" cy="31" rx="2.3" ry="8" fill="#f4e2f4" opacity="0.85"/><ellipse cx="26" cy="32" rx="2.3" ry="8" fill="#f4e2f4" opacity="0.85"/><ellipse cx="35" cy="33" rx="2.3" ry="6" fill="#f4e2f4" opacity="0.85"/><ellipse cx="44" cy="33" rx="2.3" ry="6" fill="#f4e2f4" opacity="0.85"/><ellipse cx="53" cy="31" rx="2.3" ry="8" fill="#f4e2f4" opacity="0.85"/><ellipse cx="61" cy="30" rx="2.3" ry="8" fill="#f4e2f4" opacity="0.85"/><ellipse cx="69" cy="30" rx="2.3" ry="8" fill="#f4e2f4" opacity="0.85"/><ellipse cx="76" cy="28" rx="2.3" ry="8" fill="#f4e2f4" opacity="0.85"/></g><circle cx="36" cy="21" r="5" fill="#8a3cae" opacity="0.85"/><circle cx="47" cy="19" r="6" fill="#8a3cae" opacity="0.85"/><polygon points="0.0,44.0 79.0,42.0 79.0,52.0 0.0,53.0" fill="#f3e2f2" opacity="1.0" /><polygon points="18.0,52.0 30.0,49.0 79.0,50.0 79.0,58.0 30.0,59.0 18.0,57.0" fill="#e79ad6" opacity="1.0" /><polygon points="0.0,58.0 79.0,58.0 79.0,62.3 0.0,62.3" fill="#f4e6f2" opacity="1.0" /><text x="58" y="55.8" font-size="5.2" fill="#111">100 <tspan font-size="3.6">μm</tspan></text><line x1="63" y1="60.3" x2="77" y2="60.3" stroke="#333" stroke-width="0.8"/></g></g>
<rect x="190.50" y="680.20" width="79.00" height="62.30" fill="none" stroke="#666" stroke-width="0.8" />
<defs><clipPath id="cm4"><rect x="271.50" y="680.20" width="79.00" height="62.30"/></clipPath></defs>
<g clip-path="url(#cm4)"><g transform="translate(271.50,680.20)"><rect width="79.0" height="62.3" fill="#aa60c6"/><g><rect x="0" y="0" width="79.0" height="62.3" fill="#000" filter="url(#mW)" opacity="0.4"/></g><g><rect x="0" y="0" width="79.0" height="62.3" fill="#000" filter="url(#mD)" opacity="0.7"/></g><g filter="url(#wob2)"><ellipse cx="2.9" cy="22.8" rx="1.6" ry="3.6" fill="#f6e6f6" opacity="0.8"/><ellipse cx="9.0" cy="21.9" rx="1.9" ry="3.3" fill="#f6e6f6" opacity="0.8"/><ellipse cx="17.3" cy="20.6" rx="1.9" ry="3.6" fill="#f6e6f6" opacity="0.8"/><ellipse cx="25.2" cy="19.8" rx="1.6" ry="3.5" fill="#f6e6f6" opacity="0.8"/><ellipse cx="34.8" cy="17.3" rx="1.6" ry="2.9" fill="#f6e6f6" opacity="0.8"/><ellipse cx="41.8" cy="15.6" rx="1.9" ry="2.7" fill="#f6e6f6" opacity="0.8"/><ellipse cx="50.3" cy="11.7" rx="1.6" ry="3.2" fill="#f6e6f6" opacity="0.8"/><ellipse cx="59.2" cy="11.6" rx="1.5" ry="3.6" fill="#f6e6f6" opacity="0.8"/><ellipse cx="4.9" cy="29.0" rx="1.5" ry="3.5" fill="#f6e6f6" opacity="0.8"/><ellipse cx="14.4" cy="25.8" rx="1.8" ry="3.5" fill="#f6e6f6" opacity="0.8"/><ellipse cx="22.7" cy="24.1" rx="2.2" ry="2.5" fill="#f6e6f6" opacity="0.8"/><ellipse cx="31.7" cy="24.6" rx="2.1" ry="3.7" fill="#f6e6f6" opacity="0.8"/><ellipse cx="39.0" cy="20.8" rx="1.8" ry="3.4" fill="#f6e6f6" opacity="0.8"/><ellipse cx="47.9" cy="19.3" rx="2.3" ry="2.4" fill="#f6e6f6" opacity="0.8"/><ellipse cx="55.3" cy="16.7" rx="1.7" ry="3.8" fill="#f6e6f6" opacity="0.8"/><ellipse cx="62.4" cy="17.9" rx="2.2" ry="3.4" fill="#f6e6f6" opacity="0.8"/><ellipse cx="70.4" cy="14.6" rx="2.0" ry="2.5" fill="#f6e6f6" opacity="0.8"/><ellipse cx="79.3" cy="11.5" rx="2.2" ry="3.7" fill="#f6e6f6" opacity="0.8"/><ellipse cx="3.3" cy="36.4" rx="1.9" ry="2.5" fill="#f6e6f6" opacity="0.8"/><ellipse cx="10.1" cy="35.0" rx="2.1" ry="2.4" fill="#f6e6f6" opacity="0.8"/><ellipse cx="16.9" cy="31.4" rx="2.2" ry="2.6" fill="#f6e6f6" opacity="0.8"/><ellipse cx="26.3" cy="30.5" rx="2.2" ry="2.6" fill="#f6e6f6" opacity="0.8"/><ellipse cx="34.1" cy="29.7" rx="1.5" ry="2.6" fill="#f6e6f6" opacity="0.8"/><ellipse cx="41.6" cy="28.6" rx="1.6" ry="3.1" fill="#f6e6f6" opacity="0.8"/><ellipse cx="50.8" cy="26.7" rx="2.0" ry="3.2" fill="#f6e6f6" opacity="0.8"/><ellipse cx="59.4" cy="22.6" rx="2.2" ry="2.5" fill="#f6e6f6" opacity="0.8"/><ellipse cx="68.0" cy="20.8" rx="1.6" ry="3.0" fill="#f6e6f6" opacity="0.8"/><ellipse cx="74.9" cy="20.2" rx="1.5" ry="2.4" fill="#f6e6f6" opacity="0.8"/><ellipse cx="5.0" cy="40.3" rx="2.2" ry="3.1" fill="#f6e6f6" opacity="0.8"/><ellipse cx="14.8" cy="40.2" rx="1.5" ry="3.7" fill="#f6e6f6" opacity="0.8"/><ellipse cx="22.2" cy="37.6" rx="1.8" ry="3.4" fill="#f6e6f6" opacity="0.8"/><ellipse cx="31.5" cy="34.8" rx="2.1" ry="3.0" fill="#f6e6f6" opacity="0.8"/><ellipse cx="38.2" cy="35.3" rx="2.2" ry="3.6" fill="#f6e6f6" opacity="0.8"/><ellipse cx="46.6" cy="33.6" rx="2.1" ry="3.8" fill="#f6e6f6" opacity="0.8"/><ellipse cx="56.1" cy="31.8" rx="1.8" ry="3.4" fill="#f6e6f6" opacity="0.8"/><ellipse cx="64.3" cy="28.5" rx="1.9" ry="3.0" fill="#f6e6f6" opacity="0.8"/><ellipse cx="72.8" cy="26.2" rx="2.1" ry="3.2" fill="#f6e6f6" opacity="0.8"/><ellipse cx="80.5" cy="24.3" rx="1.5" ry="3.3" fill="#f6e6f6" opacity="0.8"/><ellipse cx="0.9" cy="48.2" rx="2.1" ry="2.5" fill="#f6e6f6" opacity="0.8"/><ellipse cx="11.4" cy="46.6" rx="1.9" ry="3.3" fill="#f6e6f6" opacity="0.8"/><ellipse cx="17.1" cy="43.6" rx="2.0" ry="3.2" fill="#f6e6f6" opacity="0.8"/><ellipse cx="27.0" cy="43.8" rx="1.6" ry="2.6" fill="#f6e6f6" opacity="0.8"/><ellipse cx="36.2" cy="39.5" rx="1.9" ry="3.3" fill="#f6e6f6" opacity="0.8"/><ellipse cx="44.4" cy="37.8" rx="2.0" ry="2.5" fill="#f6e6f6" opacity="0.8"/><ellipse cx="51.1" cy="37.9" rx="2.2" ry="2.5" fill="#f6e6f6" opacity="0.8"/><ellipse cx="60.1" cy="34.5" rx="1.8" ry="3.8" fill="#f6e6f6" opacity="0.8"/><ellipse cx="68.7" cy="32.4" rx="1.4" ry="2.4" fill="#f6e6f6" opacity="0.8"/><ellipse cx="76.6" cy="30.6" rx="2.1" ry="3.5" fill="#f6e6f6" opacity="0.8"/><ellipse cx="7.1" cy="54.8" rx="2.0" ry="3.6" fill="#f6e6f6" opacity="0.8"/><ellipse cx="14.4" cy="52.3" rx="1.5" ry="3.2" fill="#f6e6f6" opacity="0.8"/><ellipse cx="24.0" cy="49.4" rx="2.0" ry="2.6" fill="#f6e6f6" opacity="0.8"/><ellipse cx="30.6" cy="48.4" rx="2.1" ry="2.9" fill="#f6e6f6" opacity="0.8"/><ellipse cx="38.8" cy="45.5" rx="1.9" ry="3.7" fill="#f6e6f6" opacity="0.8"/><ellipse cx="46.8" cy="45.2" rx="1.9" ry="2.7" fill="#f6e6f6" opacity="0.8"/><ellipse cx="55.9" cy="41.8" rx="2.0" ry="3.8" fill="#f6e6f6" opacity="0.8"/><ellipse cx="62.9" cy="41.7" rx="1.7" ry="3.3" fill="#f6e6f6" opacity="0.8"/><ellipse cx="70.8" cy="39.4" rx="2.1" ry="2.7" fill="#f6e6f6" opacity="0.8"/><ellipse cx="79.5" cy="36.7" rx="1.5" ry="3.3" fill="#f6e6f6" opacity="0.8"/><ellipse cx="3.0" cy="60.6" rx="1.8" ry="2.8" fill="#f6e6f6" opacity="0.8"/><ellipse cx="9.4" cy="60.5" rx="1.8" ry="3.4" fill="#f6e6f6" opacity="0.8"/><ellipse cx="17.7" cy="56.3" rx="1.4" ry="2.8" fill="#f6e6f6" opacity="0.8"/><ellipse cx="26.4" cy="55.5" rx="2.0" ry="3.4" fill="#f6e6f6" opacity="0.8"/><ellipse cx="35.9" cy="54.2" rx="2.0" ry="3.5" fill="#f6e6f6" opacity="0.8"/><ellipse cx="43.1" cy="51.6" rx="2.2" ry="3.7" fill="#f6e6f6" opacity="0.8"/><ellipse cx="50.9" cy="51.1" rx="1.8" ry="3.5" fill="#f6e6f6" opacity="0.8"/><ellipse cx="58.0" cy="48.7" rx="2.3" ry="3.0" fill="#f6e6f6" opacity="0.8"/><ellipse cx="68.7" cy="46.6" rx="1.4" ry="2.5" fill="#f6e6f6" opacity="0.8"/><ellipse cx="75.3" cy="46.1" rx="2.0" ry="3.2" fill="#f6e6f6" opacity="0.8"/></g><polygon points="0.0,0.0 36.0,0.0 0.0,22.0" fill="#e99ad8" opacity="1.0" /><polygon points="3.6,21.5 18.0,14.4 37.0,3.6 37.0,0.0 62.0,0.0 62.0,3.6 50.0,13.0 36.0,20.0 19.0,28.7 12.0,27.5" fill="#ffffff" opacity="1.0" /><polygon points="0.0,22.0 37.0,0.0 40.0,0.0 3.0,25.0" fill="#f0d0f0" opacity="0.8" /><polygon points="79.0,34.0 79.0,62.3 46.0,62.3" fill="#e99ad8" opacity="1.0" /><g><rect x="0" y="0" width="79.0" height="62.3" fill="#000" filter="url(#mP)" opacity="0.4"/></g><text x="58" y="58" font-size="5.2" fill="#111">100 <tspan font-size="3.6">μm</tspan></text><line x1="63" y1="60.3" x2="77" y2="60.3" stroke="#333" stroke-width="0.8"/></g></g>
<rect x="271.50" y="680.20" width="79.00" height="62.30" fill="none" stroke="#666" stroke-width="0.8" />
<text x="68.50" y="676.15" font-size="8.20" text-anchor="middle" fill="#111">WT</text>
<text x="149.00" y="676.15" font-size="8.20" text-anchor="middle" fill="#111" textLength="46.0" lengthAdjust="spacingAndGlyphs"><tspan font-style="italic">Apc</tspan>-KO-NC</text>
<text x="230.00" y="676.65" font-size="8.20" text-anchor="middle" fill="#111" textLength="52.0" lengthAdjust="spacingAndGlyphs"><tspan font-style="italic">Apc</tspan>-KO-NPs</text>
<text x="313.00" y="676.65" font-size="8.20" text-anchor="middle" fill="#111" textLength="84.9" lengthAdjust="spacingAndGlyphs"><tspan font-style="italic">Apc</tspan>-KO-NPs-AS1411</text>
<defs><clipPath id="cn10"><rect x="29.10" y="789.10" width="90.50" height="79.30"/></clipPath></defs>
<g clip-path="url(#cn10)"><g transform="translate(29.10,789.10)"><rect width="90.5" height="79.3" fill="#fcfcfc"/><defs><clipPath id="n1c0"><polygon points="12.0,-6.0 52.0,-6.0 55.0,18.0 54.0,40.0 58.0,62.0 57.0,86.0 17.0,86.0 14.0,62.0 13.0,40.0 12.0,18.0" fill="#000" opacity="1.0" /><polygon points="97.0,24.0 82.0,34.0 72.0,46.0 63.0,60.0 62.0,86.0 97.0,86.0" fill="#000" opacity="1.0" /><polygon points="-6.0,-6.0 8.0,-6.0 9.0,16.0 5.0,32.0 -6.0,36.0" fill="#000" opacity="1.0" /><polygon points="64.0,-6.0 97.0,-6.0 97.0,12.0 78.0,8.0" fill="#000" opacity="1.0" /></clipPath></defs><g filter="url(#wob)"><g clip-path="url(#n1c0)"><rect x="-6" y="-6" width="102.5" height="91.3" fill="#d2cadc"/></g><g clip-path="url(#n1c0)"><rect x="0" y="0" width="90.5" height="79.3" fill="#000" filter="url(#nW)" opacity="1.0"/></g><g clip-path="url(#n1c0)"><rect x="0" y="0" width="90.5" height="79.3" fill="#000" filter="url(#nW3)" opacity="1.0"/></g><g clip-path="url(#n1c0)"><rect x="0" y="0" width="90.5" height="79.3" fill="#000" filter="url(#nL)" opacity="0.4"/></g><g clip-path="url(#n1c0)"><rect x="0" y="0" width="90.5" height="79.3" fill="#000" filter="url(#nB)" opacity="0.4"/></g><g clip-path="url(#n1c0)"><rect x="0" y="0" width="90.5" height="79.3" fill="#000" filter="url(#nBr)" opacity="0.7"/></g></g><text x="73.5" y="75.3" font-size="5" fill="#111">100 <tspan font-size="3.6">μm</tspan></text><line x1="70.5" y1="77.0" x2="88.5" y2="77.0" stroke="#222" stroke-width="0.9"/></g></g>
<rect x="29.10" y="789.10" width="90.50" height="79.30" fill="none" stroke="#333" stroke-width="0.8" />
<defs><clipPath id="cn11"><rect x="29.10" y="870.20" width="90.50" height="79.30"/></clipPath></defs>
<g clip-path="url(#cn11)"><g transform="translate(29.10,870.20)"><rect width="90.5" height="79.3" fill="#fcfcfc"/><defs><clipPath id="n1c1"><polygon points="12.0,-6.0 52.0,-6.0 55.0,18.0 54.0,40.0 58.0,62.0 57.0,86.0 17.0,86.0 14.0,62.0 13.0,40.0 12.0,18.0" fill="#000" opacity="1.0" /><polygon points="97.0,24.0 82.0,34.0 72.0,46.0 63.0,60.0 62.0,86.0 97.0,86.0" fill="#000" opacity="1.0" /><polygon points="-6.0,-6.0 8.0,-6.0 9.0,16.0 5.0,32.0 -6.0,36.0" fill="#000" opacity="1.0" /><polygon points="64.0,-6.0 97.0,-6.0 97.0,12.0 78.0,8.0" fill="#000" opacity="1.0" /></clipPath></defs><g filter="url(#wob)"><g clip-path="url(#n1c1)"><rect x="-6" y="-6" width="102.5" height="91.3" fill="#bcc8ec"/></g><g clip-path="url(#n1c1)"><rect x="0" y="0" width="90.5" height="79.3" fill="#000" filter="url(#nW)" opacity="1.0"/></g><g clip-path="url(#n1c1)"><rect x="0" y="0" width="90.5" height="79.3" fill="#000" filter="url(#nW3)" opacity="1.0"/></g><g clip-path="url(#n1c1)"><rect x="0" y="0" width="90.5" height="79.3" fill="#000" filter="url(#nL)" opacity="0.4"/></g><g clip-path="url(#n1c1)"><rect x="0" y="0" width="90.5" height="79.3" fill="#000" filter="url(#nB)" opacity="0.4"/></g></g><text x="73.5" y="75.3" font-size="5" fill="#111">100 <tspan font-size="3.6">μm</tspan></text><line x1="70.5" y1="77.0" x2="88.5" y2="77.0" stroke="#222" stroke-width="0.9"/></g></g>
<rect x="29.10" y="870.20" width="90.50" height="79.30" fill="none" stroke="#333" stroke-width="0.8" />
<defs><clipPath id="cn20"><rect x="121.30" y="789.10" width="90.50" height="79.30"/></clipPath></defs>
<g clip-path="url(#cn20)"><g transform="translate(121.30,789.10)"><rect width="90.5" height="79.3" fill="#b2cff0"/><g><rect x="0" y="0" width="90.5" height="79.3" fill="#000" filter="url(#nW2)" opacity="0.8"/></g><g><rect x="0" y="0" width="90.5" height="79.3" fill="#000" filter="url(#nL)" opacity="0.3"/></g><g><rect x="0" y="0" width="90.5" height="79.3" fill="#000" filter="url(#nB)" opacity="0.45"/></g><text x="73.5" y="75.3" font-size="5" fill="#111">100 <tspan font-size="3.6">μm</tspan></text><line x1="70.5" y1="77.0" x2="88.5" y2="77.0" stroke="#222" stroke-width="0.9"/></g></g>
<rect x="121.30" y="789.10" width="90.50" height="79.30" fill="none" stroke="#333" stroke-width="0.8" />
<defs><clipPath id="cn21"><rect x="121.30" y="870.20" width="90.50" height="79.30"/></clipPath></defs>
<g clip-path="url(#cn21)"><g transform="translate(121.30,870.20)"><rect width="90.5" height="79.3" fill="#a6bfee"/><g><rect x="0" y="0" width="90.5" height="79.3" fill="#000" filter="url(#nW2)" opacity="0.8"/></g><g><rect x="0" y="0" width="90.5" height="79.3" fill="#000" filter="url(#nL)" opacity="0.3"/></g><g><rect x="0" y="0" width="90.5" height="79.3" fill="#000" filter="url(#nB)" opacity="0.45"/></g><text x="73.5" y="75.3" font-size="5" fill="#111">100 <tspan font-size="3.6">μm</tspan></text><line x1="70.5" y1="77.0" x2="88.5" y2="77.0" stroke="#222" stroke-width="0.9"/></g></g>
<rect x="121.30" y="870.20" width="90.50" height="79.30" fill="none" stroke="#333" stroke-width="0.8" />
<defs><clipPath id="cn30"><rect x="213.60" y="789.10" width="90.50" height="79.30"/></clipPath></defs>
<g clip-path="url(#cn30)"><g transform="translate(213.60,789.10)"><rect width="90.5" height="79.3" fill="#c4d6f2"/><g><rect x="0" y="0" width="90.5" height="79.3" fill="#000" filter="url(#nW)" opacity="1.0"/></g><g><rect x="0" y="0" width="90.5" height="79.3" fill="#000" filter="url(#nW2)" opacity="0.6"/></g><g><rect x="0" y="0" width="90.5" height="79.3" fill="#000" filter="url(#nL)" opacity="0.35"/></g><g><rect x="0" y="0" width="90.5" height="79.3" fill="#000" filter="url(#nB)" opacity="0.6"/></g><g><rect x="0" y="0" width="90.5" height="79.3" fill="#000" filter="url(#nBr)" opacity="0.8"/></g><text x="73.5" y="75.3" font-size="5" fill="#111">100 <tspan font-size="3.6">μm</tspan></text><line x1="70.5" y1="77.0" x2="88.5" y2="77.0" stroke="#222" stroke-width="0.9"/></g></g>
<rect x="213.60" y="789.10" width="90.50" height="79.30" fill="none" stroke="#333" stroke-width="0.8" />
<defs><clipPath id="cn31"><rect x="213.60" y="870.20" width="90.50" height="79.30"/></clipPath></defs>
<g clip-path="url(#cn31)"><g transform="translate(213.60,870.20)"><rect width="90.5" height="79.3" fill="#b8ccf0"/><g><rect x="0" y="0" width="90.5" height="79.3" fill="#000" filter="url(#nW)" opacity="1.0"/></g><g><rect x="0" y="0" width="90.5" height="79.3" fill="#000" filter="url(#nW2)" opacity="0.6"/></g><g><rect x="0" y="0" width="90.5" height="79.3" fill="#000" filter="url(#nL)" opacity="0.35"/></g><g><rect x="0" y="0" width="90.5" height="79.3" fill="#000" filter="url(#nB)" opacity="0.6"/></g><g><rect x="0" y="0" width="90.5" height="79.3" fill="#000" filter="url(#nBr)" opacity="0.8"/></g><text x="73.5" y="75.3" font-size="5" fill="#111">100 <tspan font-size="3.6">μm</tspan></text><line x1="70.5" y1="77.0" x2="88.5" y2="77.0" stroke="#222" stroke-width="0.9"/></g></g>
<rect x="213.60" y="870.20" width="90.50" height="79.30" fill="none" stroke="#333" stroke-width="0.8" />
<defs><clipPath id="cn40"><rect x="306.90" y="789.10" width="90.50" height="79.30"/></clipPath></defs>
<g clip-path="url(#cn40)"><g transform="translate(306.90,789.10)"><rect width="90.5" height="79.3" fill="#fdfdfd"/><path d="M44,0 C47,10 52,20 60,25 C70,30 80,33 97,34 L97,-6 L44,-6 Z" fill="#faf7f3"/><defs><clipPath id="n4c0"><path d="M-6,-6 L44,-6 L44,0 C47,10 52,20 60,25 C70,30 80,33 97,34 L97,67 C85,70 72,76 60,75 C48,74 38,68 28,60 C18,50 8,35 -6,26 Z"/></clipPath></defs><g filter="url(#wob2)"><g clip-path="url(#n4c0)"><rect x="-6" y="-6" width="102.5" height="91.3" fill="#d6cad8"/><ellipse cx="8.0" cy="8.0" rx="3.8" ry="7.5" transform="rotate(-30 8.0 8.0)" fill="#f7f3f6" stroke="#6e60b0" stroke-width="0.8"/><ellipse cx="4.8" cy="22.5" rx="3.4" ry="6.5" transform="rotate(-30 4.8 22.5)" fill="#f3eef3" stroke="#7a6cb4" stroke-width="0.7" opacity="0.9"/><ellipse cx="19.0" cy="11.0" rx="3.8" ry="7.5" transform="rotate(-20 19.0 11.0)" fill="#f7f3f6" stroke="#6e60b0" stroke-width="0.8"/><ellipse cx="16.9" cy="24.9" rx="3.4" ry="6.5" transform="rotate(-20 16.9 24.9)" fill="#f3eef3" stroke="#7a6cb4" stroke-width="0.7" opacity="0.9"/><ellipse cx="30.0" cy="17.0" rx="3.8" ry="7.5" transform="rotate(-25 30.0 17.0)" fill="#f7f3f6" stroke="#6e60b0" stroke-width="0.8"/><ellipse cx="29.0" cy="30.2" rx="3.4" ry="6.5" transform="rotate(-25 29.0 30.2)" fill="#f3eef3" stroke="#7a6cb4" stroke-width="0.7" opacity="0.9"/><ellipse cx="41.0" cy="24.0" rx="3.8" ry="7.5" transform="rotate(-30 41.0 24.0)" fill="#f7f3f6" stroke="#6e60b0" stroke-width="0.8"/><ellipse cx="41.1" cy="36.5" rx="3.4" ry="6.5" transform="rotate(-30 41.1 36.5)" fill="#f3eef3" stroke="#7a6cb4" stroke-width="0.7" opacity="0.9"/><ellipse cx="51.0" cy="31.0" rx="3.8" ry="7.5" transform="rotate(-35 51.0 31.0)" fill="#f7f3f6" stroke="#6e60b0" stroke-width="0.8"/><ellipse cx="52.1" cy="42.9" rx="3.4" ry="6.5" transform="rotate(-35 52.1 42.9)" fill="#f3eef3" stroke="#7a6cb4" stroke-width="0.7" opacity="0.9"/><ellipse cx="61.0" cy="37.0" rx="3.8" ry="7.5" transform="rotate(-45 61.0 37.0)" fill="#f7f3f6" stroke="#6e60b0" stroke-width="0.8"/><ellipse cx="63.1" cy="48.3" rx="3.4" ry="6.5" transform="rotate(-45 63.1 48.3)" fill="#f3eef3" stroke="#7a6cb4" stroke-width="0.7" opacity="0.9"/><ellipse cx="71.0" cy="41.0" rx="3.8" ry="7.5" transform="rotate(-60 71.0 41.0)" fill="#f7f3f6" stroke="#6e60b0" stroke-width="0.8"/><ellipse cx="74.1" cy="51.7" rx="3.4" ry="6.5" transform="rotate(-60 74.1 51.7)" fill="#f3eef3" stroke="#7a6cb4" stroke-width="0.7" opacity="0.9"/><ellipse cx="80.0" cy="42.0" rx="3.8" ry="7.5" transform="rotate(-75 80.0 42.0)" fill="#f7f3f6" stroke="#6e60b0" stroke-width="0.8"/><ellipse cx="84.0" cy="52.2" rx="3.4" ry="6.5" transform="rotate(-75 84.0 52.2)" fill="#f3eef3" stroke="#7a6cb4" stroke-width="0.7" opacity="0.9"/><ellipse cx="88.0" cy="41.0" rx="3.8" ry="7.5" transform="rotate(-85 88.0 41.0)" fill="#f7f3f6" stroke="#6e60b0" stroke-width="0.8"/><ellipse cx="92.8" cy="50.7" rx="3.4" ry="6.5" transform="rotate(-85 92.8 50.7)" fill="#f3eef3" stroke="#7a6cb4" stroke-width="0.7" opacity="0.9"/></g><g clip-path="url(#n4c0)"><rect x="0" y="0" width="90.5" height="79.3" fill="#000" filter="url(#nW)" opacity="0.5"/></g><g clip-path="url(#n4c0)"><rect x="0" y="0" width="90.5" height="79.3" fill="#000" filter="url(#nB)" opacity="0.6"/></g><g clip-path="url(#n4c0)"><rect x="0" y="0" width="90.5" height="79.3" fill="#000" filter="url(#nBr)" opacity="0.9"/></g></g><circle cx="54.1" cy="27.3" r="0.25" fill="#5a60b0"/><circle cx="51.8" cy="13.1" r="0.28" fill="#5a60b0"/><circle cx="62.5" cy="23.5" r="0.47" fill="#8a5030"/><circle cx="86.6" cy="21.8" r="0.34" fill="#8a5030"/><circle cx="72.8" cy="6.9" r="0.30" fill="#5a60b0"/><circle cx="53.3" cy="13.7" r="0.26" fill="#5a60b0"/><circle cx="79.3" cy="18.9" r="0.35" fill="#5a60b0"/><circle cx="88.4" cy="7.1" r="0.50" fill="#5a60b0"/><circle cx="53.8" cy="20.7" r="0.34" fill="#8a5030"/><circle cx="90.0" cy="28.7" r="0.39" fill="#5a60b0"/><circle cx="50.5" cy="14.9" r="0.26" fill="#8a5030"/><text x="73.5" y="75.3" font-size="5" fill="#111">100 <tspan font-size="3.6">μm</tspan></text><line x1="70.5" y1="77.0" x2="88.5" y2="77.0" stroke="#222" stroke-width="0.9"/></g></g>
<rect x="306.90" y="789.10" width="90.50" height="79.30" fill="none" stroke="#333" stroke-width="0.8" />
<defs><clipPath id="cn41"><rect x="306.90" y="870.20" width="90.50" height="79.30"/></clipPath></defs>
<g clip-path="url(#cn41)"><g transform="translate(306.90,870.20)"><rect width="90.5" height="79.3" fill="#fdfdfd"/><path d="M40,0 C45,10 55,18 70,21 L97,21 L97,-6 L40,-6 Z" fill="#efeff4"/><path d="M-6,25 C6,34 14,46 22,56 C30,66 38,76 44,86 L-6,86 Z" fill="#f3f3f8"/><defs><clipPath id="n4c1"><path d="M-6,-6 L40,-6 L40,0 C45,10 55,18 70,21 L97,21 L97,86 L44,86 C38,76 30,66 22,56 C14,46 6,34 -6,25 Z"/></clipPath></defs><g filter="url(#wob2)"><g clip-path="url(#n4c1)"><rect x="-6" y="-6" width="102.5" height="91.3" fill="#d0d0ec"/><ellipse cx="10.0" cy="9.0" rx="3.8" ry="7.5" transform="rotate(-30 10.0 9.0)" fill="#f7f3f6" stroke="#6e60b0" stroke-width="0.8"/><ellipse cx="7.0" cy="23.4" rx="3.4" ry="6.5" transform="rotate(-30 7.0 23.4)" fill="#f3eef3" stroke="#7a6cb4" stroke-width="0.7" opacity="0.9"/><ellipse cx="21.0" cy="15.0" rx="3.8" ry="7.5" transform="rotate(-20 21.0 15.0)" fill="#f7f3f6" stroke="#6e60b0" stroke-width="0.8"/><ellipse cx="19.1" cy="28.7" rx="3.4" ry="6.5" transform="rotate(-20 19.1 28.7)" fill="#f3eef3" stroke="#7a6cb4" stroke-width="0.7" opacity="0.9"/><ellipse cx="32.0" cy="20.0" rx="3.8" ry="7.5" transform="rotate(-25 32.0 20.0)" fill="#f7f3f6" stroke="#6e60b0" stroke-width="0.8"/><ellipse cx="31.2" cy="33.1" rx="3.4" ry="6.5" transform="rotate(-25 31.2 33.1)" fill="#f3eef3" stroke="#7a6cb4" stroke-width="0.7" opacity="0.9"/><ellipse cx="43.0" cy="26.0" rx="3.8" ry="7.5" transform="rotate(-30 43.0 26.0)" fill="#f7f3f6" stroke="#6e60b0" stroke-width="0.8"/><ellipse cx="43.3" cy="38.4" rx="3.4" ry="6.5" transform="rotate(-30 43.3 38.4)" fill="#f3eef3" stroke="#7a6cb4" stroke-width="0.7" opacity="0.9"/><ellipse cx="54.0" cy="33.0" rx="3.8" ry="7.5" transform="rotate(-40 54.0 33.0)" fill="#f7f3f6" stroke="#6e60b0" stroke-width="0.8"/><ellipse cx="55.4" cy="44.8" rx="3.4" ry="6.5" transform="rotate(-40 55.4 44.8)" fill="#f3eef3" stroke="#7a6cb4" stroke-width="0.7" opacity="0.9"/><ellipse cx="65.0" cy="38.0" rx="3.8" ry="7.5" transform="rotate(-55 65.0 38.0)" fill="#f7f3f6" stroke="#6e60b0" stroke-width="0.8"/><ellipse cx="67.5" cy="49.1" rx="3.4" ry="6.5" transform="rotate(-55 67.5 49.1)" fill="#f3eef3" stroke="#7a6cb4" stroke-width="0.7" opacity="0.9"/><ellipse cx="76.0" cy="40.0" rx="3.8" ry="7.5" transform="rotate(-70 76.0 40.0)" fill="#f7f3f6" stroke="#6e60b0" stroke-width="0.8"/><ellipse cx="79.6" cy="50.4" rx="3.4" ry="6.5" transform="rotate(-70 79.6 50.4)" fill="#f3eef3" stroke="#7a6cb4" stroke-width="0.7" opacity="0.9"/><ellipse cx="86.0" cy="39.0" rx="3.8" ry="7.5" transform="rotate(-85 86.0 39.0)" fill="#f7f3f6" stroke="#6e60b0" stroke-width="0.8"/><ellipse cx="90.6" cy="48.8" rx="3.4" ry="6.5" transform="rotate(-85 90.6 48.8)" fill="#f3eef3" stroke="#7a6cb4" stroke-width="0.7" opacity="0.9"/></g><g clip-path="url(#n4c1)"><rect x="0" y="0" width="90.5" height="79.3" fill="#000" filter="url(#nW)" opacity="0.5"/></g><g clip-path="url(#n4c1)"><rect x="0" y="0" width="90.5" height="79.3" fill="#000" filter="url(#nB)" opacity="0.6"/></g><g clip-path="url(#n4c1)"><rect x="0" y="0" width="90.5" height="79.3" fill="#000" filter="url(#nBr)" opacity="0.4"/></g></g><circle cx="76.4" cy="24.6" r="0.41" fill="#8a5030"/><circle cx="83.4" cy="1.3" r="0.49" fill="#8a5030"/><circle cx="74.5" cy="22.5" r="0.49" fill="#8a5030"/><circle cx="56.1" cy="3.0" r="0.34" fill="#5a60b0"/><circle cx="51.8" cy="22.2" r="0.48" fill="#5a60b0"/><circle cx="63.5" cy="2.4" r="0.45" fill="#5a60b0"/><circle cx="74.8" cy="25.6" r="0.29" fill="#5a60b0"/><text x="73.5" y="75.3" font-size="5" fill="#111">100 <tspan font-size="3.6">μm</tspan></text><line x1="70.5" y1="77.0" x2="88.5" y2="77.0" stroke="#222" stroke-width="0.9"/></g></g>
<rect x="306.90" y="870.20" width="90.50" height="79.30" fill="none" stroke="#333" stroke-width="0.8" />
<text x="74.50" y="785.20" font-size="8.60" text-anchor="middle" fill="#111">WT</text>
<text x="166.50" y="784.90" font-size="8.60" text-anchor="middle" fill="#111" textLength="56.0" lengthAdjust="spacingAndGlyphs"><tspan font-style="italic">Apc</tspan>-KO-NC</text>
<text x="262.70" y="784.90" font-size="8.60" text-anchor="middle" fill="#111" textLength="59.4" lengthAdjust="spacingAndGlyphs"><tspan font-style="italic">Apc</tspan>-KO-NPs</text>
<text x="352.00" y="784.90" font-size="8.60" text-anchor="middle" fill="#111" textLength="94.0" lengthAdjust="spacingAndGlyphs"><tspan font-style="italic">Apc</tspan>-KO-NPs-AS1411</text>
<text x="15.50" y="834.44" font-size="9.00" text-anchor="middle" fill="#111" textLength="20.4" lengthAdjust="spacingAndGlyphs">CD8</text>
<text x="14.30" y="910.94" font-size="9.00" text-anchor="middle" fill="#111" textLength="25.7" lengthAdjust="spacingAndGlyphs">CD86</text>
<text x="162.70" y="319.61" font-size="9.20" text-anchor="middle" fill="#222" textLength="28.9" lengthAdjust="spacingAndGlyphs">Tumor</text>
<text x="493.60" y="316.41" font-size="9.20" text-anchor="middle" fill="#222" textLength="29.1" lengthAdjust="spacingAndGlyphs">Tumor</text>
<text x="6.00" y="14.90" font-size="17.80" font-weight="bold" fill="#000">a</text>
<text x="166.60" y="14.30" font-size="18.00" font-weight="bold" fill="#000">b</text>
<text x="455.60" y="15.20" font-size="17.80" font-weight="bold" fill="#000">c</text>
<text x="9.60" y="164.60" font-size="18.20" font-weight="bold" fill="#000">d</text>
<text x="119.80" y="164.00" font-size="18.60" font-weight="bold" fill="#000">e</text>
<text x="233.40" y="163.50" font-size="18.00" font-weight="bold" fill="#000">f</text>
<text x="479.20" y="162.80" font-size="18.60" font-weight="bold" fill="#000">g</text>
<text x="16.20" y="318.40" font-size="18.00" font-weight="bold" fill="#000">h</text>
<text x="273.70" y="318.50" font-size="18.00" font-weight="bold" fill="#000">i</text>
<text x="19.60" y="518.80" font-size="18.00" font-weight="bold" fill="#000">j</text>
<text x="338.60" y="524.20" font-size="18.50" font-weight="bold" fill="#000">k</text>
<text x="539.80" y="523.50" font-size="18.00" font-weight="bold" fill="#000">l</text>
<text x="17.80" y="668.10" font-size="18.80" font-weight="bold" fill="#000">m</text>
<text x="15.60" y="771.00" font-size="18.80" font-weight="bold" fill="#000">n</text>
<text x="403.20" y="772.90" font-size="18.20" font-weight="bold" fill="#000">o</text>
</svg></body></html>
